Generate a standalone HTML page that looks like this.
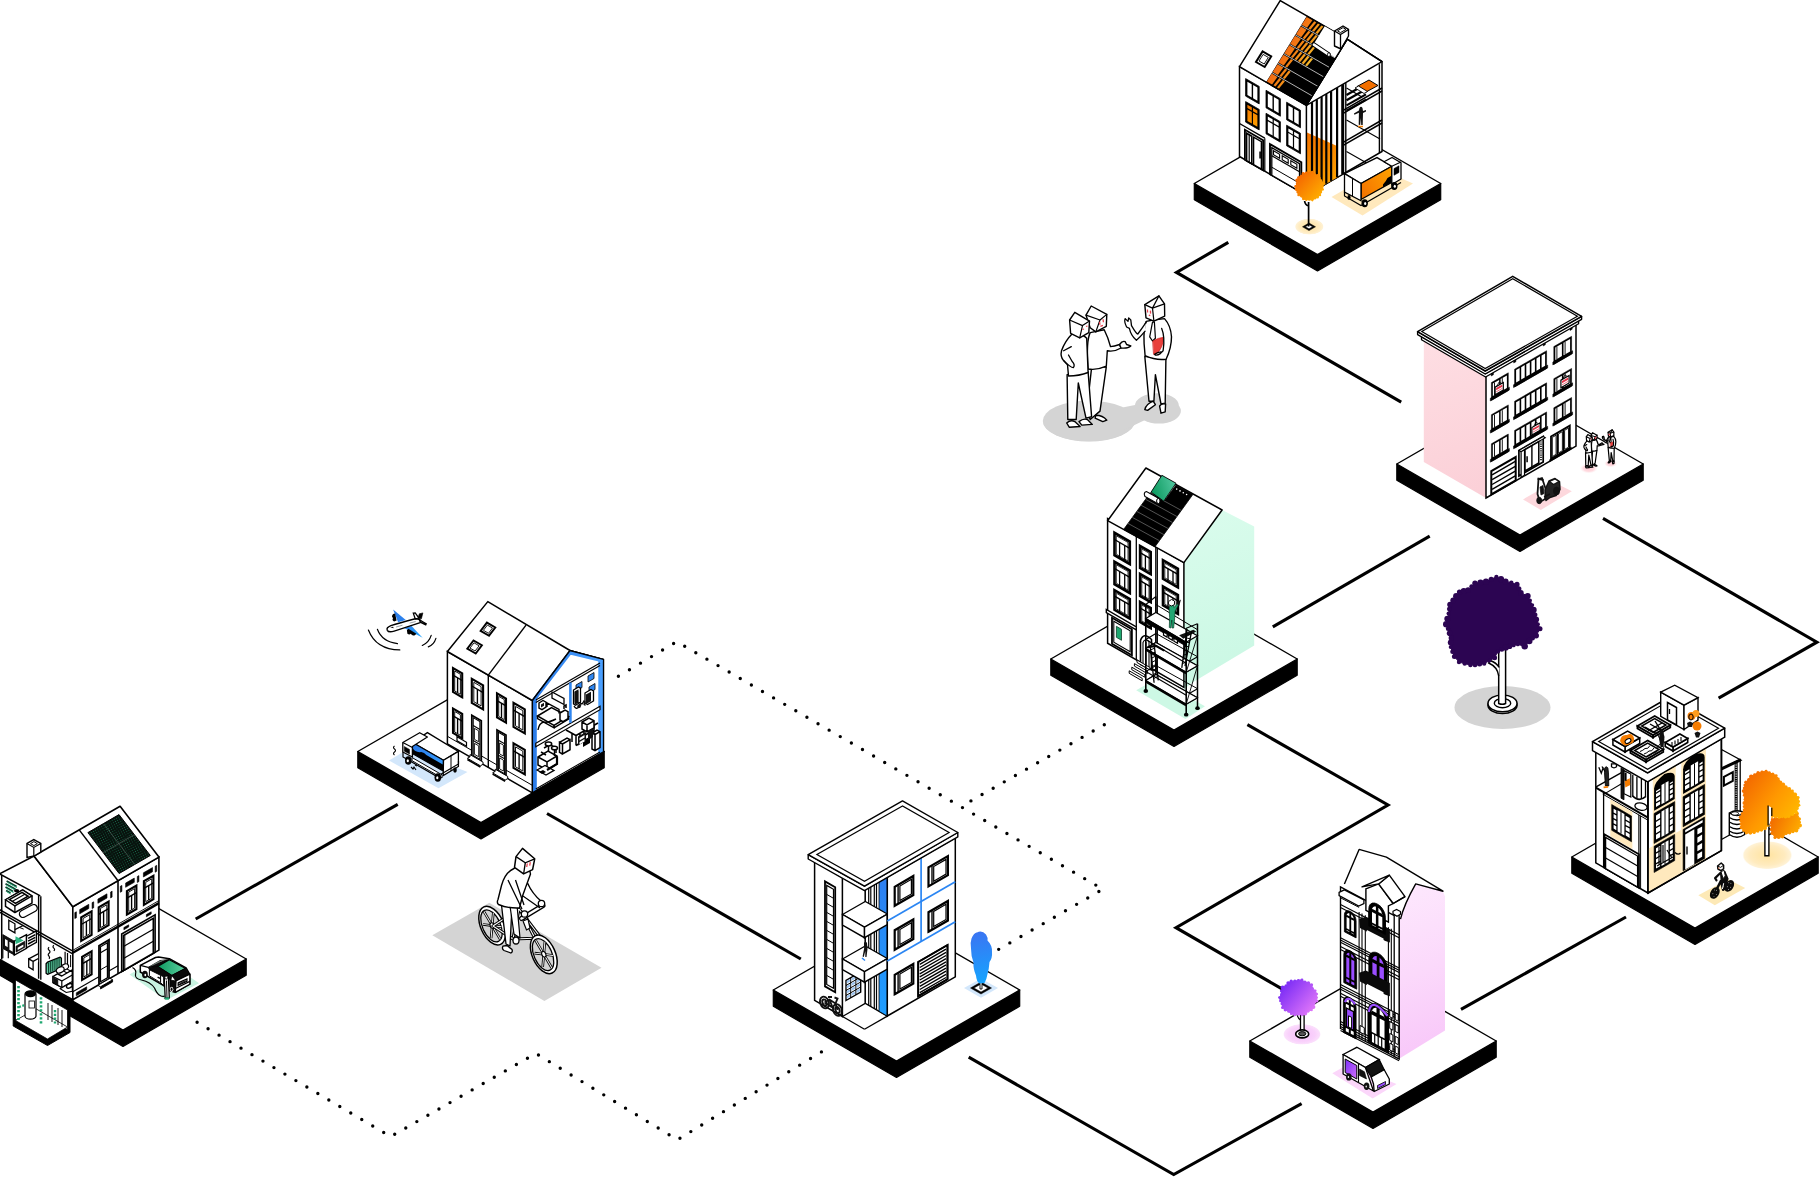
<!DOCTYPE html>
<html><head><meta charset="utf-8"><title>Renovation neighbourhood</title>
<style>html,body{margin:0;padding:0;background:#fff;overflow:hidden}svg{display:block}</style></head>
<body><svg width="1820" height="1178" viewBox="0 0 1820 1178">
<defs>
<linearGradient id="g1rad" gradientUnits="userSpaceOnUse" x1="46" y1="960" x2="62" y2="978"><stop offset="0" stop-color="#3fbf8f"/><stop offset="1" stop-color="#9fe3c6"/></linearGradient>
<pattern id="sol1" width="2.4" height="2.4" patternUnits="userSpaceOnUse" patternTransform="rotate(-30)"><rect width="2.4" height="2.4" fill="#08130e"/><circle cx="1.2" cy="1.2" r="0.42" fill="#1c8a5d"/></pattern>
<linearGradient id="g1car" gradientUnits="userSpaceOnUse" x1="157" y1="966" x2="186" y2="968"><stop offset="0" stop-color="#0b9a5f"/><stop offset="1" stop-color="#5fd1a2"/></linearGradient>
<linearGradient id="g2b" gradientUnits="userSpaceOnUse" x1="532" y1="700" x2="604" y2="700"><stop offset="0" stop-color="#2a7be8"/><stop offset="1" stop-color="#4aa0ff"/></linearGradient>
<linearGradient id="g2t" gradientUnits="userSpaceOnUse" x1="412" y1="750" x2="444" y2="770"><stop offset="0" stop-color="#2a7be8"/><stop offset="1" stop-color="#3aa0ff"/></linearGradient>
<linearGradient id="g2w" gradientUnits="userSpaceOnUse" x1="393" y1="610" x2="423" y2="637"><stop offset="0" stop-color="#2a7be8"/><stop offset="0.5" stop-color="#2f86f0"/><stop offset="1" stop-color="#25a8ff"/></linearGradient>
<linearGradient id="g3b" gradientUnits="userSpaceOnUse" x1="0" y1="860" x2="0" y2="1010"><stop offset="0" stop-color="#2f7bef"/><stop offset="1" stop-color="#1e9dff"/></linearGradient>
<linearGradient id="g3t" gradientUnits="userSpaceOnUse" x1="975" y1="932" x2="985" y2="985"><stop offset="0" stop-color="#3b74f2"/><stop offset="1" stop-color="#14a6ff"/></linearGradient>
<linearGradient id="g4o" gradientUnits="userSpaceOnUse" x1="1306" y1="130" x2="1340" y2="195"><stop offset="0" stop-color="#f26f00"/><stop offset="1" stop-color="#ffae00"/></linearGradient>
<linearGradient id="g4r" gradientUnits="userSpaceOnUse" x1="1266" y1="80" x2="1310" y2="10"><stop offset="0" stop-color="#ff9a00"/><stop offset="1" stop-color="#f26f00"/></linearGradient>
<linearGradient id="g4w" gradientUnits="userSpaceOnUse" x1="1245" y1="100" x2="1259" y2="130"><stop offset="0" stop-color="#f26f00"/><stop offset="1" stop-color="#ffa500"/></linearGradient>
<linearGradient id="g4r" gradientUnits="userSpaceOnUse" x1="1266" y1="85" x2="1325" y2="20"><stop offset="0" stop-color="#f7a21a"/><stop offset="0.5" stop-color="#f58a12"/><stop offset="1" stop-color="#f26a14"/></linearGradient>
<linearGradient id="g4r2" gradientUnits="userSpaceOnUse" x1="1287" y1="49.3" x2="1309.5" y2="62.3"><stop offset="0" stop-color="#f26c12"/><stop offset="0.45" stop-color="#f48a16"/><stop offset="1" stop-color="#f7b82a"/></linearGradient>
<linearGradient id="g4t" gradientUnits="userSpaceOnUse" x1="1361" y1="190" x2="1392" y2="172"><stop offset="0" stop-color="#f57600"/><stop offset="1" stop-color="#ffa000"/></linearGradient>
<radialGradient id="g4glow"><stop offset="0" stop-color="#ffe3a0"/><stop offset="0.7" stop-color="#ffebbf"/><stop offset="0.93" stop-color="#fff1d2" stop-opacity="0.95"/><stop offset="1" stop-color="#fff6e0" stop-opacity="0"/></radialGradient>
<linearGradient id="g4tree" gradientUnits="userSpaceOnUse" x1="1298" y1="178" x2="1320" y2="198"><stop offset="0" stop-color="#f56a00"/><stop offset="1" stop-color="#ffae00"/></linearGradient>
<linearGradient id="g5p" gradientUnits="userSpaceOnUse" x1="1424" y1="340" x2="1486" y2="498"><stop offset="0" stop-color="#fedee3"/><stop offset="1" stop-color="#fbcfd7"/></linearGradient>
<radialGradient id="g5s"><stop offset="0" stop-color="#ffc9d2"/><stop offset="0.6" stop-color="#ffd6dc" stop-opacity="0.9"/><stop offset="1" stop-color="#ffe9ec" stop-opacity="0"/></radialGradient>
<linearGradient id="g6g" gradientUnits="userSpaceOnUse" x1="1190" y1="520" x2="1250" y2="690"><stop offset="0" stop-color="#d9fcec"/><stop offset="1" stop-color="#c9f7e3"/></linearGradient>
<linearGradient id="g6r" gradientUnits="userSpaceOnUse" x1="1152" y1="492" x2="1174" y2="485"><stop offset="0" stop-color="#0b9a5f"/><stop offset="1" stop-color="#4cc39a"/></linearGradient>
<linearGradient id="g7o" gradientUnits="objectBoundingBox" x1="0" y1="0" x2="1" y2="1"><stop offset="0" stop-color="#f26a00"/><stop offset="1" stop-color="#ffb400"/></linearGradient>
<radialGradient id="g7glow"><stop offset="0" stop-color="#ffe3a0"/><stop offset="0.7" stop-color="#ffebbf"/><stop offset="0.93" stop-color="#fff1d2" stop-opacity="0.95"/><stop offset="1" stop-color="#fff6e0" stop-opacity="0"/></radialGradient>
<linearGradient id="g7t1" gradientUnits="userSpaceOnUse" x1="1745" y1="775" x2="1800" y2="815"><stop offset="0" stop-color="#f26500"/><stop offset="0.55" stop-color="#ff9800"/><stop offset="1" stop-color="#ffbb00"/></linearGradient>
<linearGradient id="g7t2" gradientUnits="userSpaceOnUse" x1="1772" y1="818" x2="1801" y2="832"><stop offset="0" stop-color="#f26c00"/><stop offset="1" stop-color="#ffb000"/></linearGradient>
<linearGradient id="g8p" gradientUnits="userSpaceOnUse" x1="1395" y1="900" x2="1450" y2="1040"><stop offset="0" stop-color="#fde6fd"/><stop offset="0.5" stop-color="#fbd9fb"/><stop offset="1" stop-color="#f8c8f9"/></linearGradient>
<linearGradient id="g8v" gradientUnits="objectBoundingBox" x1="0" y1="0" x2="1" y2="1"><stop offset="0" stop-color="#7b2ff7"/><stop offset="1" stop-color="#d070fb"/></linearGradient>
<radialGradient id="g8glow"><stop offset="0" stop-color="#f6c0fa"/><stop offset="0.7" stop-color="#f9d1fb"/><stop offset="0.93" stop-color="#fbddfc" stop-opacity="0.95"/><stop offset="1" stop-color="#fdebfd" stop-opacity="0"/></radialGradient>
<linearGradient id="g8t" gradientUnits="userSpaceOnUse" x1="1283" y1="985" x2="1315" y2="1012"><stop offset="0" stop-color="#7a2cf5"/><stop offset="1" stop-color="#e57af9"/></linearGradient>
</defs>
<polyline points="195.7,919 397.7,804.4" fill="none" stroke="#000" stroke-width="3.1" stroke-linejoin="miter" stroke-miterlimit="10"/>
<polyline points="547,813.5 800.8,959" fill="none" stroke="#000" stroke-width="3.1" stroke-linejoin="miter" stroke-miterlimit="10"/>
<polyline points="1228.3,242.4 1176.5,272.4 1401.2,402.2" fill="none" stroke="#000" stroke-width="3.1" stroke-linejoin="miter" stroke-miterlimit="10"/>
<polyline points="1429.7,536.2 1272.8,626.9" fill="none" stroke="#000" stroke-width="3.1" stroke-linejoin="miter" stroke-miterlimit="10"/>
<polyline points="1603,518.4 1816.9,642.2 1718.6,698.2" fill="none" stroke="#000" stroke-width="3.1" stroke-linejoin="miter" stroke-miterlimit="10"/>
<polyline points="1247.4,724.7 1388,805 1176,927.7 1285,990.6" fill="none" stroke="#000" stroke-width="3.1" stroke-linejoin="miter" stroke-miterlimit="10"/>
<polyline points="1626,917 1461,1009.4" fill="none" stroke="#000" stroke-width="3.1" stroke-linejoin="miter" stroke-miterlimit="10"/>
<polyline points="968.7,1057.2 1173.7,1174.5 1301.6,1103.6" fill="none" stroke="#000" stroke-width="3.1" stroke-linejoin="miter" stroke-miterlimit="10"/>
<polyline points="618.4,676.3 676.7,641.6 1102.9,889.2 996,950.9" fill="none" stroke="#000" stroke-width="3.4" stroke-linecap="round" stroke-linejoin="round" stroke-dasharray="0 12.85" stroke-dashoffset="0"/>
<polyline points="1104.3,724.7 961.5,806.3" fill="none" stroke="#000" stroke-width="3.4" stroke-linecap="round" stroke-linejoin="round" stroke-dasharray="0 12.8" stroke-dashoffset="0"/>
<polyline points="197.1,1022.2 390.7,1136.6 535.8,1053.4 677.4,1139.8 821.9,1051.6" fill="none" stroke="#000" stroke-width="3.4" stroke-linecap="round" stroke-linejoin="round" stroke-dasharray="0 12.75" stroke-dashoffset="0"/>
<polygon points="-0.2,959 123,1030.1 246.2,959 246.2,975.3 123,1046.4 -0.2,975.3" fill="#000" stroke="#000" stroke-width="1.2" stroke-linejoin="round"/>
<polygon points="-0.2,959 123,887.9 246.2,959 123,1030.1" fill="#fff" stroke="#000" stroke-width="1.4" stroke-linejoin="round"/>
<polygon points="357.8,751.5 481,822.6 604.2,751.5 604.2,767.8 481,838.9 357.8,767.8" fill="#000" stroke="#000" stroke-width="1.2" stroke-linejoin="round"/>
<polygon points="357.8,751.5 481,680.4 604.2,751.5 481,822.6" fill="#fff" stroke="#000" stroke-width="1.4" stroke-linejoin="round"/>
<polygon points="773.3,990 896.5,1061.1 1019.7,990 1019.7,1006.3 896.5,1077.4 773.3,1006.3" fill="#000" stroke="#000" stroke-width="1.2" stroke-linejoin="round"/>
<polygon points="773.3,990 896.5,918.9 1019.7,990 896.5,1061.1" fill="#fff" stroke="#000" stroke-width="1.4" stroke-linejoin="round"/>
<polygon points="1194.3,183.5 1317.5,254.6 1440.7,183.5 1440.7,199.8 1317.5,270.9 1194.3,199.8" fill="#000" stroke="#000" stroke-width="1.2" stroke-linejoin="round"/>
<polygon points="1194.3,183.5 1317.5,112.4 1440.7,183.5 1317.5,254.6" fill="#fff" stroke="#000" stroke-width="1.4" stroke-linejoin="round"/>
<polygon points="1396.8,464 1520,535.1 1643.2,464 1643.2,480.3 1520,551.4 1396.8,480.3" fill="#000" stroke="#000" stroke-width="1.2" stroke-linejoin="round"/>
<polygon points="1396.8,464 1520,392.9 1643.2,464 1520,535.1" fill="#fff" stroke="#000" stroke-width="1.4" stroke-linejoin="round"/>
<polygon points="1050.8,659 1174,730.1 1297.2,659 1297.2,675.3 1174,746.4 1050.8,675.3" fill="#000" stroke="#000" stroke-width="1.2" stroke-linejoin="round"/>
<polygon points="1050.8,659 1174,587.9 1297.2,659 1174,730.1" fill="#fff" stroke="#000" stroke-width="1.4" stroke-linejoin="round"/>
<polygon points="1571.8,857 1695,928.1 1818.2,857 1818.2,873.3 1695,944.4 1571.8,873.3" fill="#000" stroke="#000" stroke-width="1.2" stroke-linejoin="round"/>
<polygon points="1571.8,857 1695,785.9 1818.2,857 1695,928.1" fill="#fff" stroke="#000" stroke-width="1.4" stroke-linejoin="round"/>
<polygon points="1249.8,1041 1373,1112.1 1496.2,1041 1496.2,1057.3 1373,1128.4 1249.8,1057.3" fill="#000" stroke="#000" stroke-width="1.2" stroke-linejoin="round"/>
<polygon points="1249.8,1041 1373,969.9 1496.2,1041 1373,1112.1" fill="#fff" stroke="#000" stroke-width="1.4" stroke-linejoin="round"/>
<polygon points="13.2,975 70,1008 70,1032.5 47.5,1045.5 13.2,1026" fill="#000" stroke="#000" stroke-width="1" />
<polygon points="15.5,980 67.5,1010 67.5,1029.5 47.5,1018 15.5,1020" fill="#fff" stroke="#000" stroke-width="0.8" />
<polygon points="15.5,1020.5 36,1008.8 67.5,1027 47.5,1039" fill="#fff" stroke="#000" stroke-width="0.8" />
<path d="M25 994 v22 a5.5 3.2 0 0 0 11 0 v-22 a5.5 3.2 0 0 0 -11 0z" fill="#fff" stroke="#000" stroke-width="1.2"/>
<ellipse cx="30.5" cy="994" rx="5.5" ry="3.2" fill="#000"/>
<rect x="29" y="1001" width="5.5" height="7" fill="#fff" stroke="#000" stroke-width="0.8"/>
<polyline points="18.5,986 18.5,1020" fill="none" stroke="#1fa870" stroke-width="2.6" stroke-dasharray="2.2 1.8"/>
<polyline points="41,997.2 41,1024.5" fill="none" stroke="#1fa870" stroke-width="2.6" stroke-dasharray="2.2 1.8"/>
<polyline points="19,1007 25,1005" fill="none" stroke="#1fa870" stroke-width="2.2" stroke-dasharray="2 1.5"/>
<polyline points="55,1010 55,1024" fill="none" stroke="#1fa870" stroke-width="2.4" stroke-dasharray="2.2 1.6"/>
<polyline points="48,1003 48,1020" fill="none" stroke="#000" stroke-width="0.9" />
<polyline points="52,1005 52,1022" fill="none" stroke="#000" stroke-width="0.9" />
<polyline points="58,1008 58,1025" fill="none" stroke="#000" stroke-width="0.9" />
<polyline points="62,1010 62,1027" fill="none" stroke="#000" stroke-width="0.9" />
<polygon points="72.8,999.8 72.8,906.8 34,856 -3,875.2 -3,958" fill="#fff" stroke="#000" stroke-width="1.6" />
<polyline points="-2.2,908.6 72.8,951.1" fill="none" stroke="#000" stroke-width="1.4" />
<polyline points="-2.2,911.1 72.3,953.6" fill="none" stroke="#000" stroke-width="1.4" />
<polyline points="38.6,895.2 38.6,978.7" fill="none" stroke="#000" stroke-width="1.4" />
<polyline points="40.8,896.3 40.8,979.8" fill="none" stroke="#000" stroke-width="1.4" />
<polyline points="-2.2,872.9 40.3,895.9" fill="none" stroke="#000" stroke-width="1.4" />
<polyline points="1.7,875 1.7,959.6" fill="none" stroke="#000" stroke-width="1.5" />
<polyline points="6.6,881 16.6,886.6" fill="none" stroke="#0b3d2a" stroke-width="1.7" />
<polyline points="7.3,882.4 17,887.8" fill="none" stroke="#2bb581" stroke-width="0.9" />
<polyline points="5.5,883.8 15.5,889.3" fill="none" stroke="#0b3d2a" stroke-width="1.7" />
<polyline points="6.2,885.1 15.9,890.5" fill="none" stroke="#2bb581" stroke-width="0.9" />
<polyline points="5.5,887.1 13.2,891.5" fill="none" stroke="#0b3d2a" stroke-width="1.7" />
<polyline points="6.2,888.4 13.7,892.7" fill="none" stroke="#2bb581" stroke-width="0.9" />
<polyline points="6.1,890.4 10.5,893" fill="none" stroke="#0b3d2a" stroke-width="1.7" />
<polyline points="6.7,891.7 10.9,894.2" fill="none" stroke="#2bb581" stroke-width="0.9" />
<polygon points="5.5,899.8 22.6,889.9 32,895.9 32,903.1 14.9,912.5 5.5,906.4" fill="#fff" stroke="#000" stroke-width="1.5" stroke-linejoin="round"/>
<polygon points="5.5,899.8 22.6,889.9 32,895.9 14.9,905.9" fill="#fff" stroke="#000" stroke-width="1.3" />
<polyline points="14.9,905.9 14.9,912.5" fill="none" stroke="#000" stroke-width="1.3" />
<polygon points="9.4,899.6 22.1,892.4 28.1,896.3 15.5,903.4" fill="#fff" stroke="#000" stroke-width="1.6" />
<polyline points="12.1,901.5 24.8,894.3" fill="none" stroke="#000" stroke-width="1.2" />
<ellipse cx="16.6" cy="890.8" rx="2.600" ry="1.700" fill="#000"/>
<path d="M23,913.9 L33.7,908.1" stroke="#000" stroke-width="8.400" stroke-linecap="round" fill="none"/><path d="M23,913.9 L33.7,908.1" stroke="#fff" stroke-width="5.800" stroke-linecap="round" fill="none"/>
<polygon points="8.8,920.2 14.9,923.8 14.9,932.9 8.8,929.4" fill="#fff" stroke="#000" stroke-width="1.3" />
<polyline points="14.9,929.6 23.7,925.2" fill="none" stroke="#000" stroke-width="1.2" />
<polyline points="19.3,927.4 23.7,929.1" fill="none" stroke="#000" stroke-width="1.0" />
<polygon points="2.8,934.6 14.3,941.2 14.3,955 2.8,948.4" fill="#111" stroke="#000" stroke-width="0.8" />
<polygon points="5,939 7.7,940.6 7.7,947.3 5,945.6" fill="#fff" stroke="none" stroke-width="0" />
<polygon points="9.4,941.7 12.7,943.6 12.7,951.7 9.4,949.8" fill="#fff" stroke="none" stroke-width="0" />
<polygon points="14.3,941.2 26.5,934.6 26.5,948.4 14.3,955" fill="#fff" stroke="#000" stroke-width="1.4" />
<polygon points="15.5,936.2 23.7,940.6 15.5,944.2" fill="#2bb581" stroke="none" stroke-width="0" />
<polygon points="16,946.2 24.8,941.2 24.8,947.3 16,952.2" fill="#111" stroke="#000" stroke-width="0.6" />
<polygon points="17.7,947.8 23.4,944.6 23.4,946.7 17.7,949.9" fill="#fff" stroke="none" stroke-width="0" />
<polygon points="26.5,936.2 36.4,930.9 36.4,942.3 26.5,947.8" fill="#fff" stroke="#000" stroke-width="1.3" />
<polyline points="28.1,938.4 35.3,934.6" fill="none" stroke="#000" stroke-width="1.5" />
<polyline points="28.1,941.2 35.3,937.3" fill="none" stroke="#000" stroke-width="1.5" />
<polyline points="28.1,944 35.3,940.1" fill="none" stroke="#000" stroke-width="1.5" />
<polyline points="2.8,948.4 2.8,958.3" fill="none" stroke="#000" stroke-width="1.2" />
<polyline points="8.3,951.7 8.3,958.3" fill="none" stroke="#000" stroke-width="1.2" />
<polygon points="28.7,958.9 38.1,953.9 38.1,961.6 33.1,969.9 28.7,967.1" fill="#fff" stroke="none" stroke-width="0" />
<polygon points="28.7,958.9 33.1,961.4 33.1,969.9 28.7,967.1" fill="#fff" stroke="#000" stroke-width="1.3" />
<polyline points="28.7,958.9 38.1,953.9" fill="none" stroke="#000" stroke-width="1.3" />
<polyline points="33.1,961.4 38.4,958.5" fill="none" stroke="#000" stroke-width="1.3" />
<polygon points="46.1,963.8 47.5,962.2 60.2,957.2 61.4,958.3 61.4,967.1 60.2,968.8 47.5,974.3 46.1,973.2" fill="url(#g1rad)" stroke="#000" stroke-width="1.3" stroke-linejoin="round"/>
<polyline points="48.6,962.5 48.6,973.2" fill="none" stroke="#0b3d2a" stroke-width="1.1" />
<polyline points="50.7,961.6 50.7,972.3" fill="none" stroke="#0b3d2a" stroke-width="1.1" />
<polyline points="52.8,960.6 52.8,971.3" fill="none" stroke="#0b3d2a" stroke-width="1.1" />
<polyline points="54.9,959.7 54.9,970.4" fill="none" stroke="#0b3d2a" stroke-width="1.1" />
<polyline points="57,958.7 57,969.4" fill="none" stroke="#0b3d2a" stroke-width="1.1" />
<polyline points="59.1,957.8 59.1,968.5" fill="none" stroke="#0b3d2a" stroke-width="1.1" />
<path d="M49.1 947.3 q-1.800 1.500 0 3 q1.800 1.500 0 3 q-1.800 1.500 0 3 q1 1.200 0 2.500 M53.8 945.3 q-1.600 1.400 0 2.800 q1.600 1.400 0 2.800" fill="none" stroke="#000" stroke-width="1.200"/>
<polyline points="65.1,951.7 65.1,969.3" fill="none" stroke="#000" stroke-width="1.2" />
<polyline points="67.5,953 67.5,968.2" fill="none" stroke="#000" stroke-width="1.2" />
<polyline points="70.6,955 70.6,967.1" fill="none" stroke="#000" stroke-width="1.0" />
<polygon points="63.5,967.1 72.3,972.1 72.3,976 63.5,971" fill="#fff" stroke="#000" stroke-width="1.1" />
<polygon points="53,976.5 57.4,973.8 61.8,976 72.3,969.9 72.3,981.5 61.8,987.5 53,982.6" fill="#fff" stroke="#000" stroke-width="1.4" stroke-linejoin="round"/>
<polygon points="53,976.5 61.8,980.9 61.8,987.5 53,982.6" fill="#fff" stroke="#000" stroke-width="1.2" />
<polyline points="61.8,980.9 72.3,974.9" fill="none" stroke="#000" stroke-width="1.2" />
<polygon points="53.5,977.6 57.9,979.8 57.9,985.3 53.5,983.1" fill="#111" stroke="#000" stroke-width="0.5" />
<ellipse cx="64.6" cy="967.1" rx="4.200" ry="2.800" fill="#fff" stroke="#000" stroke-width="1.200" transform="rotate(-28 64.6 967.1)"/>
<ellipse cx="60.2" cy="969.9" rx="4.200" ry="2.800" fill="#fff" stroke="#000" stroke-width="1.200" transform="rotate(-28 60.2 969.9)"/>
<polygon points="60.2,988.7 70.6,982.6 72.3,983.7 72.3,991.4 66.2,992.5" fill="#fff" stroke="#000" stroke-width="1.1" />
<ellipse cx="69.3" cy="985.9" rx="3" ry="2" fill="#fff" stroke="#000" stroke-width="1.400" transform="rotate(-28 69.3 985.9)"/>
<polygon points="72.8,999.8 158.9,950.1 158.9,857.1 72.8,906.8" fill="#fff" stroke="#000" stroke-width="1.6" />
<polyline points="72.8,952.8 158.9,903.1" fill="none" stroke="#000" stroke-width="2.4" />
<polyline points="72.8,950.3 158.9,900.6" fill="none" stroke="#000" stroke-width="0.9" />
<polyline points="118,973.7 118,880.7" fill="none" stroke="#000" stroke-width="1.6" />
<polyline points="72.8,991.8 118,965.7" fill="none" stroke="#000" stroke-width="1.1" />
<polygon points="81.2,940.9 91.6,934.9 91.6,911.4 81.2,917.4" fill="#fff" stroke="#000" stroke-width="2.1" />
<polygon points="83.1,937.7 89.7,933.9 89.7,914.7 83.1,918.5" fill="#fff" stroke="#000" stroke-width="0.9450000000000001" />
<polyline points="81.2,924.5 91.6,918.5" fill="none" stroke="#000" stroke-width="1.3650000000000002" />
<polyline points="86.4,935.8 86.4,921.5" fill="none" stroke="#000" stroke-width="1.3650000000000002" />
<polygon points="98.7,930.8 108.6,925.1 108.6,901.6 98.7,907.3" fill="#fff" stroke="#000" stroke-width="2.1" />
<polygon points="100.5,927.7 106.8,924.1 106.8,904.8 100.5,908.4" fill="#fff" stroke="#000" stroke-width="0.9450000000000001" />
<polyline points="98.7,914.4 108.6,908.7" fill="none" stroke="#000" stroke-width="1.3650000000000002" />
<polyline points="103.6,925.9 103.6,911.5" fill="none" stroke="#000" stroke-width="1.3650000000000002" />
<polygon points="126.9,914.5 136.4,909.1 136.4,885.6 126.9,891" fill="#fff" stroke="#000" stroke-width="2.1" />
<polygon points="128.7,911.5 134.6,908.1 134.6,888.6 128.7,892.1" fill="#fff" stroke="#000" stroke-width="0.9450000000000001" />
<polyline points="126.9,898.1 136.4,892.6" fill="none" stroke="#000" stroke-width="1.3650000000000002" />
<polyline points="131.6,909.8 131.6,895.4" fill="none" stroke="#000" stroke-width="1.3650000000000002" />
<polygon points="143.9,904.8 153.4,899.2 153.4,875.8 143.9,881.2" fill="#fff" stroke="#000" stroke-width="2.1" />
<polygon points="145.7,901.7 151.7,898.2 151.7,878.8 145.7,882.3" fill="#fff" stroke="#000" stroke-width="0.9450000000000001" />
<polyline points="143.9,888.3 153.4,882.8" fill="none" stroke="#000" stroke-width="1.3650000000000002" />
<polyline points="148.7,900 148.7,885.5" fill="none" stroke="#000" stroke-width="1.3650000000000002" />
<polygon points="79.7,913.8 88.8,908.5 88.8,904.3 79.7,909.6" fill="#000" stroke="#000" stroke-width="0.6" />
<polygon points="97.9,903.3 107,898 107,893.8 97.9,899.1" fill="#000" stroke="#000" stroke-width="0.6" />
<polygon points="125.6,887.3 134.3,882.3 134.3,878.1 125.6,883.1" fill="#000" stroke="#000" stroke-width="0.6" />
<polygon points="143.4,877 152.5,871.8 152.5,867.6 143.4,872.8" fill="#000" stroke="#000" stroke-width="0.6" />
<polygon points="74.8,918.6 76.4,917.8 76.4,911.8 74.8,912.6" fill="#000" stroke="#000" stroke-width="0.6" />
<polygon points="92.1,908.6 93.7,907.8 93.7,901.8 92.1,902.6" fill="#000" stroke="#000" stroke-width="0.6" />
<polygon points="110.6,898 112.1,897.1 112.1,891.1 110.6,892" fill="#000" stroke="#000" stroke-width="0.6" />
<polygon points="120.3,892.3 121.9,891.4 121.9,885.4 120.3,886.3" fill="#000" stroke="#000" stroke-width="0.6" />
<polygon points="137.3,882.5 138.9,881.6 138.9,875.6 137.3,876.5" fill="#000" stroke="#000" stroke-width="0.6" />
<polygon points="155.2,872.2 156.7,871.3 156.7,865.3 155.2,866.2" fill="#000" stroke="#000" stroke-width="0.6" />
<polygon points="82.1,979.9 91.6,974.4 91.6,951.4 82.1,956.9" fill="#fff" stroke="#000" stroke-width="2.1" />
<polygon points="83.8,976.9 89.8,973.4 89.8,954.5 83.8,958" fill="#fff" stroke="#000" stroke-width="0.9450000000000001" />
<polyline points="82.1,963.8 91.6,958.3" fill="none" stroke="#000" stroke-width="1.3650000000000002" />
<polyline points="86.8,975.2 86.8,961.1" fill="none" stroke="#000" stroke-width="1.3650000000000002" />
<polygon points="99,984.7 109,978.9 109,939.9 99,945.7" fill="#fff" stroke="#000" stroke-width="1.8" />
<polygon points="100.5,981.8 107.4,977.8 107.4,942.8 100.5,946.8" fill="#fff" stroke="#000" stroke-width="1.2" />
<polyline points="100.5,952.8 107.4,948.8" fill="none" stroke="#000" stroke-width="1.2" />
<polyline points="100.5,969.8 107.4,965.8" fill="none" stroke="#000" stroke-width="1.0" />
<polygon points="100.5,986.8 112.6,979.8 112.6,982 100.5,989" fill="#000" stroke="#000" stroke-width="0.8" />
<polygon points="97.9,985.3 110,978.3 112.6,979.8 100.5,986.8" fill="#fff" stroke="#000" stroke-width="1.0" />
<polygon points="76.3,995.8 86.7,989.8 86.7,986.8 76.3,992.8" fill="#000" stroke="#000" stroke-width="0.6" />
<polygon points="121.7,971.5 155.1,952.3 155.1,914.8 121.7,934" fill="#fff" stroke="#000" stroke-width="1.6" />
<polygon points="123.5,970.5 153.3,953.3 153.3,918.3 123.5,935.5" fill="#fff" stroke="#000" stroke-width="1.6" />
<polyline points="123.5,958.5 153.3,941.3" fill="none" stroke="#000" stroke-width="1.3" />
<polyline points="123.5,946.5 153.3,929.3" fill="none" stroke="#000" stroke-width="1.3" />
<polyline points="124.8,969.8 124.8,934.8" fill="none" stroke="#000" stroke-width="1.0" />
<polygon points="123.9,929.8 128.7,927 128.7,924.8 123.9,927.5" fill="#000" stroke="#000" stroke-width="0.6" />
<polygon points="146.4,916.8 151.2,914 151.2,911.8 146.4,914.5" fill="#000" stroke="#000" stroke-width="0.6" />
<polygon points="72.8,906.8 158.9,857.1 120.1,806.3 34,856" fill="#fff" stroke="#000" stroke-width="1.6" stroke-linejoin="round"/>
<polyline points="118,880.7 79.2,829.9" fill="none" stroke="#000" stroke-width="1.5" />
<polygon points="27,857.5 27,843.5 33.8,839.6 40.8,843.5 40.8,852 34,856" fill="#fff" stroke="#000" stroke-width="1.4" />
<polyline points="27,843.5 33.8,847.4 40.8,843.5" fill="none" stroke="#000" stroke-width="1.2" />
<polyline points="33.8,847.4 33.8,856" fill="none" stroke="#000" stroke-width="1.2" />
<polygon points="30.5,843.6 33.9,841.6 37.3,843.6 33.9,845.6" fill="#fff" stroke="#000" stroke-width="1.0" />
<polygon points="87.9,832.6 119,814.6 150.3,855.5 119.1,873.5" fill="url(#sol1)" stroke="#000" stroke-width="1.0" />
<polyline points="103.5,823.6 134.7,864.5" fill="none" stroke="#6b7f76" stroke-width="0.5" />
<polyline points="103.2,852.6 134.4,834.6" fill="none" stroke="#6b7f76" stroke-width="0.5" />
<polygon points="129.5,974.5 161,956.5 199,983.2 166,1000.3" fill="#c8f3e1" stroke="none" stroke-width="0" />
<path d="M132.500 967.500 q4.500 2.500 3 7 q-1 4 6 5.500 q9 2 13 8 q2.500 6 5.500 7.500 q3 1.500 4.500 0.500" fill="none" stroke="#000" stroke-width="1.200"/>
<polygon points="140.3,965.4 155.5,957.5 158.6,957.1 169.3,958.7 186.1,967.9 189.9,974.5 189.9,984.2 175.4,992.4 169.8,990.8 163.7,985.7 140.3,972" fill="#fff" stroke="#000" stroke-width="1.5" stroke-linejoin="round"/>
<polygon points="148.2,967.4 160.1,960.5 169.3,959.5 157.6,966.4" fill="#0a0a0a" stroke="#000" stroke-width="0.8" />
<polyline points="150.5,966.3 158.1,962.3" fill="none" stroke="#7d8a84" stroke-width="0.5" />
<polyline points="152.4,965.2 160,961.6" fill="none" stroke="#7d8a84" stroke-width="0.5" />
<polyline points="154.3,964 162,960.9" fill="none" stroke="#7d8a84" stroke-width="0.5" />
<polyline points="156.3,962.9 163.9,960.2" fill="none" stroke="#7d8a84" stroke-width="0.5" />
<polyline points="158.2,961.8 165.8,959.5" fill="none" stroke="#7d8a84" stroke-width="0.5" />
<polygon points="157.6,966.4 169.3,959.8 185.6,968.4 171.8,975.5" fill="url(#g1car)" stroke="#000" stroke-width="1.2" />
<polygon points="148.2,967.4 157.6,966.4 171.8,975.5 170.8,980.6 160.6,975 149.4,969.7" fill="#0a0a0a" stroke="#000" stroke-width="0.8" />
<polygon points="149.4,969.7 160.6,975.3 160.6,982.7 149.4,975.8" fill="#fff" stroke="#000" stroke-width="1.0" />
<polyline points="157.6,977.1 160.1,978.4" fill="none" stroke="#000" stroke-width="1.5" />
<polygon points="160.6,975.3 163.7,976.8 163.7,985.7 160.6,982.7" fill="#fff" stroke="#000" stroke-width="1.0" />
<polygon points="171.8,975.5 185.6,968.4 189.8,974.3 175.9,980.9" fill="#0a0a0a" stroke="#000" stroke-width="0.8" />
<polygon points="175.9,980.9 189.8,974.3 189.8,984.2 175.4,992.3" fill="#fff" stroke="#000" stroke-width="1.2" />
<polygon points="178.2,982.9 186.9,978.9 186.9,981.3 178.2,985.3" fill="#fff" stroke="#000" stroke-width="1.3" />
<polygon points="179.7,983.2 185.6,980.5 185.6,981.3 179.7,984" fill="#0a0a0a" stroke="#000" stroke-width="0.4" />
<polyline points="175.9,988.3 189.8,981.4" fill="none" stroke="#000" stroke-width="1.2" />
<polygon points="169.8,980.1 175.9,980.9 175.4,992.3 169.8,990.8" fill="#0a0a0a" stroke="#000" stroke-width="0.8" />
<ellipse cx="171.6" cy="989.3" rx="1.700" ry="2.600" fill="#fff"/>
<ellipse cx="171.6" cy="989.3" rx="1" ry="1.700" fill="#0a0a0a"/>
<ellipse cx="144.900" cy="974.500" rx="2.900" ry="3.700" fill="#0a0a0a"/><ellipse cx="145.300" cy="975" rx="0.900" ry="1.300" fill="#fff"/>
<polyline points="140.3,965.4 148.2,967.4" fill="none" stroke="#000" stroke-width="1.2" />
<polygon points="164.2,976.1 168.3,975.5 169.3,998 165.2,998.5" fill="#fff" stroke="#000" stroke-width="1.3" />
<polyline points="166.5,980.6 167,998" fill="none" stroke="#000" stroke-width="1.0" />
<polygon points="164.2,997.7 169.3,997.2 168.8,999.7 165.2,999.5" fill="#1fa870" stroke="none" stroke-width="0" />
<ellipse cx="166.2" cy="977.6" rx="1.300" ry="1.600" fill="#fff" stroke="#000" stroke-width="0.900"/>
<polygon points="389,760.5 409,748.5 467.5,772 438.5,788.2" fill="#d3e7fb" stroke="none" stroke-width="0" />
<polygon points="532.3,792.8 532.3,700.5 570,650.5 603.5,659.4 603.5,751.7" fill="#fff" stroke="#000" stroke-width="1.2" />
<polygon points="532.7,792.5 532.7,700.2 536.8,695.7 536.8,790.2" fill="url(#g2b)" stroke="none" stroke-width="0" />
<polygon points="603.1,751.9 603.1,659.6 598.3,659.4 598.3,754.7" fill="url(#g2b)" stroke="none" stroke-width="0" />
<polyline points="533.7,700.2 570,652.9 602.1,660.5" fill="none" stroke="url(#g2b)" stroke-width="3.4" stroke-linejoin="miter" stroke-linecap="butt"/>
<polygon points="532.3,792.8 532.3,700.5 570,650.5 603.5,659.4 603.5,751.7" fill="none" stroke="#000" stroke-width="1.3" />
<polyline points="535.8,700 600,662.9" fill="none" stroke="#000" stroke-width="1.2" />
<polyline points="535.8,702.5 600,665.4" fill="none" stroke="#000" stroke-width="1.2" />
<polygon points="535.8,743.3 600,706.2 600,709.7 535.8,746.8" fill="#fff" stroke="#000" stroke-width="1.2" />
<polyline points="570.4,722.8 570.4,682.5" fill="none" stroke="#2f86f0" stroke-width="2.6" />
<path d="M537.5 716 l14 -8.5 l17 9 l-14.5 8.8z" fill="#fff" stroke="#000" stroke-width="1.5"/>
<path d="M537.5 716 v2.5 l16.500 9.300 v-2.5 M554 727.8 l14.500 -8.800 v-2.500 M547 707 l0 -4 l12 6.500 v4 M539 703 l4 -2.500 l3 1.600 v5 l-4 2.500 l-3 -1.600z M556 719 q-8 4 -12 3 q-5 1 -6 8" fill="none" stroke="#000" stroke-width="1.4"/>
<path d="M552 692 l12 6.500 v6 l-12 -6.500z" fill="#fff" stroke="#000" stroke-width="1.3"/>
<path d="M560 713 l5 -3 l3 1.600 v7 l-5 3 l-3 -1.600z M564 709 v-3 l2 -1 v3" fill="#fff" stroke="#000" stroke-width="1.5"/>
<path d="M576 685 l6 -3.500 v6 l-6 3.500z" fill="#2f86f0" stroke="#000" stroke-width="0.8"/>
<path d="M588 676 l6 -3.500 v6 l-6 3.500z" fill="#2f86f0" stroke="#000" stroke-width="0.8"/>
<path d="M589 687 l6 -3.500 v6 l-6 3.500z" fill="#2f86f0" stroke="#000" stroke-width="0.8"/>
<path d="M573.500 690 l5 -3 l2 1.200 v14 l-5 3 l-2 -1.200z M585 693 l6 -3.500 l2.500 1.500 v10 l-6 3.500 l-2.500 -1.500z M578 702 l4 2 l2 -3 M574 706 q2 4 5 1" fill="#fff" stroke="#000" stroke-width="1.3"/>
<path d="M575.500 692 v10 M577.500 691 v10 M587.500 694.500 v8" fill="none" stroke="#000" stroke-width="1.5"/>
<path d="M538 757 l10 -6 l9 5 v8 l-10 6 l-9 -5z" fill="#fff" stroke="#000" stroke-width="1.5"/>
<path d="M538 757 l9 5 l10 -6 M547 762 v8 M544 748 l6 -3.500 l6 3.500 v5 M541 752 l5 3" fill="none" stroke="#000" stroke-width="1.5"/>
<ellipse cx="548.5" cy="744" rx="3.2" ry="1.900" fill="#fff" stroke="#000" stroke-width="1.5"/><ellipse cx="554.5" cy="748" rx="3" ry="1.800" fill="#fff" stroke="#000" stroke-width="1.5"/>
<path d="M548.500 746 v6 M554.500 750 v6" stroke="#000" stroke-width="1.5" fill="none"/>
<path d="M537 770 l8 -4.600 l9 5 l-8 4.600z" fill="#fff" stroke="#000" stroke-width="1.3"/><path d="M539 772 l4 -2 l3 2 l-4 2z" fill="#000"/>
<path d="M562.500 744 l7.500 -4.300 l0 10 l-7.500 4.300z M562.500 744 l-3 -1.700 v10 l3 1.700 M559.500 742.300 l7.500 -4.300 l3 1.700" fill="#fff" stroke="#000" stroke-width="1.5"/>
<path d="M566 730 l10 5.500 v10 M576 735.500 l22 -12.500 M572 733 l0 9 M576 745.500 l22 -12.500 M580 733 v10 M584 731 v10 M590 727.500 v10 M594 725 v10 M580 738 l14 -8" fill="none" stroke="#000" stroke-width="1.5"/>
<path d="M582 722 l7 -4 l5 2.800 v7 l-7 4 l-5 -2.800z M582 722 l5 2.800 l7 -4 M587 724.800 v7" fill="#fff" stroke="#000" stroke-width="1.5"/>
<path d="M592 733 l5 -3 l3 1.700 v16 l-5 3 l-3 -1.700z M592 733 l3 1.700 l5 -3 M595 734.700 v16" fill="#fff" stroke="#000" stroke-width="1.5"/>
<path d="M583 741 l7 -4 v6 l-7 4z" fill="#000"/>
<path d="M574.500 691.500 l4 -2.300 v13.500 l-4 2.300z M586 694.500 l5 -2.800 v9.500 l-5 2.800z" fill="#111"/>
<path d="M577 706 q1 3 3.500 1.500 l1 -3 l-2 -1z M583.500 700 l2 1 v5 l-2 -1z" fill="#111"/>
<path d="M578 736.500 l8 -4.600 v9 l-8 4.600z M588 731 l5 -2.900 v9 l-5 2.900z" fill="#111"/>
<path d="M579.500 738 l5 -2.900 v2.500 l-5 2.900z M579.500 742 l5 -2.900 v2.500 l-5 2.900z" fill="#fff"/>
<path d="M541 704.500 l3 -1.700 v3 l-3 1.700z" fill="#111"/>
<path d="M547 770 l10 -6 v-7.500" fill="none" stroke="#000" stroke-width="2.200"/>
<polyline points="535.8,789 600,751.9" fill="none" stroke="#000" stroke-width="1.1" />
<polygon points="532.3,792.8 447.4,743.8 447.4,651.5 532.3,700.5" fill="#fff" stroke="#000" stroke-width="1.5" />
<polyline points="488.3,767.4 488.3,675.1" fill="none" stroke="#000" stroke-width="1.4" />
<polyline points="532.3,785.3 447.4,736.3" fill="none" stroke="#000" stroke-width="1.0" />
<polygon points="524.8,733.4 513.5,726.9 513.5,702.9 524.8,709.4" fill="#fff" stroke="#000" stroke-width="2.1" />
<polygon points="522.8,730 515.5,725.8 515.5,706.4 522.8,710.6" fill="#fff" stroke="#000" stroke-width="0.9450000000000001" />
<polyline points="524.8,716.6 513.5,710.1" fill="none" stroke="#000" stroke-width="1.3650000000000002" />
<polyline points="519.1,727.9 519.1,713.4" fill="none" stroke="#000" stroke-width="1.3650000000000002" />
<polygon points="506,722.6 497,717.4 497,693.4 506,698.6" fill="#fff" stroke="#000" stroke-width="2.1" />
<polygon points="504.3,719.7 498.7,716.4 498.7,696.3 504.3,699.6" fill="#fff" stroke="#000" stroke-width="0.9450000000000001" />
<polyline points="506,705.8 497,700.6" fill="none" stroke="#000" stroke-width="1.3650000000000002" />
<polyline points="501.5,718 501.5,703.2" fill="none" stroke="#000" stroke-width="1.3650000000000002" />
<polygon points="483.1,709.4 471.8,702.8 471.8,678.8 483.1,685.4" fill="#fff" stroke="#000" stroke-width="2.1" />
<polygon points="481.1,705.9 473.8,701.7 473.8,682.3 481.1,686.6" fill="#fff" stroke="#000" stroke-width="0.9450000000000001" />
<polyline points="483.1,692.6 471.8,686" fill="none" stroke="#000" stroke-width="1.3650000000000002" />
<polyline points="477.4,703.8 477.4,689.3" fill="none" stroke="#000" stroke-width="1.3650000000000002" />
<polygon points="462.2,697.3 453,692 453,668 462.2,673.3" fill="#fff" stroke="#000" stroke-width="2.1" />
<polygon points="460.4,694.3 454.7,691 454.7,671 460.4,674.3" fill="#fff" stroke="#000" stroke-width="0.9450000000000001" />
<polyline points="462.2,680.5 453,675.2" fill="none" stroke="#000" stroke-width="1.3650000000000002" />
<polyline points="457.6,692.7 457.6,677.9" fill="none" stroke="#000" stroke-width="1.3650000000000002" />
<polygon points="524.8,774.4 513.5,767.9 513.5,743.4 524.8,749.9" fill="#fff" stroke="#000" stroke-width="2.1" />
<polygon points="522.8,771 515.5,766.8 515.5,746.9 522.8,751.1" fill="#fff" stroke="#000" stroke-width="0.9450000000000001" />
<polyline points="524.8,757.3 513.5,750.8" fill="none" stroke="#000" stroke-width="1.3650000000000002" />
<polyline points="519.1,768.9 519.1,754" fill="none" stroke="#000" stroke-width="1.3650000000000002" />
<polygon points="462.2,738.3 453,733 453,708.5 462.2,713.8" fill="#fff" stroke="#000" stroke-width="2.1" />
<polygon points="460.4,735.3 454.7,732 454.7,711.5 460.4,714.8" fill="#fff" stroke="#000" stroke-width="0.9450000000000001" />
<polyline points="462.2,721.1 453,715.9" fill="none" stroke="#000" stroke-width="1.3650000000000002" />
<polyline points="457.6,733.7 457.6,718.5" fill="none" stroke="#000" stroke-width="1.3650000000000002" />
<polygon points="506,776.1 497,770.9 497,729.9 506,735.1" fill="#fff" stroke="#000" stroke-width="1.7" />
<polygon points="504.6,773.8 498.4,770.2 498.4,732.2 504.6,735.8" fill="#fff" stroke="#000" stroke-width="1.1" />
<polyline points="504.6,743.8 498.4,740.2" fill="none" stroke="#000" stroke-width="1.1" />
<polyline points="504.6,758.8 498.4,755.2" fill="none" stroke="#000" stroke-width="1.1" />
<polygon points="503.4,756.1 499.6,753.9 499.6,742.9 503.4,745.1" fill="#fff" stroke="#000" stroke-width="0.9" />
<polygon points="503.4,771.1 499.6,768.9 499.6,757.9 503.4,760.1" fill="#fff" stroke="#000" stroke-width="0.9" />
<polygon points="505.1,780.1 492.6,772.9 495.2,771.4 495.2,769.2 507.7,776.4 507.7,778.6" fill="#fff" stroke="#000" stroke-width="1.0" />
<polyline points="505.1,781.3 492.6,774.1" fill="none" stroke="#000" stroke-width="1.6" />
<polygon points="481.3,761.8 471.8,756.3 471.8,715.3 481.3,720.8" fill="#fff" stroke="#000" stroke-width="1.7" />
<polygon points="479.9,759.5 473.2,755.6 473.2,717.6 479.9,721.5" fill="#fff" stroke="#000" stroke-width="1.1" />
<polyline points="479.9,729.5 473.2,725.6" fill="none" stroke="#000" stroke-width="1.1" />
<polyline points="479.9,744.5 473.2,740.6" fill="none" stroke="#000" stroke-width="1.1" />
<polygon points="478.7,741.8 474.4,739.3 474.4,728.3 478.7,730.8" fill="#fff" stroke="#000" stroke-width="0.9" />
<polygon points="478.7,756.8 474.4,754.3 474.4,743.3 478.7,745.8" fill="#fff" stroke="#000" stroke-width="0.9" />
<polygon points="480.4,765.8 467.4,758.3 470,756.8 470,754.6 483,762.1 483,764.3" fill="#fff" stroke="#000" stroke-width="1.0" />
<polyline points="480.4,767 467.4,759.5" fill="none" stroke="#000" stroke-width="1.6" />
<polygon points="466.5,746.3 457,740.8 457,736.8 466.5,742.3" fill="#fff" stroke="#000" stroke-width="1.2" />
<polygon points="532.3,700.5 447.4,651.5 487.8,601.6 570,650.5" fill="#fff" stroke="#000" stroke-width="1.5" stroke-linejoin="round"/>
<polyline points="488.3,675.1 526,625.1" fill="none" stroke="#000" stroke-width="1.4" />
<polygon points="475.7,653.5 467.3,648.6 473.5,640.4 481.9,645.2" fill="#fff" stroke="#000" stroke-width="1.9" />
<polygon points="475.1,651 470,648.1 474,642.8 479.1,645.8" fill="#fff" stroke="#000" stroke-width="0.9" />
<polygon points="489,635.7 480.6,630.9 486.9,622.6 495.3,627.5" fill="#fff" stroke="#000" stroke-width="1.9" />
<polygon points="488.5,633.3 483.4,630.3 487.4,625.1 492.5,628" fill="#fff" stroke="#000" stroke-width="0.9" />
<polyline points="533.3,700.4 570,652.1 602.6,660.2" fill="none" stroke="url(#g2b)" stroke-width="2.6" />
<polyline points="532.3,700.5 570,650.5 603.5,659.4" fill="none" stroke="#000" stroke-width="1.3" />
<polygon points="412.6,742.5 427.4,732.6 458.4,751.4 443.5,760.3" fill="#fff" stroke="#000" stroke-width="1.3" />
<polygon points="412.6,742.5 443.5,760.3 443.2,771 412.2,753.5" fill="url(#g2t)" stroke="#000" stroke-width="1.2" />
<path d="M412.300 747.500 q3 5.500 9 4.500 q3 0.500 5 3 l17 9.800 v6.200 l-31 -17.500z" fill="#000"/>
<polygon points="443.5,760.3 458.4,751.4 458.4,766.5 443.2,775.5" fill="#fff" stroke="#000" stroke-width="1.3" />
<polyline points="451,755.8 451,771" fill="none" stroke="#000" stroke-width="1.0" />
<polygon points="402.8,742.5 419.7,732.7 427.4,737 412.4,746.5 412.4,757 402.8,752" fill="#fff" stroke="#000" stroke-width="1.3" stroke-linejoin="round"/>
<polyline points="402.8,742.5 412.4,747.6" fill="none" stroke="#000" stroke-width="1.1" />
<polygon points="404.3,746.5 409.5,749.4 409.5,754 404.3,751.2" fill="#000" stroke="#000" stroke-width="0.5" />
<path d="M403 752 v5 l34 19.500 l21.500 -12.500 v-3" fill="none" stroke="#000" stroke-width="1.2"/>
<path d="M412 757.500 l30 17.300 v3.200 l-30 -17.300z" fill="#fff" stroke="#000" stroke-width="1"/>
<ellipse cx="408.3" cy="760.5" rx="3.3" ry="4.2" fill="#000"/><ellipse cx="407.8" cy="760.7" rx="1.1" ry="1.5" fill="#fff"/>
<ellipse cx="437.8" cy="777.5" rx="3.3" ry="4.2" fill="#000"/><ellipse cx="437.3" cy="777.7" rx="1.1" ry="1.5" fill="#fff"/>
<ellipse cx="455" cy="770" rx="1.800" ry="2.800" fill="#000"/>
<path d="M394.500 746 q-2 1.500 0 3 q2 1.500 0 3 q-2 1.500 0 3" fill="none" stroke="#000" stroke-width="1.1"/>
<path d="M411 767 l2 2 l1 -2 l2 3 M415 765 l2 1" fill="none" stroke="#000" stroke-width="1.1"/>
<polygon points="393.1,609.5 398.1,622.3 405.8,620.1" fill="url(#g2w)" stroke="none" stroke-width="0" />
<polygon points="404.2,628.1 411.6,625.9 422.6,637.8" fill="url(#g2w)" stroke="none" stroke-width="0" />
<path d="M393.1 614 q-2.200 2.500 0 4 q-1.500 2 1 3.500 l2.500 -1 l-1.500 -7z" fill="#000"/>
<path d="M406.9 630.3 l0.500 3.500 q2 1.500 3.500 0 q1 2.500 4 1.500 l1.500 -1.500 l-8 -5z" fill="#000"/>
<path d="M390.9 625.6 Q385.9 627.6 387.3 630.3 Q388.7 632.8 394.2 631.1 L420.2 622.6 Q421.8 620.9 419.3 619.3 L415.2 618.7 Q398.6 623.1 390.9 625.6 z" fill="#fff" stroke="#000" stroke-width="1.400" stroke-linejoin="round"/>
<path d="M390.1 627.3 L393.1 626.7 L393.7 628.2 z" fill="#000"/>
<path d="M396.1 627 L402.5 625.2 M409.7 623.1 L415.7 621.5" stroke="#8d959c" stroke-width="0.900" fill="none"/>
<polygon points="413.3,613.1 415.2,612.9 418.8,617.9 415.2,618.8" fill="#fff" stroke="#000" stroke-width="1.3" />
<polygon points="419.3,613.8 422.9,612.9 421.4,618.8 417.9,618.2" fill="#000" stroke="#000" stroke-width="0.6" />
<polygon points="419.3,619.8 426.2,623.7 425.7,624.9 420.4,622.2" fill="#fff" stroke="#000" stroke-width="1.3" />
<path d="M377.4 629.3 Q382.1 641.9 397.5 643.6 M368.4 630 Q376 649.6 399.8 649.9 M431.2 635.4 Q429 642.5 422.3 645.5 M435.9 638.4 Q434 644.7 428.3 646.9" fill="none" stroke="#000" stroke-width="1.200" stroke-linecap="round"/>
<polygon points="842.5,1016.5 814.6,1000.4 814.6,861.4 842.5,877.5" fill="#fff" stroke="#000" stroke-width="1.5" />
<polygon points="835.2,992.3 825,986.4 825,881.4 835.2,887.3" fill="#fff" stroke="#000" stroke-width="1.8" />
<polygon points="833.5,988.3 826.7,984.4 826.7,885.4 833.5,889.3" fill="#fff" stroke="#000" stroke-width="1.2" />
<polyline points="833.5,979.3 826.7,975.4" fill="none" stroke="#000" stroke-width="1.0" />
<polyline points="833.5,970.3 826.7,966.4" fill="none" stroke="#000" stroke-width="1.0" />
<polyline points="833.5,961.3 826.7,957.4" fill="none" stroke="#000" stroke-width="1.0" />
<polyline points="833.5,952.3 826.7,948.4" fill="none" stroke="#000" stroke-width="1.0" />
<polyline points="833.5,943.3 826.7,939.4" fill="none" stroke="#000" stroke-width="1.0" />
<polyline points="833.5,934.3 826.7,930.4" fill="none" stroke="#000" stroke-width="1.0" />
<polyline points="833.5,925.3 826.7,921.4" fill="none" stroke="#000" stroke-width="1.0" />
<polyline points="833.5,916.3 826.7,912.4" fill="none" stroke="#000" stroke-width="1.0" />
<polyline points="833.5,907.3 826.7,903.4" fill="none" stroke="#000" stroke-width="1.0" />
<polyline points="833.5,898.3 826.7,894.4" fill="none" stroke="#000" stroke-width="1.0" />
<polygon points="842.5,1016.5 865.3,1003.4 865.3,864.4 842.5,877.5" fill="#fff" stroke="#000" stroke-width="1.3" />
<polygon points="887.3,1016.1 865.3,1003.4 865.3,864.4 887.3,877.1" fill="#fff" stroke="#000" stroke-width="1.3" />
<polygon points="887.3,1016.1 879,1011.3 879,872.3 887.3,877.1" fill="url(#g3b)" stroke="#000" stroke-width="0.8" />
<polyline points="876.5,1009.8 876.5,870.8" fill="none" stroke="#000" stroke-width="1.2" />
<polyline points="874.3,1008.6 874.3,869.6" fill="none" stroke="#000" stroke-width="1.2" />
<polyline points="870.8,1006.6 870.8,867.6" fill="none" stroke="#000" stroke-width="1.2" />
<polyline points="868.7,1005.3 868.7,866.3" fill="none" stroke="#000" stroke-width="1.2" />
<polygon points="846,1000.5 860.7,992 860.7,972 846,980.5" fill="#fff" stroke="#000" stroke-width="1.4" />
<polyline points="850.7,997.8 850.7,977.8" fill="none" stroke="#000" stroke-width="1.0" />
<polyline points="855.9,994.8 855.9,974.8" fill="none" stroke="#000" stroke-width="1.0" />
<polyline points="846,995.5 860.7,987" fill="none" stroke="#000" stroke-width="1.0" />
<polyline points="846,990.5 860.7,982" fill="none" stroke="#000" stroke-width="1.0" />
<polyline points="846,985.5 860.7,977" fill="none" stroke="#000" stroke-width="1.0" />
<polygon points="846.8,998.5 850.1,996.6 850.1,994.1 846.8,996" fill="#9cc3ee" stroke="none" stroke-width="0" />
<polygon points="846.8,993.5 850.1,991.6 850.1,989.1 846.8,991" fill="#9cc3ee" stroke="none" stroke-width="0" />
<polygon points="846.8,988.5 850.1,986.6 850.1,984.1 846.8,986" fill="#9cc3ee" stroke="none" stroke-width="0" />
<polygon points="846.8,983.5 850.1,981.6 850.1,979.1 846.8,981" fill="#9cc3ee" stroke="none" stroke-width="0" />
<polygon points="851.6,995.8 854.9,993.9 854.9,991.4 851.6,993.2" fill="#9cc3ee" stroke="none" stroke-width="0" />
<polygon points="851.6,990.8 854.9,988.9 854.9,986.4 851.6,988.2" fill="#9cc3ee" stroke="none" stroke-width="0" />
<polygon points="851.6,985.8 854.9,983.9 854.9,981.4 851.6,983.2" fill="#9cc3ee" stroke="none" stroke-width="0" />
<polygon points="851.6,980.8 854.9,978.9 854.9,976.4 851.6,978.2" fill="#9cc3ee" stroke="none" stroke-width="0" />
<polygon points="856.6,992.9 859.9,991 859.9,988.5 856.6,990.4" fill="#9cc3ee" stroke="none" stroke-width="0" />
<polygon points="856.6,987.9 859.9,986 859.9,983.5 856.6,985.4" fill="#9cc3ee" stroke="none" stroke-width="0" />
<polygon points="856.6,982.9 859.9,981 859.9,978.5 856.6,980.4" fill="#9cc3ee" stroke="none" stroke-width="0" />
<polygon points="856.6,977.9 859.9,976 859.9,973.5 856.6,975.4" fill="#9cc3ee" stroke="none" stroke-width="0" />
<polygon points="864.5,971.7 887.3,958.6 865.3,945.9 842.5,959" fill="#fff" stroke="#000" stroke-width="1.2" />
<polygon points="864.5,971.7 842.5,959 842.5,969.5 864.5,982.2" fill="#fff" stroke="#000" stroke-width="1.4" />
<polygon points="864.5,971.7 887.3,958.6 887.3,969.1 864.5,982.2" fill="#fff" stroke="#000" stroke-width="1.4" />
<path d="M864 943 q1.500 -2.500 3 0 l0.500 6 l-1 8 l-1.200 0 l0 -6 l-1.500 6 l-1.200 -0.500 l1.500 -8z" fill="#111"/>
<path d="M862 958 l3 2.500" stroke="#2b86f3" stroke-width="1.5" fill="none"/>
<polygon points="864.5,927.2 887.3,914.1 865.3,901.4 842.5,914.5" fill="#fff" stroke="#000" stroke-width="1.2" />
<polygon points="864.5,927.2 842.5,914.5 842.5,925 864.5,937.7" fill="#fff" stroke="#000" stroke-width="1.4" />
<polygon points="864.5,927.2 887.3,914.1 887.3,924.6 864.5,937.7" fill="#fff" stroke="#000" stroke-width="1.4" />
<polyline points="864.5,1029.2 887.3,1016.1" fill="none" stroke="#000" stroke-width="1.3" />
<polyline points="864.5,1029.2 842.5,1016.5" fill="none" stroke="#000" stroke-width="1.3" />
<polygon points="887.3,1016 955.3,976.8 955.3,837.8 887.3,877" fill="#fff" stroke="#000" stroke-width="1.5" />
<polyline points="887.3,921 955.3,881.8" fill="none" stroke="#2b86f3" stroke-width="1.7" />
<polyline points="887.3,961 955.3,921.8" fill="none" stroke="#2b86f3" stroke-width="1.7" />
<polyline points="921.1,857.5 921.1,941.5" fill="none" stroke="#2b86f3" stroke-width="1.7" />
<polygon points="894.7,905.8 913.3,895 913.3,876 894.7,886.8" fill="#fff" stroke="#000" stroke-width="2.2" />
<polygon points="899.9,900.5 911.4,893.9 911.4,879.3 899.9,886" fill="#fff" stroke="#000" stroke-width="1.2" />
<polyline points="898.1,903.8 898.1,884.8" fill="none" stroke="#000" stroke-width="1.4" />
<polygon points="894.7,949.8 913.3,939 913.3,919.5 894.7,930.2" fill="#fff" stroke="#000" stroke-width="2.2" />
<polygon points="899.9,944.5 911.4,937.9 911.4,922.8 899.9,929.5" fill="#fff" stroke="#000" stroke-width="1.2" />
<polyline points="898.1,947.8 898.1,928.2" fill="none" stroke="#000" stroke-width="1.4" />
<polygon points="894.7,994.2 913.3,983.5 913.3,964 894.7,974.8" fill="#fff" stroke="#000" stroke-width="2.2" />
<polygon points="899.9,989 911.4,982.4 911.4,967.3 899.9,974" fill="#fff" stroke="#000" stroke-width="1.2" />
<polyline points="898.1,992.2 898.1,972.8" fill="none" stroke="#000" stroke-width="1.4" />
<polygon points="928.5,886.4 947.9,875.2 947.9,856.1 928.5,867.3" fill="#fff" stroke="#000" stroke-width="2.2" />
<polygon points="933.7,881.2 946,874.1 946,859.4 933.7,866.5" fill="#fff" stroke="#000" stroke-width="1.2" />
<polyline points="932,884.4 932,865.3" fill="none" stroke="#000" stroke-width="1.4" />
<polygon points="928.5,931.7 947.9,920.5 947.9,901 928.5,912.2" fill="#fff" stroke="#000" stroke-width="2.2" />
<polygon points="933.7,926.5 946,919.4 946,904.3 933.7,911.4" fill="#fff" stroke="#000" stroke-width="1.2" />
<polyline points="932,929.7 932,910.2" fill="none" stroke="#000" stroke-width="1.4" />
<polygon points="918.2,996.1 947.5,979.2 947.5,945 918.2,961.9" fill="#fff" stroke="#000" stroke-width="1.8" />
<polyline points="919.8,992.6 946,977.5" fill="none" stroke="#000" stroke-width="1.35" />
<polyline points="919.8,989.5 946,974.4" fill="none" stroke="#000" stroke-width="1.35" />
<polyline points="919.8,986.4 946,971.2" fill="none" stroke="#000" stroke-width="1.35" />
<polyline points="919.8,983.2 946,968.1" fill="none" stroke="#000" stroke-width="1.35" />
<polyline points="919.8,980 946,964.9" fill="none" stroke="#000" stroke-width="1.35" />
<polyline points="919.8,976.9 946,961.8" fill="none" stroke="#000" stroke-width="1.35" />
<polyline points="919.8,973.8 946,958.6" fill="none" stroke="#000" stroke-width="1.35" />
<polyline points="919.8,970.6 946,955.5" fill="none" stroke="#000" stroke-width="1.35" />
<polyline points="919.8,967.5 946,952.3" fill="none" stroke="#000" stroke-width="1.35" />
<polyline points="919.8,964.3 946,949.1" fill="none" stroke="#000" stroke-width="1.35" />
<polygon points="918.2,996.1 947.5,979.2 947.5,945 918.2,961.9" fill="none" stroke="#000" stroke-width="1.8" />
<polygon points="808.2,854.6 864.5,886.2 957.8,832.5 957.8,836.9 864.5,890.6 808.2,859" fill="#fff" stroke="#000" stroke-width="1.4" stroke-linejoin="round"/>
<polygon points="902.5,800.9 808.2,854.6 864.5,886.2 957.8,832.5" fill="#fff" stroke="#000" stroke-width="1.4" stroke-linejoin="round"/>
<polygon points="902.5,805.9 816.9,854.6 864.5,881.2 949.1,832.5" fill="#fff" stroke="#000" stroke-width="1.2" />
<g fill="none" stroke="#111" stroke-width="1.9"><ellipse cx="824.5" cy="1002.5" rx="4.3" ry="6" transform="rotate(-20 824.5 1002.5)"/><ellipse cx="837.5" cy="1010" rx="4.3" ry="6" transform="rotate(-20 837.5 1010)"/><ellipse cx="824.5" cy="1002.5" rx="2" ry="3.2" transform="rotate(-20 824.5 1002.5)"/><ellipse cx="837.5" cy="1010" rx="2" ry="3.2" transform="rotate(-20 837.5 1010)"/><path d="M824.500 1002.500 l5 -3 l6 4 l2 6.500 M829.500 999.500 l3 8 l-8 -5 M835.500 1003.500 l2 -5 l-3 -1 M828 997 l4 0"/></g>
<polygon points="964,988 981,978.5 998,988 981,997.8" fill="#d3e7fb" stroke="none" stroke-width="0" />
<polygon points="970.5,988 981,982 991.5,988 981,994" fill="#000" stroke="#000" stroke-width="0.5" />
<polygon points="974,988 981,984 988,988 981,992" fill="#fff" stroke="#000" stroke-width="0.5" />
<path d="M980 989 v-7 h2 v7z" fill="#fff" stroke="#000" stroke-width="0.9"/>
<path d="M977 932.500 q5 -2.500 9 2 q2 3 1.500 6 q5 5 4.500 11.500 q0.500 6 -2.500 10 q-0.500 7 -2 12 q-1 6 -3 9 l-5 0.500 q-3 -2 -3.500 -8 q-3 -7 -2.500 -13 q-2.500 -6 -2.500 -14 q-1 -6 0.500 -10 q2 -5 5 -6z" fill="url(#g3t)"/>
<polygon points="1331.5,197 1380,169 1413,183.5 1362.5,215.5" fill="#ffe9bd" stroke="none" stroke-width="0" />
<polygon points="1306.4,195.2 1306.4,105.4 1347.2,39.2 1382,61.7 1382,151.5" fill="#fff" stroke="#000" stroke-width="1.5" />
<polyline points="1343.6,142.2 1382,120" fill="none" stroke="#000" stroke-width="1.5" />
<polyline points="1343.6,145.2 1382,123" fill="none" stroke="#000" stroke-width="1.5" />
<polyline points="1343.6,110.2 1382,88" fill="none" stroke="#000" stroke-width="1.5" />
<polyline points="1343.6,113.2 1382,91" fill="none" stroke="#000" stroke-width="1.5" />
<polyline points="1345.4,144.2 1367.9,131.2" fill="none" stroke="#000" stroke-width="0" />
<polyline points="1345.4,112.2 1367.9,99.2" fill="none" stroke="#000" stroke-width="0" />
<polyline points="1379.4,153 1379.4,64.2" fill="none" stroke="#000" stroke-width="1.4" />
<polyline points="1345.8,172.4 1345.8,82.6" fill="none" stroke="#000" stroke-width="1.4" />
<path d="M1346.5 151.500 L1372 166 M1346.500 120 L1380 139 M1346.500 88 L1362 97" fill="none" stroke="#000" stroke-width="1.1"/>
<path d="M1346.500 95 L1366 84" stroke="#000" stroke-width="2.2" fill="none"/>
<path d="M1346.500 100.2 L1366 89.2" stroke="#000" stroke-width="2.2" fill="none"/>
<path d="M1346.500 105.4 L1366 94.4" stroke="#000" stroke-width="2.2" fill="none"/>
<path d="M1346.500 110.6 L1366 99.6" stroke="#000" stroke-width="2.2" fill="none"/>
<path d="M1357 86.500 L1369 80 L1378 85.500 L1366 92z" fill="url(#g4o)" stroke="#000" stroke-width="1"/>
<path d="M1355 88 L1358.500 86 L1367.500 91.500 L1364 93.500z" fill="#fff" stroke="#000" stroke-width="0.9"/>
<path d="M1359.500 108 q1.500 -2.500 3 0 l0.500 3 l3 -1 l0 1.500 l-3 1.500 l-0.300 12 l-1.500 0 l-0.300 -7 l-0.700 7 l-1.500 -0.300 l0.200 -12 l-4.500 2 l-0.500 -1.200 l5 -3z" fill="#111"/>
<path d="M1358 126.500 l5 0" stroke="#f5820a" stroke-width="1.5"/>
<polygon points="1306.4,195.2 1343.6,173.7 1343.6,83.9 1306.4,105.4" fill="#fff" stroke="none" stroke-width="0" />
<polygon points="1306.4,195.2 1306.4,105.4 1343.6,45 1343.6,173.7" fill="#fff" stroke="#000" stroke-width="1.2" />
<polygon points="1306.4,195.2 1306.4,132.2 1337.6,146.2 1337.6,177.2" fill="url(#g4o)" stroke="none" stroke-width="0" />
<polyline points="1312,191.9 1312,102.1" fill="none" stroke="#000" stroke-width="2.2" />
<polyline points="1316.8,189.2 1316.8,99.4" fill="none" stroke="#000" stroke-width="2.2" />
<polyline points="1321.6,186.4 1321.6,96.6" fill="none" stroke="#000" stroke-width="2.2" />
<polyline points="1326.3,183.7 1326.3,93.9" fill="none" stroke="#000" stroke-width="2.2" />
<polyline points="1331.1,180.9 1331.1,91.1" fill="none" stroke="#000" stroke-width="2.2" />
<polyline points="1337.1,177.4 1337.1,87.6" fill="none" stroke="#000" stroke-width="2.2" />
<polyline points="1342.3,174.4 1342.3,84.6" fill="none" stroke="#000" stroke-width="2.2" />
<polygon points="1306.4,105.4 1347.2,39.2 1382,61.7" fill="#fff" stroke="#000" stroke-width="1.4" stroke-linejoin="round"/>
<polygon points="1306.4,195.2 1239.5,156.5 1239.5,66.7 1306.4,105.4" fill="#fff" stroke="#000" stroke-width="1.5" />
<polygon points="1300.5,127.8 1286.6,119.8 1286.6,102.2 1300.5,110.3" fill="#000" stroke="#000" stroke-width="0.8" />
<polygon points="1298.7,124.7 1294.2,122.1 1294.2,108.8 1298.7,111.3" fill="#fff" stroke="none" stroke-width="0" />
<polygon points="1292.8,121.3 1288.4,118.7 1288.4,105.4 1292.8,108" fill="#fff" stroke="none" stroke-width="0" />
<polygon points="1280.4,116.2 1266,107.8 1266,90.3 1280.4,98.7" fill="#000" stroke="#000" stroke-width="0.8" />
<polygon points="1278.6,113 1273.9,110.3 1273.9,97 1278.6,99.7" fill="#fff" stroke="none" stroke-width="0" />
<polygon points="1272.5,109.5 1267.8,106.8 1267.8,93.5 1272.5,96.2" fill="#fff" stroke="none" stroke-width="0" />
<polygon points="1259.2,103.9 1245.6,96.1 1245.6,78.6 1259.2,86.4" fill="#000" stroke="#000" stroke-width="0.8" />
<polygon points="1257.4,100.8 1253.1,98.3 1253.1,85 1257.4,87.5" fill="#fff" stroke="none" stroke-width="0" />
<polygon points="1251.7,97.5 1247.4,95 1247.4,81.7 1251.7,84.2" fill="#fff" stroke="none" stroke-width="0" />
<polygon points="1300.5,153.8 1286.6,145.8 1286.6,125.2 1300.5,133.3" fill="#000" stroke="#000" stroke-width="0.8" />
<polygon points="1298.7,150.7 1294.1,148 1294.1,136.5 1298.7,139.1" fill="#fff" stroke="none" stroke-width="0" />
<polygon points="1292.9,147.3 1288.4,144.7 1288.4,133.1 1292.9,135.8" fill="#fff" stroke="none" stroke-width="0" />
<polygon points="1298.7,137.7 1294.1,135.1 1294.1,131.7 1298.7,134.3" fill="#fff" stroke="none" stroke-width="0" />
<polygon points="1292.9,134.4 1288.4,131.7 1288.4,128.4 1292.9,131" fill="#fff" stroke="none" stroke-width="0" />
<polygon points="1280.4,142.2 1266,133.8 1266,113.3 1280.4,121.7" fill="#000" stroke="#000" stroke-width="0.8" />
<polygon points="1278.6,139 1273.8,136.3 1273.8,124.7 1278.6,127.5" fill="#fff" stroke="none" stroke-width="0" />
<polygon points="1272.6,135.6 1267.8,132.8 1267.8,121.2 1272.6,124" fill="#fff" stroke="none" stroke-width="0" />
<polygon points="1278.6,126.1 1273.8,123.3 1273.8,120 1278.6,122.7" fill="#fff" stroke="none" stroke-width="0" />
<polygon points="1272.6,122.6 1267.8,119.8 1267.8,116.5 1272.6,119.3" fill="#fff" stroke="none" stroke-width="0" />
<polygon points="1259.2,129.9 1245.6,122.1 1245.6,101.6 1259.2,109.4" fill="#000" stroke="#000" stroke-width="0.8" />
<polygon points="1257.4,126.8 1253,124.3 1253,112.7 1257.4,115.2" fill="url(#g4w)" stroke="none" stroke-width="0" />
<polygon points="1251.8,123.6 1247.4,121 1247.4,109.5 1251.8,112" fill="url(#g4w)" stroke="none" stroke-width="0" />
<polygon points="1257.4,113.8 1253,111.3 1253,108 1257.4,110.5" fill="url(#g4w)" stroke="none" stroke-width="0" />
<polygon points="1251.8,110.6 1247.4,108.1 1247.4,104.7 1251.8,107.3" fill="url(#g4w)" stroke="none" stroke-width="0" />
<polyline points="1264.8,138.2 1239.5,123.5" fill="none" stroke="#000" stroke-width="1.4" />
<polygon points="1263.1,170.2 1244.9,159.7 1244.9,129.7 1263.1,140.2" fill="#fff" stroke="#000" stroke-width="1.8" />
<polygon points="1261.4,169.2 1253.6,164.7 1253.6,137.2 1261.4,141.7" fill="#fff" stroke="#000" stroke-width="1.4" />
<polygon points="1251.8,163.7 1246.6,160.7 1246.6,133.2 1251.8,136.2" fill="#fff" stroke="#000" stroke-width="1.6" />
<polyline points="1249.2,162.2 1249.2,134.7" fill="none" stroke="#000" stroke-width="1.2" />
<polyline points="1260.1,158.4 1260.1,151.4" fill="none" stroke="#000" stroke-width="1.6" />
<polyline points="1264.8,171.2 1264.8,138.2" fill="none" stroke="#000" stroke-width="1.2" />
<polygon points="1301.3,192.2 1270,174.2 1270,144.2 1301.3,162.2" fill="#fff" stroke="#000" stroke-width="1.9" />
<polygon points="1299.5,191.2 1271.8,175.2 1271.8,147.7 1299.5,163.7" fill="#fff" stroke="#000" stroke-width="1.3" />
<polyline points="1299.5,171.7 1271.8,155.7" fill="none" stroke="#000" stroke-width="1.3" />
<polygon points="1296.9,168.2 1290.8,164.7 1290.8,160.7 1296.9,164.2" fill="#fff" stroke="#000" stroke-width="1.1" />
<polygon points="1288.2,163.2 1282.2,159.7 1282.2,155.7 1288.2,159.2" fill="#fff" stroke="#000" stroke-width="1.1" />
<polygon points="1279.6,158.2 1273.5,154.7 1273.5,150.7 1279.6,154.2" fill="#fff" stroke="#000" stroke-width="1.1" />
<polyline points="1299.5,183.2 1271.8,167.2" fill="none" stroke="#000" stroke-width="1.0" />
<polygon points="1306.4,105.4 1239.5,66.7 1280.2,0.6 1347.2,39.2" fill="#fff" stroke="#000" stroke-width="1.5" stroke-linejoin="round"/>
<polygon points="1306.4,105.4 1266.4,82.3 1307.2,16.1 1347.2,39.2" fill="#000" stroke="#000" stroke-width="0.8" />
<polygon points="1347.2,39.2 1324.7,26.2 1313.9,43.8 1335.6,58.1" fill="#fff" stroke="none" stroke-width="0" />
<polygon points="1266.9,81.5 1272.1,84.5 1277.4,76.9 1271.7,73.6" fill="url(#g4r2)" stroke="none" stroke-width="0" />
<polygon points="1273.5,85.3 1275.5,86.5 1281.3,79.2 1279.3,78" fill="url(#g4r2)" stroke="none" stroke-width="0" />
<polygon points="1277,87.4 1279,88.5 1284.9,81.2 1282.9,80.1" fill="url(#g4r2)" stroke="none" stroke-width="0" />
<polygon points="1272.7,72.1 1277.9,75.1 1283.3,67.5 1277.6,64.2" fill="url(#g4r2)" stroke="none" stroke-width="0" />
<polygon points="1279.3,75.9 1281.3,77 1287.2,69.7 1285.2,68.6" fill="url(#g4r2)" stroke="none" stroke-width="0" />
<polygon points="1282.8,77.9 1284.8,79.1 1290.7,71.8 1288.7,70.6" fill="url(#g4r2)" stroke="none" stroke-width="0" />
<polyline points="1272.2,72.8 1312.2,95.9" fill="none" stroke="#fff" stroke-width="0.7" />
<polygon points="1278.5,62.6 1283.7,65.6 1289.1,58 1283.4,54.7" fill="url(#g4r2)" stroke="none" stroke-width="0" />
<polygon points="1285.1,66.4 1287.1,67.6 1293,60.3 1291,59.1" fill="url(#g4r2)" stroke="none" stroke-width="0" />
<polyline points="1278,63.4 1318.1,86.5" fill="none" stroke="#fff" stroke-width="0.7" />
<polygon points="1284.4,53.2 1289.6,56.2 1294.9,48.6 1289.2,45.3" fill="url(#g4r2)" stroke="none" stroke-width="0" />
<polygon points="1290.9,57 1292.9,58.1 1298.8,50.8 1296.8,49.7" fill="url(#g4r2)" stroke="none" stroke-width="0" />
<polygon points="1294.5,59 1296.5,60.2 1302.4,52.9 1300.4,51.7" fill="url(#g4r2)" stroke="none" stroke-width="0" />
<polygon points="1298,61.1 1300,62.2 1305.9,54.9 1303.9,53.8" fill="url(#g4r2)" stroke="none" stroke-width="0" />
<polygon points="1301.6,63.1 1303.6,64.3 1309.5,57 1307.5,55.8" fill="url(#g4r2)" stroke="none" stroke-width="0" />
<polygon points="1305.1,65.2 1307.1,66.3 1313,59 1311,57.9" fill="url(#g4r2)" stroke="none" stroke-width="0" />
<polyline points="1283.9,53.9 1323.9,77" fill="none" stroke="#fff" stroke-width="0.7" />
<polygon points="1290.2,43.7 1295.4,46.7 1300.8,39.1 1295,35.8" fill="url(#g4r2)" stroke="none" stroke-width="0" />
<polygon points="1296.8,47.5 1298.8,48.7 1304.6,41.4 1302.7,40.2" fill="url(#g4r2)" stroke="none" stroke-width="0" />
<polygon points="1300.3,49.6 1302.3,50.7 1308.2,43.4 1306.2,42.3" fill="url(#g4r2)" stroke="none" stroke-width="0" />
<polygon points="1303.9,51.6 1305.9,52.8 1311.8,45.5 1309.8,44.3" fill="url(#g4r2)" stroke="none" stroke-width="0" />
<polygon points="1307.4,53.7 1309.4,54.8 1315.3,47.5 1313.3,46.4" fill="url(#g4r2)" stroke="none" stroke-width="0" />
<polyline points="1289.7,44.5 1329.7,67.6" fill="none" stroke="#fff" stroke-width="0.7" />
<polygon points="1296,34.3 1301.2,37.3 1306.6,29.7 1300.9,26.4" fill="url(#g4r2)" stroke="none" stroke-width="0" />
<polygon points="1302.6,38.1 1304.6,39.2 1310.5,31.9 1308.5,30.8" fill="url(#g4r2)" stroke="none" stroke-width="0" />
<polygon points="1306.1,40.1 1308.1,41.3 1314,34 1312,32.8" fill="url(#g4r2)" stroke="none" stroke-width="0" />
<polygon points="1309.7,42.2 1311.7,43.3 1317.6,36 1315.6,34.9" fill="url(#g4r2)" stroke="none" stroke-width="0" />
<polyline points="1295.5,35 1335.5,58.1" fill="none" stroke="#fff" stroke-width="0.7" />
<polygon points="1301.8,24.8 1307,27.8 1312.4,20.2 1306.7,16.9" fill="url(#g4r2)" stroke="none" stroke-width="0" />
<polygon points="1308.4,28.6 1310.4,29.8 1316.3,22.5 1314.3,21.3" fill="url(#g4r2)" stroke="none" stroke-width="0" />
<polygon points="1312,30.7 1314,31.8 1319.9,24.5 1317.9,23.4" fill="url(#g4r2)" stroke="none" stroke-width="0" />
<polygon points="1315.5,32.7 1317.5,33.9 1323.4,26.6 1321.4,25.4" fill="url(#g4r2)" stroke="none" stroke-width="0" />
<polyline points="1301.4,25.6 1318.8,35.7" fill="none" stroke="#fff" stroke-width="0.7" />
<path d="M1313.9,44.7 L1328.4,54.4" stroke="#000" stroke-width="4.600" stroke-linecap="round" fill="none"/><path d="M1313.9,44.7 L1328.4,54.4" stroke="#fff" stroke-width="2.600" stroke-linecap="round" fill="none"/>
<ellipse cx="1328.9" cy="54.7" rx="1.400" ry="2" fill="#fff" stroke="#000" stroke-width="0.900"/>
<polygon points="1334.5,31 1343,26 1348.5,29.3 1348.5,36 1341,49 1334.5,46" fill="#fff" stroke="#000" stroke-width="1.4" stroke-linejoin="round"/>
<polyline points="1334.5,31 1340.5,34.5 1348.5,29.5" fill="none" stroke="#000" stroke-width="1.3" />
<polyline points="1340.5,34.5 1340.5,48.5" fill="none" stroke="#000" stroke-width="1.3" />
<polygon points="1337.5,30.8 1343,27.6 1346,29.4 1340.5,32.6" fill="#fff" stroke="#000" stroke-width="1" />
<polygon points="1264.7,67 1256,62 1262.6,51.4 1271.2,56.4" fill="#fff" stroke="#000" stroke-width="2.0" />
<polygon points="1264.2,64 1259,61 1263.1,54.4 1268.3,57.4" fill="#fff" stroke="#000" stroke-width="0.9" />
<polyline points="1306.4,105.4 1347.2,39.2 1382,61.7" fill="none" stroke="#000" stroke-width="1.5" />
<polygon points="1344.5,173.6 1377,157.6 1391.8,166.3 1361,183.5" fill="#fff" stroke="#000" stroke-width="1.3" />
<polygon points="1361,183.5 1391.8,166.3 1391.8,182.3 1361,199.5" fill="url(#g4t)" stroke="#000" stroke-width="1.3" />
<path d="M1383 184.500 q3 -3 4.500 -6.500 l4.300 -2.500 v6.800 l-8.800 5z" fill="#000"/>
<polygon points="1344.5,173.6 1361,183.5 1361,200.7 1344.5,192" fill="#fff" stroke="#000" stroke-width="1.3" />
<polyline points="1352.5,178.5 1352.5,196" fill="none" stroke="#000" stroke-width="1.0" />
<polygon points="1391.8,166.3 1384,161.8 1392,157.5 1401,162.8 1401,179 1391.8,184.5" fill="#fff" stroke="#000" stroke-width="1.3" stroke-linejoin="round"/>
<polyline points="1391.8,166.3 1401,162" fill="none" stroke="#000" stroke-width="1.1" />
<polygon points="1394,168.5 1399,165.8 1399,172.5 1394,175.3" fill="#000" stroke="#000" stroke-width="0.5" />
<path d="M1344.500 192 v4 l16.500 9.500 l40 -23" fill="none" stroke="#000" stroke-width="1.2"/>
<ellipse cx="1364.7" cy="203.2" rx="3.2" ry="4" fill="#000"/><ellipse cx="1365.2" cy="203.4" rx="1.1" ry="1.5" fill="#fff"/>
<ellipse cx="1394.3" cy="186" rx="3.2" ry="4" fill="#000"/><ellipse cx="1394.8" cy="186.200" rx="1.1" ry="1.5" fill="#fff"/>
<ellipse cx="1349" cy="197.500" rx="1.6" ry="2.4" fill="#000"/>
<ellipse cx="1309.3" cy="226.6" rx="14.5" ry="8.2" fill="url(#g4glow)" stroke="none" stroke-width="0" />
<polygon points="1302.5,226.8 1309,223 1315.5,226.8 1309,230.6" fill="#000" stroke="#000" stroke-width="0.5" />
<polygon points="1305.5,226.8 1309,224.8 1312.5,226.8 1309,228.8" fill="#fff" stroke="#000" stroke-width="0.4" />
<path d="M1308.600 226.500 V202 M1308.600 206 q-3.500 -1 -4 -5" fill="none" stroke="#000" stroke-width="1.7"/>
<g fill="url(#g4tree)"><polygon points="1322.6,186.3 1322.7,189.4 1320.6,191.9 1320.1,195.2 1317.5,196.9 1314.9,198.2 1312.4,200.3 1309.3,199.3 1306.3,199.9 1303.4,198.9 1301.4,196.5 1298.4,195.2 1297.7,192.1 1296.5,189.3 1295.5,186.3 1297.1,183.4 1296.9,180.2 1298.9,177.8 1301.3,176 1303.2,173.3 1306.5,173.5 1309.3,172.6 1312.3,172.6 1314.8,174.6 1318,175.1 1319.5,177.9 1321,180.5 1322.9,183.1" stroke="url(#g4tree)" stroke-width="1" stroke-linejoin="round"/><circle cx="1322.6" cy="186.3" r="1.3"/><circle cx="1322.7" cy="189.4" r="1.2"/><circle cx="1320.6" cy="191.9" r="1.6"/><circle cx="1320.1" cy="195.2" r="1.1"/><circle cx="1317.5" cy="196.9" r="1.5"/><circle cx="1314.9" cy="198.2" r="1.4"/><circle cx="1312.4" cy="200.3" r="1.1"/><circle cx="1309.3" cy="199.3" r="1.5"/><circle cx="1306.3" cy="199.9" r="1.1"/><circle cx="1303.4" cy="198.9" r="1.4"/><circle cx="1301.4" cy="196.5" r="1.1"/><circle cx="1298.4" cy="195.2" r="1.1"/><circle cx="1297.7" cy="192.1" r="1.4"/><circle cx="1296.5" cy="189.3" r="1.8"/><circle cx="1295.5" cy="186.3" r="1.2"/><circle cx="1297.1" cy="183.4" r="1.3"/><circle cx="1296.9" cy="180.2" r="1.6"/><circle cx="1298.9" cy="177.8" r="1.9"/><circle cx="1301.3" cy="176" r="1.6"/><circle cx="1303.2" cy="173.3" r="1.4"/><circle cx="1306.5" cy="173.5" r="1.9"/><circle cx="1309.3" cy="172.6" r="1.1"/><circle cx="1312.3" cy="172.6" r="1.8"/><circle cx="1314.8" cy="174.6" r="1.3"/><circle cx="1318" cy="175.1" r="1.2"/><circle cx="1319.5" cy="177.9" r="1.2"/><circle cx="1321" cy="180.5" r="1.3"/><circle cx="1322.9" cy="183.1" r="1.8"/></g>
<polygon points="1523,499.4 1553.5,482 1571.8,491.3 1540.8,510" fill="#fdd8dd" stroke="none" stroke-width="0" />
<ellipse cx="1588.8" cy="468.4" rx="9" ry="5" fill="url(#g5s)" stroke="none" stroke-width="0" />
<ellipse cx="1610.7" cy="463.5" rx="6.5" ry="3.8" fill="url(#g5s)" stroke="none" stroke-width="0" />
<polygon points="1486,498 1423.8,462.1 1423.8,337.1 1486,373" fill="url(#g5p)" stroke="none" stroke-width="0" />
<polygon points="1486,498 1576,446.1 1576,321.1 1486,373" fill="#fff" stroke="#000" stroke-width="1.5" />
<polygon points="1490.3,401 1509.4,390 1509.4,387.2 1490.3,398.2" fill="#000" stroke="#000" stroke-width="0.5" />
<polygon points="1491.4,400.4 1508.3,390.6 1508.3,372.8 1491.4,382.6" fill="#000" stroke="#000" stroke-width="0.5" />
<polygon points="1492.8,396 1499.1,392.4 1499.1,379.9 1492.8,383.6" fill="#fff" stroke="none" stroke-width="0" />
<polyline points="1494.5,395 1494.5,382.6" fill="none" stroke="#000" stroke-width="0.9" />
<polygon points="1500.6,391.5 1506.9,387.9 1506.9,375.4 1500.6,379.1" fill="#fff" stroke="none" stroke-width="0" />
<polyline points="1502.3,390.5 1502.3,378.1" fill="none" stroke="#000" stroke-width="0.9" />
<polygon points="1513.5,387.6 1547.7,367.9 1547.7,365.1 1513.5,384.8" fill="#000" stroke="#000" stroke-width="0.5" />
<polygon points="1514.6,387 1546.6,368.5 1546.6,350.7 1514.6,369.2" fill="#000" stroke="#000" stroke-width="0.5" />
<polygon points="1516.1,382.5 1519.6,380.5 1519.6,368.1 1516.1,370.1" fill="#fff" stroke="none" stroke-width="0" />
<polygon points="1521.2,379.6 1524.7,377.5 1524.7,365.1 1521.2,367.2" fill="#fff" stroke="none" stroke-width="0" />
<polygon points="1526.3,376.6 1529.8,374.6 1529.8,362.2 1526.3,364.2" fill="#fff" stroke="none" stroke-width="0" />
<polygon points="1531.4,373.7 1534.9,371.6 1534.9,359.2 1531.4,361.3" fill="#fff" stroke="none" stroke-width="0" />
<polygon points="1536.5,370.8 1540,368.7 1540,356.3 1536.5,358.4" fill="#fff" stroke="none" stroke-width="0" />
<polygon points="1541.6,367.8 1545.1,365.8 1545.1,353.4 1541.6,355.4" fill="#fff" stroke="none" stroke-width="0" />
<polygon points="1552.8,364.9 1572.6,353.5 1572.6,350.7 1552.8,362.1" fill="#000" stroke="#000" stroke-width="0.5" />
<polygon points="1553.8,364.4 1571.6,354.1 1571.6,336.3 1553.8,346.6" fill="#000" stroke="#000" stroke-width="0.5" />
<polygon points="1555.3,359.9 1561.9,356.1 1561.9,343.7 1555.3,347.5" fill="#fff" stroke="none" stroke-width="0" />
<polyline points="1556.9,359 1556.9,346.6" fill="none" stroke="#000" stroke-width="0.9" />
<polygon points="1563.5,355.2 1570.1,351.4 1570.1,338.9 1563.5,342.8" fill="#fff" stroke="none" stroke-width="0" />
<polyline points="1565.1,354.2 1565.1,341.8" fill="none" stroke="#000" stroke-width="0.9" />
<polygon points="1490.3,433.1 1509.4,422.1 1509.4,419.3 1490.3,430.3" fill="#000" stroke="#000" stroke-width="0.5" />
<polygon points="1491.4,432.5 1508.3,422.7 1508.3,404.9 1491.4,414.7" fill="#000" stroke="#000" stroke-width="0.5" />
<polygon points="1492.8,428.1 1499.1,424.4 1499.1,412 1492.8,415.6" fill="#fff" stroke="none" stroke-width="0" />
<polyline points="1494.5,427.1 1494.5,414.7" fill="none" stroke="#000" stroke-width="0.9" />
<polygon points="1500.6,423.6 1506.9,419.9 1506.9,407.5 1500.6,411.1" fill="#fff" stroke="none" stroke-width="0" />
<polyline points="1502.3,422.6 1502.3,410.2" fill="none" stroke="#000" stroke-width="0.9" />
<polygon points="1513.5,419.7 1547.7,400 1547.7,397.2 1513.5,416.9" fill="#000" stroke="#000" stroke-width="0.5" />
<polygon points="1514.6,419.1 1546.6,400.6 1546.6,382.8 1514.6,401.3" fill="#000" stroke="#000" stroke-width="0.5" />
<polygon points="1516.1,414.6 1519.6,412.6 1519.6,400.2 1516.1,402.2" fill="#fff" stroke="none" stroke-width="0" />
<polygon points="1521.2,411.7 1524.7,409.6 1524.7,397.2 1521.2,399.3" fill="#fff" stroke="none" stroke-width="0" />
<polygon points="1526.3,408.8 1529.8,406.7 1529.8,394.3 1526.3,396.4" fill="#fff" stroke="none" stroke-width="0" />
<polygon points="1531.4,405.8 1534.9,403.8 1534.9,391.4 1531.4,393.4" fill="#fff" stroke="none" stroke-width="0" />
<polygon points="1536.5,402.9 1540,400.8 1540,388.4 1536.5,390.5" fill="#fff" stroke="none" stroke-width="0" />
<polygon points="1541.6,399.9 1545.1,397.9 1545.1,385.5 1541.6,387.5" fill="#fff" stroke="none" stroke-width="0" />
<polygon points="1552.8,397.1 1572.6,385.6 1572.6,382.8 1552.8,394.2" fill="#000" stroke="#000" stroke-width="0.5" />
<polygon points="1553.8,396.5 1571.6,386.2 1571.6,368.4 1553.8,378.7" fill="#000" stroke="#000" stroke-width="0.5" />
<polygon points="1555.3,392 1561.9,388.2 1561.9,375.8 1555.3,379.6" fill="#fff" stroke="none" stroke-width="0" />
<polyline points="1556.9,391.1 1556.9,378.6" fill="none" stroke="#000" stroke-width="0.9" />
<polygon points="1563.5,387.3 1570.1,383.4 1570.1,371 1563.5,374.9" fill="#fff" stroke="none" stroke-width="0" />
<polyline points="1565.1,386.3 1565.1,373.9" fill="none" stroke="#000" stroke-width="0.9" />
<polygon points="1490.3,462.2 1509.4,451.2 1509.4,448.4 1490.3,459.4" fill="#000" stroke="#000" stroke-width="0.5" />
<polygon points="1491.4,461.6 1508.3,451.8 1508.3,434 1491.4,443.8" fill="#000" stroke="#000" stroke-width="0.5" />
<polygon points="1492.8,457.2 1499.1,453.6 1499.1,441.1 1492.8,444.8" fill="#fff" stroke="none" stroke-width="0" />
<polyline points="1494.5,456.2 1494.5,443.8" fill="none" stroke="#000" stroke-width="0.9" />
<polygon points="1500.6,452.7 1506.9,449.1 1506.9,436.6 1500.6,440.2" fill="#fff" stroke="none" stroke-width="0" />
<polyline points="1502.3,451.7 1502.3,439.3" fill="none" stroke="#000" stroke-width="0.9" />
<polygon points="1513.5,448.8 1547.7,429.1 1547.7,426.3 1513.5,446" fill="#000" stroke="#000" stroke-width="0.5" />
<polygon points="1514.6,448.2 1546.6,429.7 1546.6,411.9 1514.6,430.4" fill="#000" stroke="#000" stroke-width="0.5" />
<polygon points="1516.1,443.8 1519.6,441.7 1519.6,429.3 1516.1,431.3" fill="#fff" stroke="none" stroke-width="0" />
<polygon points="1521.2,440.8 1524.7,438.8 1524.7,426.3 1521.2,428.4" fill="#fff" stroke="none" stroke-width="0" />
<polygon points="1526.3,437.9 1529.8,435.8 1529.8,423.4 1526.3,425.4" fill="#fff" stroke="none" stroke-width="0" />
<polygon points="1531.4,434.9 1534.9,432.9 1534.9,420.4 1531.4,422.5" fill="#fff" stroke="none" stroke-width="0" />
<polygon points="1536.5,432 1540,429.9 1540,417.5 1536.5,419.6" fill="#fff" stroke="none" stroke-width="0" />
<polygon points="1541.6,429 1545.1,427 1545.1,414.6 1541.6,416.6" fill="#fff" stroke="none" stroke-width="0" />
<polygon points="1552.8,426.1 1572.6,414.7 1572.6,411.9 1552.8,423.4" fill="#000" stroke="#000" stroke-width="0.5" />
<polygon points="1553.8,425.6 1571.6,415.3 1571.6,397.5 1553.8,407.8" fill="#000" stroke="#000" stroke-width="0.5" />
<polygon points="1555.3,421.1 1561.9,417.3 1561.9,404.9 1555.3,408.7" fill="#fff" stroke="none" stroke-width="0" />
<polyline points="1556.9,420.2 1556.9,407.8" fill="none" stroke="#000" stroke-width="0.9" />
<polygon points="1563.5,416.4 1570.1,412.6 1570.1,400.1 1563.5,404" fill="#fff" stroke="none" stroke-width="0" />
<polyline points="1565.1,415.4 1565.1,403" fill="none" stroke="#000" stroke-width="0.9" />
<polygon points="1491.2,376 1493.4,374.8 1493.4,371.8 1491.2,373" fill="#000" stroke="#000" stroke-width="0.5" />
<polygon points="1513.7,363 1515.9,361.8 1515.9,358.8 1513.7,360" fill="#000" stroke="#000" stroke-width="0.5" />
<polygon points="1543.2,346 1545.3,344.8 1545.3,341.8 1543.2,343" fill="#000" stroke="#000" stroke-width="0.5" />
<polygon points="1570,330.5 1572.2,329.2 1572.2,326.2 1570,327.5" fill="#000" stroke="#000" stroke-width="0.5" />
<polygon points="1491.3,494.4 1515.7,480.4 1515.7,457.1 1491.3,471.1" fill="#fff" stroke="#000" stroke-width="2.0" />
<polyline points="1492.1,489.3 1515.7,475.7" fill="none" stroke="#000" stroke-width="1.4" />
<polyline points="1492.1,484.5 1515.7,470.9" fill="none" stroke="#000" stroke-width="1.4" />
<polyline points="1492.1,479.7 1515.7,466.1" fill="none" stroke="#000" stroke-width="1.4" />
<polyline points="1492.1,474.9 1515.7,461.2" fill="none" stroke="#000" stroke-width="1.4" />
<polygon points="1518.9,476 1543.2,462 1543.2,436.5 1518.9,450.5" fill="#fff" stroke="#000" stroke-width="1.7" />
<polygon points="1518.9,450.5 1543.2,436.5 1545.3,437.8 1521.1,451.8" fill="#fff" stroke="#000" stroke-width="1.1" />
<polygon points="1521.1,477.2 1521.1,451.8 1524.5,449.8 1524.5,475.2" fill="#fff" stroke="#000" stroke-width="1.2" />
<polygon points="1525,471 1538.8,463 1538.8,441.5 1525,449.5" fill="#fff" stroke="#000" stroke-width="1.5" />
<polyline points="1531.9,467 1531.9,445.5" fill="none" stroke="#000" stroke-width="1.4" />
<polyline points="1527.1,462.2 1527.1,456.2" fill="none" stroke="#000" stroke-width="1.5" />
<polyline points="1541,460.2 1541,441.2" fill="none" stroke="#000" stroke-width="1.6" stroke-dasharray="1.2 1"/>
<polygon points="1549.7,461.8 1571.3,449.2 1571.3,447.1 1549.7,459.6" fill="#000" stroke="#000" stroke-width="0.5" />
<polygon points="1551,458.8 1569.8,447.9 1569.8,425.6 1551,436.5" fill="#fff" stroke="#000" stroke-width="1.8" />
<polyline points="1557.3,455.2 1557.3,432.9" fill="none" stroke="#000" stroke-width="1.4" />
<polyline points="1563.5,451.6 1563.5,429.2" fill="none" stroke="#000" stroke-width="1.4" />
<polygon points="1552.3,456.6 1556.1,454.3 1556.1,435.2 1552.3,437.4" fill="#fff" stroke="#000" stroke-width="0.9" />
<polygon points="1558.4,453 1562.4,450.7 1562.4,431.6 1558.4,433.9" fill="#fff" stroke="#000" stroke-width="0.9" />
<polygon points="1564.6,449.4 1568.5,447.2 1568.5,428.1 1564.6,430.3" fill="#fff" stroke="#000" stroke-width="0.9" />
<polygon points="1495.1,394.8 1503.3,390 1503.3,382.5 1495.1,387.2" fill="#fff" stroke="#000" stroke-width="1.2" />
<polygon points="1496.1,390.3 1502.3,386.8 1502.3,384.6 1496.1,388.1" fill="#e5364b" stroke="none" stroke-width="0" />
<polyline points="1496.1,391.9 1502.3,388.4" fill="none" stroke="#e5364b" stroke-width="0.7" />
<polyline points="1496.8,386.2 1499.2,381.9" fill="none" stroke="#000" stroke-width="0.8" />
<polyline points="1501.6,383.5 1499.2,381.9" fill="none" stroke="#000" stroke-width="0.8" />
<polygon points="1560.9,387.8 1569.1,383 1569.1,375.5 1560.9,380.2" fill="#fff" stroke="#000" stroke-width="1.2" />
<polygon points="1562,383.3 1568.1,379.8 1568.1,377.6 1562,381.1" fill="#e5364b" stroke="none" stroke-width="0" />
<polyline points="1562,384.9 1568.1,381.4" fill="none" stroke="#e5364b" stroke-width="0.7" />
<polyline points="1562.6,379.2 1565,374.9" fill="none" stroke="#000" stroke-width="0.8" />
<polyline points="1567.4,376.5 1565,374.9" fill="none" stroke="#000" stroke-width="0.8" />
<polygon points="1531.9,435 1540.1,430.2 1540.1,422.8 1531.9,427.5" fill="#fff" stroke="#000" stroke-width="1.2" />
<polygon points="1532.9,430.6 1539.1,427.1 1539.1,424.9 1532.9,428.4" fill="#e5364b" stroke="none" stroke-width="0" />
<polyline points="1532.9,432.2 1539.1,428.7" fill="none" stroke="#e5364b" stroke-width="0.7" />
<polyline points="1533.6,426.5 1536,422.1" fill="none" stroke="#000" stroke-width="0.8" />
<polyline points="1538.4,423.8 1536,422.1" fill="none" stroke="#000" stroke-width="0.8" />
<polygon points="1421.5,336.5 1485.6,373.8 1578.6,320.5 1578.6,323.7 1485.6,377 1421.5,339.7" fill="#fff" stroke="#000" stroke-width="1.3" stroke-linejoin="round"/>
<polygon points="1417.6,331.6 1485.2,371 1581.6,316.3 1581.6,319.3 1485.2,374 1417.6,334.6" fill="#fff" stroke="#000" stroke-width="1.4" stroke-linejoin="round"/>
<polygon points="1512.7,276.3 1417.6,331.6 1485.2,371 1581.6,316.3" fill="#fff" stroke="#000" stroke-width="1.5" stroke-linejoin="round"/>
<polygon points="1512.7,278.7 1421.8,331.6 1485.2,368.6 1577.4,316.3" fill="#fff" stroke="#000" stroke-width="1.2" />
<g stroke="#111" stroke-linejoin="round"><path d="M1538.500 479 l3.500 -1 l4 12 l-1 9 l-5 3 l-2.500 -8z" fill="#fff" stroke-width="1.8"/><path d="M1540 487 l3 -1.500 l1 8 l-3 1.500z" fill="#111" stroke-width="0.8"/><path d="M1545 490 l4 -9 l6 -2.500 l4.500 3 l0.500 8 l-4 6 l-6 2 l-4 3z" fill="#222" stroke-width="1.5"/><path d="M1549.500 481.500 l5.500 -2.500 l4 2.500 l-5.500 3z" fill="#fff" stroke-width="1.200"/><ellipse cx="1539.200" cy="500.500" rx="2.400" ry="3.200" fill="#111"/><ellipse cx="1556.500" cy="491" rx="3" ry="4" fill="#111"/><path d="M1537.500 478.500 l6 1.500" fill="none" stroke-width="2.200"/><path d="M1544 497 l6 -3" fill="none" stroke-width="1.5"/></g>
<polygon points="1183.9,690 1183.9,562.6 1222.1,510 1254.2,526.4 1254.2,645.5 1190,684" fill="url(#g6g)" stroke="none" stroke-width="0" />
<polygon points="1136.2,690.2 1156,679 1205,706.3 1185.5,718.9" fill="#cdf8e5" stroke="none" stroke-width="0" />
<polygon points="1183.9,687.3 1107.6,643.2 1107.6,518.5 1183.9,562.6" fill="#fff" stroke="#000" stroke-width="1.5" />
<polyline points="1157.3,671.9 1157.3,547.2" fill="none" stroke="#000" stroke-width="1.3" />
<polyline points="1155.8,671 1155.8,546.3" fill="none" stroke="#000" stroke-width="1.3" />
<polyline points="1136.3,659.8 1136.3,535.1" fill="none" stroke="#000" stroke-width="1.3" />
<polygon points="1129.8,564 1114.5,555.2 1114.5,532.8 1129.8,541.5" fill="#fff" stroke="#000" stroke-width="2.6" />
<polygon points="1128,561 1116.3,554.2 1116.3,535.8 1128,542.5" fill="#fff" stroke="#000" stroke-width="0.8" />
<polyline points="1129.8,548.3 1114.5,539.5" fill="none" stroke="#000" stroke-width="1.4" />
<polyline points="1124.7,561.1 1124.7,545.4" fill="none" stroke="#000" stroke-width="1.3" />
<polyline points="1119.6,558.2 1119.6,542.4" fill="none" stroke="#000" stroke-width="1.3" />
<polygon points="1129.8,593 1114.5,584.2 1114.5,561.8 1129.8,570.5" fill="#fff" stroke="#000" stroke-width="2.6" />
<polygon points="1128,590 1116.3,583.2 1116.3,564.8 1128,571.5" fill="#fff" stroke="#000" stroke-width="0.8" />
<polyline points="1129.8,577.3 1114.5,568.5" fill="none" stroke="#000" stroke-width="1.4" />
<polyline points="1124.7,590.1 1124.7,574.4" fill="none" stroke="#000" stroke-width="1.3" />
<polyline points="1119.6,587.2 1119.6,571.4" fill="none" stroke="#000" stroke-width="1.3" />
<polygon points="1129.8,618.5 1114.5,609.8 1114.5,590.2 1129.8,599" fill="#fff" stroke="#000" stroke-width="2.6" />
<polygon points="1128,615.5 1116.3,608.8 1116.3,593.2 1128,600" fill="#fff" stroke="#000" stroke-width="0.8" />
<polyline points="1129.8,604.9 1114.5,596.1" fill="none" stroke="#000" stroke-width="1.4" />
<polyline points="1124.7,615.6 1124.7,602" fill="none" stroke="#000" stroke-width="1.3" />
<polyline points="1119.6,612.7 1119.6,599" fill="none" stroke="#000" stroke-width="1.3" />
<polygon points="1150.7,574.1 1140.1,568 1140.1,546 1150.7,552.1" fill="#fff" stroke="#000" stroke-width="2.6" />
<polygon points="1149,571.1 1141.8,567 1141.8,549 1149,553.1" fill="#fff" stroke="#000" stroke-width="0.8" />
<polyline points="1150.7,558.8 1140.1,552.6" fill="none" stroke="#000" stroke-width="1.4" />
<polyline points="1145.4,571.1 1145.4,555.7" fill="none" stroke="#000" stroke-width="1.3" />
<polygon points="1150.7,602.1 1140.1,596 1140.1,574 1150.7,580.1" fill="#fff" stroke="#000" stroke-width="2.6" />
<polygon points="1149,599.1 1141.8,595 1141.8,577 1149,581.1" fill="#fff" stroke="#000" stroke-width="0.8" />
<polyline points="1150.7,586.8 1140.1,580.6" fill="none" stroke="#000" stroke-width="1.4" />
<polyline points="1145.4,599.1 1145.4,583.7" fill="none" stroke="#000" stroke-width="1.3" />
<polygon points="1150.7,628.1 1140.1,622 1140.1,602 1150.7,608.1" fill="#fff" stroke="#000" stroke-width="2.6" />
<polygon points="1149,625.1 1141.8,621 1141.8,605 1149,609.1" fill="#fff" stroke="#000" stroke-width="0.8" />
<polyline points="1150.7,614.1 1140.1,608" fill="none" stroke="#000" stroke-width="1.4" />
<polyline points="1145.4,625.1 1145.4,611.1" fill="none" stroke="#000" stroke-width="1.3" />
<polygon points="1177.9,587.3 1163,578.8 1163,560.2 1177.9,568.8" fill="#fff" stroke="#000" stroke-width="2.6" />
<polygon points="1176.2,584.3 1164.8,577.8 1164.8,563.2 1176.2,569.8" fill="#fff" stroke="#000" stroke-width="0.8" />
<polyline points="1177.9,574.4 1163,565.8" fill="none" stroke="#000" stroke-width="1.4" />
<polyline points="1173,584.5 1173,571.5" fill="none" stroke="#000" stroke-width="1.3" />
<polyline points="1168,581.6 1168,568.7" fill="none" stroke="#000" stroke-width="1.3" />
<polygon points="1177.9,613.8 1163,605.2 1163,586.5 1177.9,595.1" fill="#fff" stroke="#000" stroke-width="2.6" />
<polygon points="1176.2,610.8 1164.8,604.2 1164.8,589.5 1176.2,596.1" fill="#fff" stroke="#000" stroke-width="0.8" />
<polyline points="1177.9,600.8 1163,592.2" fill="none" stroke="#000" stroke-width="1.4" />
<polyline points="1173,611 1173,597.9" fill="none" stroke="#000" stroke-width="1.3" />
<polyline points="1168,608.1 1168,595" fill="none" stroke="#000" stroke-width="1.3" />
<polygon points="1136.3,629.8 1106.3,612.5 1106.3,609.5 1136.3,626.8" fill="#fff" stroke="#000" stroke-width="1.4" />
<polygon points="1131.9,655.3 1112,643.8 1112,617.8 1131.9,629.3" fill="#fff" stroke="#000" stroke-width="1.8" />
<polygon points="1130.2,651.8 1113.8,642.3 1113.8,621.3 1130.2,630.8" fill="#fff" stroke="#000" stroke-width="1.1" />
<polygon points="1121.5,640.3 1116.4,637.3 1116.4,626.3 1121.5,629.3" fill="#1fa870" stroke="#0b3d2a" stroke-width="0.8" />
<path d="M1140.500 664.500 v-24 q3 -9 11 -1 v30.500z" fill="#fff" stroke="#000" stroke-width="1.6"/>
<path d="M1143 663.500 v-21 q2 -5 6 -1 v25.500 M1146 642 v23" fill="none" stroke="#000" stroke-width="1.1"/>
<polygon points="1137,660 1150,667.5 1150,670 1137,662.5" fill="#fff" stroke="#000" stroke-width="1.0" />
<polygon points="1134.4,663.6 1147.4,671.1 1147.4,673.6 1134.4,666.1" fill="#fff" stroke="#000" stroke-width="1.0" />
<polygon points="1131.8,667.2 1144.8,674.7 1144.8,677.2 1131.8,669.7" fill="#fff" stroke="#000" stroke-width="1.0" />
<polygon points="1129.2,670.8 1142.2,678.3 1142.2,680.8 1129.2,673.3" fill="#fff" stroke="#000" stroke-width="1.0" />
<polygon points="1183.9,562.6 1107.6,520.7 1145.9,468 1222.1,510" fill="#fff" stroke="#000" stroke-width="1.5" stroke-linejoin="round"/>
<polygon points="1155,546.7 1123.6,529.5 1150.4,492.7 1164.7,500.6 1175.8,485.3 1192.8,494.6" fill="#000" stroke="#000" stroke-width="0.8" />
<polyline points="1159.4,540.7 1128,523.4" fill="none" stroke="#8a8a8a" stroke-width="0.6" />
<polyline points="1163.8,534.6 1132.4,517.4" fill="none" stroke="#8a8a8a" stroke-width="0.6" />
<polyline points="1168.2,528.6 1136.8,511.4" fill="none" stroke="#8a8a8a" stroke-width="0.6" />
<polyline points="1172.5,522.5 1141.2,505.3" fill="none" stroke="#8a8a8a" stroke-width="0.6" />
<polyline points="1176.9,516.5 1145.6,499.3" fill="none" stroke="#8a8a8a" stroke-width="0.6" />
<polyline points="1181.3,510.4 1150,493.2" fill="none" stroke="#8a8a8a" stroke-width="0.6" />
<circle cx="1176.7" cy="489.1" r="0.8" fill="#fff"/>
<circle cx="1180" cy="490.9" r="0.8" fill="#fff"/>
<circle cx="1183.3" cy="492.7" r="0.8" fill="#fff"/>
<circle cx="1186.6" cy="494.5" r="0.8" fill="#fff"/>
<polygon points="1151.1,492.1 1161.9,475.3 1176,483.2 1163.7,501.2" fill="url(#g6r)" stroke="#000" stroke-width="0.9" />
<path d="M1145 496.500 L1157.500 503.500 q3 -1.500 1.500 -5 L1146.500 491.500 q-3.500 1 -1.500 5z" fill="#fff" stroke="#000" stroke-width="1.1"/>
<ellipse cx="1158.300" cy="501" rx="1.700" ry="2.600" fill="#fff" stroke="#000" stroke-width="1"/>
<polyline points="1155.9,684.5 1155.9,596.5" fill="none" stroke="#000" stroke-width="1.3" />
<polyline points="1197.5,707.7 1197.5,623.7" fill="none" stroke="#000" stroke-width="1.5" />
<polyline points="1155.9,674.5 1197.5,697.7" fill="none" stroke="#000" stroke-width="1.1" />
<polyline points="1155.9,665.5 1197.5,688.7" fill="none" stroke="#000" stroke-width="0.9900000000000001" />
<polyline points="1145.8,680.5 1155.9,674.5" fill="none" stroke="#000" stroke-width="1.2" />
<polyline points="1145.8,671.5 1155.9,665.5" fill="none" stroke="#000" stroke-width="1.08" />
<polyline points="1186.2,704.2 1197.5,697.7" fill="none" stroke="#000" stroke-width="1.2" />
<polyline points="1186.2,695.2 1197.5,688.7" fill="none" stroke="#000" stroke-width="1.08" />
<polygon points="1145.8,680.5 1186.2,704.2 1197.5,697.7 1155.9,674.5" fill="#fff" stroke="#000" stroke-width="1.1" />
<polyline points="1145.8,681.5 1186.2,705.2" fill="none" stroke="#000" stroke-width="2.6" />
<polyline points="1145.8,671.5 1186.2,695.2" fill="none" stroke="#000" stroke-width="1.1" />
<polyline points="1155.9,642.5 1197.5,665.7" fill="none" stroke="#000" stroke-width="1.1" />
<polyline points="1155.9,633.5 1197.5,656.7" fill="none" stroke="#000" stroke-width="0.9900000000000001" />
<polyline points="1145.8,648.5 1155.9,642.5" fill="none" stroke="#000" stroke-width="1.2" />
<polyline points="1145.8,639.5 1155.9,633.5" fill="none" stroke="#000" stroke-width="1.08" />
<polyline points="1186.2,672.2 1197.5,665.7" fill="none" stroke="#000" stroke-width="1.2" />
<polyline points="1186.2,663.2 1197.5,656.7" fill="none" stroke="#000" stroke-width="1.08" />
<polygon points="1145.8,648.5 1186.2,672.2 1197.5,665.7 1155.9,642.5" fill="#fff" stroke="#000" stroke-width="1.1" />
<polyline points="1145.8,649.5 1186.2,673.2" fill="none" stroke="#000" stroke-width="2.6" />
<polyline points="1145.8,639.5 1186.2,663.2" fill="none" stroke="#000" stroke-width="1.1" />
<polygon points="1145.8,618.5 1186.2,642.2 1197.5,635.7 1155.9,612.5" fill="#fff" stroke="#000" stroke-width="1.2" />
<polygon points="1145.8,618.5 1186.2,642.2 1186.2,646.2 1145.8,622.5" fill="#000" stroke="#000" stroke-width="0.8" />
<polygon points="1163.5,632 1167.1,634.1 1167.1,637.2 1163.5,635.1" fill="#fff" stroke="#000" stroke-width="1.2" />
<polygon points="1168.7,635 1172.3,637.1 1172.3,640.2 1168.7,638.1" fill="#fff" stroke="#000" stroke-width="1.2" />
<polygon points="1173.9,638.1 1177.5,640.2 1177.5,643.3 1173.9,641.2" fill="#fff" stroke="#000" stroke-width="1.2" />
<path d="M1179.1,635.2 L1193.4,629.8 L1196.3,631.6 L1183.3,638.7 z" fill="#111"/>
<polyline points="1145.8,604.5 1155.9,596.5" fill="none" stroke="#000" stroke-width="1.1" />
<polyline points="1186.2,628.2 1197.5,623.7" fill="none" stroke="#000" stroke-width="1.2" />
<polyline points="1155.9,604.5 1197.5,629.7" fill="none" stroke="#000" stroke-width="1.0" />
<polyline points="1145.8,690.5 1145.8,604.5" fill="none" stroke="#000" stroke-width="1.6" />
<polyline points="1186.2,714.2 1186.2,628.2" fill="none" stroke="#000" stroke-width="1.6" />
<ellipse cx="1145.8" cy="691" rx="2.300" ry="1.900" fill="#000"/>
<ellipse cx="1186.2" cy="714.7" rx="2.300" ry="1.900" fill="#000"/>
<ellipse cx="1197.5" cy="708.2" rx="2.300" ry="1.900" fill="#000"/>
<polyline points="1186.2,704.2 1197.5,665.7" fill="none" stroke="#000" stroke-width="0.9" />
<polyline points="1186.2,672.2 1197.5,635.7" fill="none" stroke="#000" stroke-width="0.9" />
<polyline points="1187.1,629.2 1181.8,667.9" fill="none" stroke="#000" stroke-width="1.3" />
<polyline points="1191.6,631 1185,666.1" fill="none" stroke="#000" stroke-width="1.3" />
<polyline points="1186.5,633.5 1190.9,634.9" fill="none" stroke="#000" stroke-width="1.0" />
<polyline points="1185.9,637.8 1190.1,638.8" fill="none" stroke="#000" stroke-width="1.0" />
<polyline points="1185.3,642.1 1189.4,642.7" fill="none" stroke="#000" stroke-width="1.0" />
<polyline points="1184.7,646.4 1188.7,646.6" fill="none" stroke="#000" stroke-width="1.0" />
<polyline points="1184.2,650.7 1187.9,650.5" fill="none" stroke="#000" stroke-width="1.0" />
<polyline points="1183.6,655 1187.2,654.4" fill="none" stroke="#000" stroke-width="1.0" />
<polyline points="1183,659.3 1186.5,658.3" fill="none" stroke="#000" stroke-width="1.0" />
<polyline points="1182.4,663.6 1185.8,662.2" fill="none" stroke="#000" stroke-width="1.0" />
<polyline points="1150.2,645.9 1154.1,682.7" fill="none" stroke="#000" stroke-width="1.3" />
<polyline points="1154.1,644.1 1158.3,680.4" fill="none" stroke="#000" stroke-width="1.3" />
<polyline points="1150.6,650 1154.6,648.1" fill="none" stroke="#000" stroke-width="1.0" />
<polyline points="1151.1,654.1 1155.1,652.2" fill="none" stroke="#000" stroke-width="1.0" />
<polyline points="1151.5,658.2 1155.5,656.2" fill="none" stroke="#000" stroke-width="1.0" />
<polyline points="1151.9,662.3 1156,660.2" fill="none" stroke="#000" stroke-width="1.0" />
<polyline points="1152.4,666.4 1156.4,664.2" fill="none" stroke="#000" stroke-width="1.0" />
<polyline points="1152.8,670.5 1156.9,668.3" fill="none" stroke="#000" stroke-width="1.0" />
<polyline points="1153.3,674.5 1157.4,672.3" fill="none" stroke="#000" stroke-width="1.0" />
<polyline points="1153.7,678.6 1157.8,676.3" fill="none" stroke="#000" stroke-width="1.0" />
<path d="M1147.6,647.1 L1155.9,645.9 L1164.2,650.6" fill="none" stroke="#000" stroke-width="2.200"/>
<path d="M1170.200 604.500 q1.800 -2.500 3.600 0 l0.300 3 l3.600 -4 l1 1 l-3.600 6.500 l-0.500 8 l-1 9 l-1.600 0 l-0.200 -8 l-0.900 8 l-1.600 -0.500 l0.300 -10 l-0.500 -9z" fill="#23a673" stroke="#0b3d2a" stroke-width="0.700"/>
<path d="M1176 603 l5 -3.500 l-1.800 6.500z" fill="#111"/>
<path d="M1168.500 601.500 l3 -2 l3 1.500 v3.500 l-3 1.500 l-3 -1.500z" fill="#fff" stroke="#111" stroke-width="1"/>
<ellipse cx="1767.3" cy="855.2" rx="25" ry="14.2" fill="url(#g7glow)" stroke="none" stroke-width="0" />
<polygon points="1698.3,895.2 1728,879.3 1745.2,888.1 1714.8,905.2" fill="#fde9b6" stroke="none" stroke-width="0" />
<polygon points="1721.5,749.5 1741.1,760.2 1721.5,771.1" fill="#fff" stroke="#000" stroke-width="1.3" />
<polygon points="1721.5,768.5 1740.2,759.6 1740.2,829.1 1721.5,839.5" fill="#fff" stroke="#000" stroke-width="1.3" />
<polyline points="1721.5,768.9 1740.5,759.8" fill="none" stroke="#000" stroke-width="3.0" />
<polygon points="1723.9,776.8 1732.8,772.1 1732.8,781 1723.9,785.7" fill="#fff" stroke="#000" stroke-width="2.0" />
<polyline points="1736.1,762.6 1736.1,811.3" fill="none" stroke="#000" stroke-width="2.2" stroke-dasharray="1.1 0.7"/>
<polyline points="1735,763.2 1735,811.3" fill="none" stroke="#000" stroke-width="0.8" />
<polyline points="1737.3,762 1737.3,811.3" fill="none" stroke="#000" stroke-width="0.8" />
<path d="M1729.300 813 q7.700 -4.500 15.400 0 v21.500 q-7.700 5.500 -15.400 0z" fill="#fff" stroke="#000" stroke-width="1.4"/>
<path d="M1729.300 813 q7.700 5 15.400 0 M1729.300 817.500 q7.700 5 15.400 0 M1729.300 822 q7.700 5 15.400 0 M1729.300 826.500 q7.700 5 15.400 0 M1729.300 831 q7.700 5 15.400 0" fill="none" stroke="#000" stroke-width="1.3"/>
<ellipse cx="1735" cy="813.500" rx="3.500" ry="1.800" fill="#fff" stroke="#000" stroke-width="1"/>
<polygon points="1648,893 1595.8,862.9 1595.8,750.9 1648,781" fill="#fff" stroke="#000" stroke-width="1.5" />
<polyline points="1648,817.7 1595.8,787.6" fill="none" stroke="#000" stroke-width="2.0" />
<polyline points="1648,820.2 1602.7,794.1" fill="none" stroke="#000" stroke-width="1.0" />
<polyline points="1596.1,786.9 1621.9,772.4" fill="none" stroke="#000" stroke-width="1.3" />
<polyline points="1603.6,794.4 1621.9,783.5" fill="none" stroke="#000" stroke-width="1.1" />
<polygon points="1621,767.9 1624,769.6 1624,799.8 1621,798.2" fill="#111" stroke="#000" stroke-width="0.8" />
<polygon points="1624,770.6 1630.8,774 1630.8,797.1 1624,793.7" fill="#fff" stroke="#000" stroke-width="1.2" />
<polygon points="1624.7,780.8 1629.8,778.3 1630.2,784.9 1625.3,787.6" fill="#f57c00" stroke="none" stroke-width="0" />
<polyline points="1625.6,772.6 1625.6,780.8" fill="none" stroke="#000" stroke-width="2.0" />
<path d="M1632.8 774.7 V796.4 M1636.9 776.7 V798.4 M1641.4 778.7 V798.4 M1645.5 780.8 V796.4" fill="none" stroke="#000" stroke-width="1.300"/>
<path d="M1632.4 795.7 Q1638.9 802.5 1646 796.4" fill="none" stroke="#000" stroke-width="1.600"/>
<ellipse cx="1641" cy="806.6" rx="6.200" ry="3.600" fill="#fff" stroke="#000" stroke-width="1.300" transform="rotate(12 1641 806.6)"/>
<path d="M1611.5 763.8 v3 q2.500 2 5 0 v-3z" fill="#fff" stroke="#000" stroke-width="1.300"/>
<path d="M1604.7 767.9 q1.500 -2.500 3.200 0 l0.600 5 l0.300 13 l-3.400 0 l-0.900 -13z" fill="#222" stroke="#000" stroke-width="0.800"/>
<path d="M1598.8 767.2 l2.500 6 l2 -6 M1602 766.5 l3 5" fill="none" stroke="#000" stroke-width="1.300"/>
<path d="M1603.6 787.3 l4.500 -0.500" stroke="#f57c00" stroke-width="1.800" fill="none"/>
<polyline points="1603.6,867.4 1603.6,792.1" fill="none" stroke="#000" stroke-width="1.3" />
<polyline points="1640.6,888.8 1640.6,816" fill="none" stroke="#000" stroke-width="1.0" />
<polyline points="1638.9,887.8 1638.9,815" fill="none" stroke="#000" stroke-width="1.2" />
<polygon points="1632.4,849 1610.3,836.2 1610.3,799.2 1632.4,812" fill="#ffe9bd" stroke="none" stroke-width="0" />
<polygon points="1631.5,841.8 1611.7,830.3 1611.7,804.5 1631.5,816" fill="#000" stroke="#000" stroke-width="0.6" />
<polygon points="1624.4,835.4 1617.6,831.6 1617.6,810.2 1624.4,814" fill="#fff" stroke="none" stroke-width="0" />
<polyline points="1621,833.5 1621,812.1" fill="none" stroke="#000" stroke-width="1.0" />
<polygon points="1629.6,837.9 1625.7,835.6 1625.7,831.8 1629.6,834" fill="#fff" stroke="none" stroke-width="0" />
<polygon points="1629.6,832.5 1625.7,830.3 1625.7,826.4 1629.6,828.6" fill="#fff" stroke="none" stroke-width="0" />
<polygon points="1629.6,827.1 1625.7,824.9 1625.7,821.1 1629.6,823.3" fill="#fff" stroke="none" stroke-width="0" />
<polygon points="1629.6,821.8 1625.7,819.6 1625.7,815.7 1629.6,818" fill="#fff" stroke="none" stroke-width="0" />
<polygon points="1616.3,830.2 1613.6,828.6 1613.6,824.8 1616.3,826.3" fill="#fff" stroke="none" stroke-width="0" />
<polygon points="1616.3,824.8 1613.6,823.3 1613.6,819.4 1616.3,821" fill="#fff" stroke="none" stroke-width="0" />
<polygon points="1616.3,819.5 1613.6,817.9 1613.6,814.1 1616.3,815.6" fill="#fff" stroke="none" stroke-width="0" />
<polygon points="1616.3,814.1 1613.6,812.6 1613.6,808.8 1616.3,810.3" fill="#fff" stroke="none" stroke-width="0" />
<polygon points="1638.9,887.8 1604.3,867.8 1604.3,834.2 1638.9,854.2" fill="#fff" stroke="#000" stroke-width="1.7" />
<polygon points="1637.6,887 1605.6,868.5 1605.6,837.5 1637.6,856" fill="#fff" stroke="#000" stroke-width="1.3" />
<polyline points="1637.6,876.5 1605.6,858" fill="none" stroke="#000" stroke-width="1.3" />
<polyline points="1637.6,866 1605.6,847.5" fill="none" stroke="#000" stroke-width="1.3" />
<polygon points="1648,893 1721.4,850.6 1721.4,738.6 1648,781" fill="#fff" stroke="#000" stroke-width="1.5" />
<polygon points="1652.8,850.2 1675.7,837 1675.7,765 1652.8,778.2" fill="#ffe9bd" stroke="none" stroke-width="0" />
<polygon points="1648.7,891.8 1681.3,873 1681.3,829.8 1648.7,848.6" fill="#ffe9bd" stroke="none" stroke-width="0" />
<polygon points="1681.3,873 1706,858.7 1706,747.5 1681.3,761.8" fill="#ffe9bd" stroke="none" stroke-width="0" />
<polygon points="1648,893 1721.4,850.6 1721.4,738.6 1648,781" fill="none" stroke="#000" stroke-width="1.5" />
<path d="M1654.1 810.8 L1674.7 798.9 L1674.7 776.6 Q1674.7 770.6 1664.4 774 Q1654.1 782.5 1654.1 788.5z" fill="#000"/>
<polygon points="1661.5,804.3 1668.5,800.3 1668.5,780.9 1661.5,784.9" fill="#fff" stroke="none" stroke-width="0" />
<polyline points="1665,802.3 1665,782.9" fill="none" stroke="#000" stroke-width="1.0" />
<polygon points="1656,806.9 1660.1,804.5 1660.1,801.2 1656,803.5" fill="#fff" stroke="none" stroke-width="0" />
<polygon points="1656,802 1660.1,799.7 1660.1,796.3 1656,798.7" fill="#fff" stroke="none" stroke-width="0" />
<polygon points="1656,797.2 1660.1,794.8 1660.1,791.5 1656,793.9" fill="#fff" stroke="none" stroke-width="0" />
<polygon points="1656,792.4 1660.1,790 1660.1,788.6 1656,791" fill="#fff" stroke="none" stroke-width="0" />
<polygon points="1669.9,798.9 1672.8,797.2 1672.8,793.9 1669.9,795.5" fill="#fff" stroke="none" stroke-width="0" />
<polygon points="1669.9,794 1672.8,792.4 1672.8,789 1669.9,790.7" fill="#fff" stroke="none" stroke-width="0" />
<polygon points="1669.9,789.2 1672.8,787.5 1672.8,784.2 1669.9,785.8" fill="#fff" stroke="none" stroke-width="0" />
<polygon points="1669.9,784.3 1672.8,782.7 1672.8,781.3 1669.9,783" fill="#fff" stroke="none" stroke-width="0" />
<polygon points="1654.1,843.5 1674.7,831.6 1674.7,801.6 1654.1,813.5" fill="#000" stroke="#000" stroke-width="0.6" />
<polygon points="1661.5,837 1668.5,833 1668.5,807.4 1661.5,811.4" fill="#fff" stroke="none" stroke-width="0" />
<polyline points="1665,835 1665,809.4" fill="none" stroke="#000" stroke-width="1.0" />
<polygon points="1656,839.6 1660.1,837.2 1660.1,832.3 1656,834.7" fill="#fff" stroke="none" stroke-width="0" />
<polygon points="1656,833.2 1660.1,830.8 1660.1,825.9 1656,828.3" fill="#fff" stroke="none" stroke-width="0" />
<polygon points="1656,826.8 1660.1,824.4 1660.1,819.5 1656,821.9" fill="#fff" stroke="none" stroke-width="0" />
<polygon points="1656,820.4 1660.1,818 1660.1,813.1 1656,815.5" fill="#fff" stroke="none" stroke-width="0" />
<polygon points="1669.9,831.6 1672.8,829.9 1672.8,825 1669.9,826.7" fill="#fff" stroke="none" stroke-width="0" />
<polygon points="1669.9,825.2 1672.8,823.5 1672.8,818.6 1669.9,820.3" fill="#fff" stroke="none" stroke-width="0" />
<polygon points="1669.9,818.8 1672.8,817.1 1672.8,812.2 1669.9,813.9" fill="#fff" stroke="none" stroke-width="0" />
<polygon points="1669.9,812.4 1672.8,810.7 1672.8,805.8 1669.9,807.5" fill="#fff" stroke="none" stroke-width="0" />
<polygon points="1654.1,872.5 1674.7,860.6 1674.7,834.4 1654.1,846.3" fill="#000" stroke="#000" stroke-width="0.6" />
<polygon points="1661.5,866 1668.5,862 1668.5,840.2 1661.5,844.2" fill="#fff" stroke="none" stroke-width="0" />
<polyline points="1665,864 1665,842.2" fill="none" stroke="#000" stroke-width="1.0" />
<polygon points="1656,868.6 1660.1,866.2 1660.1,862.3 1656,864.6" fill="#fff" stroke="none" stroke-width="0" />
<polygon points="1656,863.1 1660.1,860.8 1660.1,856.8 1656,859.2" fill="#fff" stroke="none" stroke-width="0" />
<polygon points="1656,857.7 1660.1,855.3 1660.1,851.4 1656,853.8" fill="#fff" stroke="none" stroke-width="0" />
<polygon points="1656,852.2 1660.1,849.9 1660.1,845.9 1656,848.3" fill="#fff" stroke="none" stroke-width="0" />
<polygon points="1669.9,860.6 1672.8,858.9 1672.8,855 1669.9,856.6" fill="#fff" stroke="none" stroke-width="0" />
<polygon points="1669.9,855.1 1672.8,853.5 1672.8,849.5 1669.9,851.2" fill="#fff" stroke="none" stroke-width="0" />
<polygon points="1669.9,849.7 1672.8,848 1672.8,844.1 1669.9,845.7" fill="#fff" stroke="none" stroke-width="0" />
<polygon points="1669.9,844.2 1672.8,842.6 1672.8,838.6 1669.9,840.3" fill="#fff" stroke="none" stroke-width="0" />
<path d="M1683.1 794 L1704.6 781.6 L1704.6 756.9 Q1704.6 750.9 1693.8 754.5 Q1683.1 763.2 1683.1 769.2z" fill="#000"/>
<polygon points="1690.8,787.3 1698.1,783.1 1698.1,761.3 1690.8,765.5" fill="#fff" stroke="none" stroke-width="0" />
<polyline points="1694.5,785.2 1694.5,763.4" fill="none" stroke="#000" stroke-width="1.0" />
<polygon points="1685,790 1689.4,787.5 1689.4,783.5 1685,786.1" fill="#fff" stroke="none" stroke-width="0" />
<polygon points="1685,784.6 1689.4,782 1689.4,778.1 1685,780.6" fill="#fff" stroke="none" stroke-width="0" />
<polygon points="1685,779.1 1689.4,776.6 1689.4,772.6 1685,775.2" fill="#fff" stroke="none" stroke-width="0" />
<polygon points="1685,773.7 1689.4,771.1 1689.4,769.2 1685,771.8" fill="#fff" stroke="none" stroke-width="0" />
<polygon points="1699.5,781.7 1702.6,779.9 1702.6,775.9 1699.5,777.7" fill="#fff" stroke="none" stroke-width="0" />
<polygon points="1699.5,776.2 1702.6,774.4 1702.6,770.5 1699.5,772.3" fill="#fff" stroke="none" stroke-width="0" />
<polygon points="1699.5,770.8 1702.6,769 1702.6,765 1699.5,766.8" fill="#fff" stroke="none" stroke-width="0" />
<polygon points="1699.5,765.3 1702.6,763.5 1702.6,761.6 1699.5,763.4" fill="#fff" stroke="none" stroke-width="0" />
<polygon points="1683.1,826.8 1704.6,814.4 1704.6,784.4 1683.1,796.8" fill="#000" stroke="#000" stroke-width="0.6" />
<polygon points="1690.8,820.1 1698.1,815.9 1698.1,790.3 1690.8,794.5" fill="#fff" stroke="none" stroke-width="0" />
<polyline points="1694.5,818 1694.5,792.4" fill="none" stroke="#000" stroke-width="1.0" />
<polygon points="1685,822.9 1689.4,820.3 1689.4,815.4 1685,817.9" fill="#fff" stroke="none" stroke-width="0" />
<polygon points="1685,816.4 1689.4,813.9 1689.4,809 1685,811.5" fill="#fff" stroke="none" stroke-width="0" />
<polygon points="1685,810 1689.4,807.5 1689.4,802.6 1685,805.1" fill="#fff" stroke="none" stroke-width="0" />
<polygon points="1685,803.6 1689.4,801.1 1689.4,796.2 1685,798.8" fill="#fff" stroke="none" stroke-width="0" />
<polygon points="1699.5,814.5 1702.6,812.7 1702.6,807.8 1699.5,809.6" fill="#fff" stroke="none" stroke-width="0" />
<polygon points="1699.5,808.1 1702.6,806.2 1702.6,801.4 1699.5,803.2" fill="#fff" stroke="none" stroke-width="0" />
<polygon points="1699.5,801.7 1702.6,799.9 1702.6,795 1699.5,796.8" fill="#fff" stroke="none" stroke-width="0" />
<polygon points="1699.5,795.3 1702.6,793.5 1702.6,788.6 1699.5,790.4" fill="#fff" stroke="none" stroke-width="0" />
<polygon points="1683.1,870.8 1704.6,858.4 1704.6,817.1 1683.1,829.5" fill="#000" stroke="#000" stroke-width="0.6" />
<polygon points="1685.2,869.5 1694.3,864.2 1694.3,829.2 1685.2,834.5" fill="#fff" stroke="none" stroke-width="0" />
<polygon points="1685.2,832.5 1702.6,822.5 1702.6,820 1685.2,830" fill="#fff" stroke="none" stroke-width="0" />
<polyline points="1687,854.5 1687,846.5" fill="none" stroke="#000" stroke-width="1.4" />
<polygon points="1697.4,859.5 1702.1,856.8 1702.1,851.2 1697.4,854" fill="#fff" stroke="none" stroke-width="0" />
<polygon points="1697.4,851.2 1702.1,848.5 1702.1,843 1697.4,845.7" fill="#fff" stroke="none" stroke-width="0" />
<polygon points="1697.4,842.9 1702.1,840.1 1702.1,834.6 1697.4,837.4" fill="#fff" stroke="none" stroke-width="0" />
<polygon points="1697.4,834.6 1702.1,831.9 1702.1,826.4 1697.4,829.1" fill="#fff" stroke="none" stroke-width="0" />
<path d="M1659 865 v-18 M1663 862 v-17 M1667 850 l5 8 M1657 866 l16 -9" fill="none" stroke="#000" stroke-width="1.200"/>
<path d="M1675 852.500 q3 3 5.500 0.500" fill="none" stroke="#000" stroke-width="1.200"/>
<polygon points="1592.5,741.6 1647.6,772.8 1724.7,728.2 1724.7,737.2 1647.6,781.8 1592.5,750.6" fill="#fff" stroke="#000" stroke-width="1.5" stroke-linejoin="round"/>
<polygon points="1592.5,741.6 1647.6,772.8 1724.7,728.2 1669.6,697" fill="#fff" stroke="#000" stroke-width="1.5" stroke-linejoin="round"/>
<polygon points="1598.7,741.6 1647.6,769.2 1718.5,728.2 1669.6,700.6" fill="#fff" stroke="#000" stroke-width="1.2" />
<polygon points="1625,752 1639.7,743.5 1639.7,738 1625,746.5" fill="#fff" stroke="#000" stroke-width="1.5" />
<polygon points="1625,752 1612.9,745 1612.9,739.5 1625,746.5" fill="#fff" stroke="#000" stroke-width="1.5" />
<polygon points="1625,746.5 1639.7,738 1627.6,731 1612.9,739.5" fill="#fff" stroke="#000" stroke-width="1.5" />
<path d="M1620 741 q1 -7 7 -6 q5 -3 7 3 q1 5 -4 6 q-6 4 -10 -3z" fill="#f57c00"/><ellipse cx="1628" cy="741" rx="3.2" ry="2" fill="#fff" stroke="#000" stroke-width="1" transform="rotate(-30 1628 741)"/>
<polygon points="1653,737.5 1670.3,727.5 1670.3,725 1653,735" fill="#fff" stroke="#000" stroke-width="1.7" />
<polygon points="1653,737.5 1637.4,728.5 1637.4,726 1653,735" fill="#fff" stroke="#000" stroke-width="1.7" />
<polygon points="1653,735 1670.3,725 1654.7,716 1637.4,726" fill="#fff" stroke="#000" stroke-width="1.7" />
<polygon points="1653,732.5 1666,725 1654.7,718.5 1641.7,726" fill="#fff" stroke="#000" stroke-width="1.5" />
<path d="M1645 727 l14 8 M1650 724 l14 8 M1655 721 l8 13 M1648 731 l14 -8" stroke="#000" stroke-width="1.4" fill="none"/>
<polygon points="1646,762 1663.3,752 1663.3,749.5 1646,759.5" fill="#fff" stroke="#000" stroke-width="1.7" />
<polygon points="1646,762 1630.4,753 1630.4,750.5 1646,759.5" fill="#fff" stroke="#000" stroke-width="1.7" />
<polygon points="1646,759.5 1663.3,749.5 1647.7,740.5 1630.4,750.5" fill="#fff" stroke="#000" stroke-width="1.7" />
<polygon points="1646,757 1659,749.5 1647.7,743 1634.7,750.5" fill="#fff" stroke="#000" stroke-width="1.5" />
<path d="M1640 751.500 q3 -1 5 -3 q3 1 5 -3 M1644 754 q3 -1 5 -3 q3 1 5 -3 M1648 756 q3 -1 5 -3 q3 1 5 -3" stroke="#000" stroke-width="1" fill="none"/>
<polygon points="1673,751 1687.7,742.5 1687.7,738.5 1673,747" fill="#fff" stroke="#000" stroke-width="1.6" />
<polygon points="1673,751 1665.2,746.5 1665.2,742.5 1673,747" fill="#fff" stroke="#000" stroke-width="1.6" />
<polygon points="1673,747 1687.7,738.5 1679.9,734 1665.2,742.5" fill="#fff" stroke="#000" stroke-width="1.6" />
<path d="M1672 742 v4 M1675 740.500 v4 M1678 739 v4 M1681 737 v4" stroke="#000" stroke-width="1.1" fill="none"/>
<path d="M1660 731 q1.500 -3 3 0 l1.500 6 l-1 10 l-3 0 l-1.500 -9z" fill="#111"/><path d="M1656 749 l8 -10 M1664 749 l-6 -14" stroke="#111" stroke-width="1" fill="none"/>
<polygon points="1660.7,692.1 1684,705.2 1684,729.5 1660.7,716.4" fill="#fff" stroke="#000" stroke-width="1.4" />
<polygon points="1684,705.2 1698,697.7 1698,720.2 1684,729.5" fill="#fff" stroke="#000" stroke-width="1.4" />
<polygon points="1660.7,692.1 1674.7,685.2 1698,697.7 1684,705.2" fill="#fff" stroke="#000" stroke-width="1.4" />
<polygon points="1667.5,702.5 1676.5,707.5 1676.5,725 1667.5,720" fill="#fff" stroke="#000" stroke-width="1.5" />
<polyline points="1669.5,709 1669.5,714" fill="none" stroke="#000" stroke-width="1.3" />
<circle cx="1691.500" cy="716" r="4" fill="#f57c00"/><circle cx="1696" cy="713.500" r="3.500" fill="#ff9d1e"/><circle cx="1697" cy="726" r="4.500" fill="#f57c00"/>
<path d="M1687 723 l3 -1.500 l3 1.500 l-1 4 l-4 0z M1694.500 733 l3 -1.500 l3 1.500 l-1.500 4.500 l-3 0z" fill="#111"/>
<ellipse cx="1691" cy="717" rx="2.200" ry="3" fill="none" stroke="#000" stroke-width="1"/>
<ellipse cx="1729.200" cy="885.900" rx="4.300" ry="6.300" transform="rotate(32 1729.200 885.900)" fill="#0a0a0a"/>
<path d="M1714.8 893 L1720.9 880.9 L1728.6 885.3 L1723.1 889.7 L1720.9 880.9" fill="none" stroke="#0a0a0a" stroke-width="2.400" stroke-linejoin="round"/>
<ellipse cx="1714.800" cy="893" rx="4.300" ry="6.300" transform="rotate(32 1714.800 893)" fill="#0a0a0a"/>
<circle cx="1716.3" cy="894.4" r="0.450" fill="#fff"/>
<circle cx="1714" cy="896.6" r="0.450" fill="#fff"/>
<circle cx="1712.9" cy="893.8" r="0.450" fill="#fff"/>
<circle cx="1714.4" cy="889.9" r="0.450" fill="#fff"/>
<circle cx="1716.5" cy="890.3" r="0.450" fill="#fff"/>
<circle cx="1730.7" cy="887.3" r="0.450" fill="#fff"/>
<circle cx="1728.4" cy="889.5" r="0.450" fill="#fff"/>
<circle cx="1727.3" cy="886.7" r="0.450" fill="#fff"/>
<circle cx="1728.8" cy="882.8" r="0.450" fill="#fff"/>
<circle cx="1730.9" cy="883.2" r="0.450" fill="#fff"/>
<path d="M1719.8 872.1 L1725.3 871 L1728.6 878.7 L1725.3 888.6 L1720.9 883.1 z" fill="#0a0a0a"/>
<path d="M1720.9 871.5 L1724.2 870.4 L1725.3 875.9 L1723.1 878.7 z" fill="#fff" stroke="#0a0a0a" stroke-width="1"/>
<path d="M1720.1 873.2 L1715.1 878.1 L1716.5 880.3" fill="none" stroke="#0a0a0a" stroke-width="2.200" stroke-linecap="round" stroke-linejoin="round"/>
<path d="M1723.6 883.6 L1722.5 888.6" fill="none" stroke="#fff" stroke-width="1" stroke-linecap="round"/>
<path d="M1721.2 863 L1717.6 866 L1717.9 869 L1720.9 870.7 L1723.6 868.8 L1723.6 865.2 z" fill="#fff" stroke="#0a0a0a" stroke-width="1.500" stroke-linejoin="round"/>
<path d="M1717.6 866 L1720.6 867.4 L1723.6 865.2" fill="none" stroke="#0a0a0a" stroke-width="1"/>
<path d="M1718.7 867.4 l0.200 1.500" stroke="#e86a3a" stroke-width="0.900" fill="none"/>
<path d="M1764.9 855.8 V804.1 h4 V855.8 z" fill="#fff" stroke="#000" stroke-width="1.400"/>
<path d="M1769 835 q4 -2 4.500 -8" fill="none" stroke="#000" stroke-width="1.300"/>
<g fill="url(#g7t2)"><polygon points="1771.4,819 1779.1,818.4 1786.3,816 1797,813.6 1799.6,819 1799.9,825.5 1796.4,830.5 1786.3,833.8 1782.5,836.8 1775,837.4 1772.3,833.2 1771.1,825.5" stroke="url(#g7t2)" stroke-width="1" stroke-linejoin="round"/><circle cx="1771.4" cy="819" r="1.3"/><circle cx="1775.3" cy="818.7" r="1.6"/><circle cx="1779.1" cy="818.4" r="1.5"/><circle cx="1782.7" cy="817.2" r="1.7"/><circle cx="1786.3" cy="816" r="1.7"/><circle cx="1789.8" cy="815.2" r="1.2"/><circle cx="1793.4" cy="814.4" r="1.1"/><circle cx="1797" cy="813.6" r="1.9"/><circle cx="1799.6" cy="819" r="1.4"/><circle cx="1799.7" cy="822.3" r="1.3"/><circle cx="1799.9" cy="825.5" r="2.1"/><circle cx="1798.1" cy="828" r="1.6"/><circle cx="1796.4" cy="830.5" r="1.9"/><circle cx="1793" cy="831.6" r="1.6"/><circle cx="1789.6" cy="832.7" r="1.7"/><circle cx="1786.3" cy="833.8" r="1.3"/><circle cx="1782.5" cy="836.8" r="1.7"/><circle cx="1778.7" cy="837.1" r="2"/><circle cx="1775" cy="837.4" r="1.6"/><circle cx="1772.3" cy="833.2" r="1.8"/><circle cx="1771.7" cy="829.4" r="1.8"/><circle cx="1771.1" cy="825.5" r="1.2"/><circle cx="1771.2" cy="822.3" r="1.9"/></g>
<g fill="url(#g7t1)"><polygon points="1766.1,771.1 1776.2,775.6 1780.6,782.2 1785.7,787.3 1792.4,790.8 1798.1,797.6 1799.1,805.3 1795.8,811.9 1788.6,816 1779.1,817.2 1772,816 1771.8,807.7 1768.5,805.6 1768.1,825.5 1764.9,828.1 1754.2,832.6 1746.5,832.6 1741.7,827.3 1740.5,817.2 1744.1,810.1 1744.7,799.4 1743.5,791.1 1745.9,782.2 1751.2,776.6 1758,772.7" stroke="url(#g7t1)" stroke-width="1" stroke-linejoin="round"/><circle cx="1766.1" cy="771.1" r="1.4"/><circle cx="1769.4" cy="772.6" r="1.3"/><circle cx="1772.8" cy="774.1" r="1.6"/><circle cx="1776.2" cy="775.6" r="1.4"/><circle cx="1778.4" cy="778.9" r="1.3"/><circle cx="1780.6" cy="782.2" r="1.6"/><circle cx="1783.1" cy="784.7" r="2.1"/><circle cx="1785.7" cy="787.3" r="2"/><circle cx="1789.1" cy="789.1" r="2"/><circle cx="1792.4" cy="790.8" r="1.4"/><circle cx="1795.3" cy="794.2" r="1.7"/><circle cx="1798.1" cy="797.6" r="1.5"/><circle cx="1798.6" cy="801.5" r="1.4"/><circle cx="1799.1" cy="805.3" r="1.3"/><circle cx="1797.4" cy="808.6" r="1.4"/><circle cx="1795.8" cy="811.9" r="2.1"/><circle cx="1792.2" cy="813.9" r="2"/><circle cx="1788.6" cy="816" r="2"/><circle cx="1785.5" cy="816.4" r="2"/><circle cx="1782.3" cy="816.8" r="1.4"/><circle cx="1779.1" cy="817.2" r="1.5"/><circle cx="1775.6" cy="816.6" r="1.8"/><circle cx="1772" cy="816" r="1.9"/><circle cx="1771.9" cy="811.9" r="2.1"/><circle cx="1771.8" cy="807.7" r="2.1"/><circle cx="1768.5" cy="805.6" r="1.3"/><circle cx="1768.4" cy="808.9" r="1.8"/><circle cx="1768.3" cy="812.2" r="1.9"/><circle cx="1768.3" cy="815.5" r="1.7"/><circle cx="1768.2" cy="818.9" r="1.4"/><circle cx="1768.2" cy="822.2" r="1.7"/><circle cx="1768.1" cy="825.5" r="1.3"/><circle cx="1764.9" cy="828.1" r="2.1"/><circle cx="1761.3" cy="829.6" r="2.1"/><circle cx="1757.8" cy="831.1" r="1.7"/><circle cx="1754.2" cy="832.6" r="1.5"/><circle cx="1750.3" cy="832.6" r="2.1"/><circle cx="1746.5" cy="832.6" r="1.8"/><circle cx="1744.1" cy="830" r="2.1"/><circle cx="1741.7" cy="827.3" r="2"/><circle cx="1741.3" cy="823.9" r="1.7"/><circle cx="1740.9" cy="820.6" r="1.6"/><circle cx="1740.5" cy="817.2" r="1.8"/><circle cx="1742.3" cy="813.6" r="1.6"/><circle cx="1744.1" cy="810.1" r="1.4"/><circle cx="1744.3" cy="806.5" r="1.5"/><circle cx="1744.5" cy="803" r="2"/><circle cx="1744.7" cy="799.4" r="1.2"/><circle cx="1744.1" cy="795.2" r="1.2"/><circle cx="1743.5" cy="791.1" r="1.8"/><circle cx="1744.3" cy="788.1" r="1.5"/><circle cx="1745.1" cy="785.1" r="1.7"/><circle cx="1745.9" cy="782.2" r="1.7"/><circle cx="1748.6" cy="779.4" r="1.5"/><circle cx="1751.2" cy="776.6" r="2.2"/><circle cx="1754.6" cy="774.6" r="1.4"/><circle cx="1758" cy="772.7" r="1.6"/><circle cx="1762" cy="771.9" r="1.4"/></g>
<polygon points="1768.5,806 1771.2,807.2 1771.2,818.4 1769.9,823.1 1768.5,825.5" fill="#fff" stroke="none" stroke-width="0" />
<path d="M1768.1 825.5 V805.6" fill="none" stroke="#000" stroke-width="1.200"/>
<path d="M1771.8 816 V807.7" fill="none" stroke="#000" stroke-width="1.200"/>
<polygon points="1332.3,1073.3 1348,1064.5 1396.5,1084.1 1372.7,1098.5" fill="#fbd6fa" stroke="none" stroke-width="0" />
<ellipse cx="1302" cy="1034.3" rx="19" ry="10.5" fill="url(#g8glow)" stroke="none" stroke-width="0" />
<path d="M1415.7,883.9 L1443,891.2 L1445,896.6 L1445,1030.4 L1399.1,1058.8 L1399.1,922 Q1404,904.5 1415.7,883.9z" fill="url(#g8p)"/>
<polygon points="1359.1,849.4 1386.4,857.2 1443,891.2 1415.7,883.9 1404,904.5 1399.1,918.1 1344.4,883.9" fill="#fff" stroke="none" stroke-width="0" />
<path d="M1344.4,883.9 L1359.1,849.4 L1386.4,857.2 L1443,891.2 L1415.7,883.9 Q1404,904.5 1400.5,919.1" fill="none" stroke="#000" stroke-width="1.4" stroke-linejoin="round"/>
<polyline points="1359.1,849.4 1387.4,859.5" fill="none" stroke="#000" stroke-width="0" />
<polygon points="1340.5,1028.5 1399.1,1058.8 1399.1,918.1 1340.5,886.9" fill="#fff" stroke="#000" stroke-width="1.4" />
<polygon points="1394.2,1056.4 1399.1,1058.8 1399.1,914.2 1394.2,911.9" fill="#fff" stroke="#000" stroke-width="1.3" />
<polygon points="1393,911.3 1396.6,909.5 1400.5,911.5 1400.5,914.2 1397,916.2 1393,913.8" fill="#fff" stroke="#000" stroke-width="1.2" />
<polyline points="1340.5,904.5 1399.1,934.7" fill="none" stroke="#000" stroke-width="1.1" />
<polyline points="1340.5,907.4 1399.1,937.7" fill="none" stroke="#000" stroke-width="1.1" />
<polyline points="1340.5,937.7 1399.1,967.9" fill="none" stroke="#000" stroke-width="1.1" />
<polyline points="1340.5,940 1399.1,970.3" fill="none" stroke="#000" stroke-width="1.1" />
<polyline points="1340.5,942.3 1399.1,972.6" fill="none" stroke="#000" stroke-width="1.1" />
<polyline points="1340.5,946.4 1399.1,976.7" fill="none" stroke="#000" stroke-width="1.1" />
<polyline points="1340.5,949.4 1399.1,979.7" fill="none" stroke="#000" stroke-width="1.1" />
<polyline points="1340.5,984.5 1399.1,1014.8" fill="none" stroke="#000" stroke-width="1.1" />
<polyline points="1340.5,986.9 1399.1,1017.2" fill="none" stroke="#000" stroke-width="1.1" />
<polyline points="1340.5,989.2 1399.1,1019.5" fill="none" stroke="#000" stroke-width="1.1" />
<polyline points="1340.5,993.3 1399.1,1023.6" fill="none" stroke="#000" stroke-width="1.1" />
<polyline points="1340.5,996.2 1399.1,1026.5" fill="none" stroke="#000" stroke-width="1.1" />
<polyline points="1340.5,1021.6 1399.1,1051.9" fill="none" stroke="#000" stroke-width="1.1" />
<polyline points="1340.5,1024 1399.1,1054.3" fill="none" stroke="#000" stroke-width="1.1" />
<polyline points="1340.5,1026.5 1399.1,1056.8" fill="none" stroke="#000" stroke-width="1.1" />
<polyline points="1340.5,1030.4 1399.1,1060.7" fill="none" stroke="#000" stroke-width="1.1" />
<polygon points="1339.1,892.3 1344.4,889.8 1363.9,900 1363.9,903.5 1358.7,906 1339.1,895.7" fill="#fff" stroke="#000" stroke-width="1.3" />
<polyline points="1339.1,895.7 1358.7,906" fill="none" stroke="#000" stroke-width="0" />
<polyline points="1340.5,897.8 1359.1,907.4" fill="none" stroke="#000" stroke-width="1.0" />
<polyline points="1359.1,912.1 1359.1,1038.1" fill="none" stroke="#000" stroke-width="1.1" />
<polyline points="1362,913.6 1362,1039.6" fill="none" stroke="#000" stroke-width="1.1" />
<polyline points="1365.3,915.3 1365.3,1041.3" fill="none" stroke="#000" stroke-width="1.1" />
<polyline points="1388.4,927.2 1388.4,1053.2" fill="none" stroke="#000" stroke-width="1.1" />
<polyline points="1391.3,928.8 1391.3,1054.7" fill="none" stroke="#000" stroke-width="1.1" />
<polygon points="1344.4,931.8 1356.1,937.9 1356.1,920.9 1355.8,918.7 1355,916.5 1353.7,914.4 1352.1,912.6 1350.3,911.4 1348.5,910.8 1346.8,910.8 1345.5,911.6 1344.7,913 1344.4,914.8" fill="#000" stroke="#000" stroke-width="0.8" stroke-linejoin="round"/>
<polygon points="1353.9,919.7 1353.7,918.3 1353.2,916.9 1352.4,915.5 1351.4,914.4 1351.2,914.3 1351.2,917.2 1353.9,918.6" fill="#fff" stroke="none" stroke-width="0" />
<polygon points="1349.4,913.4 1349.2,913.2 1348.1,913.3 1347.3,913.8 1346.8,914.7 1346.6,916 1346.6,914.8 1349.4,916.3" fill="#fff" stroke="none" stroke-width="0" />
<polygon points="1346.6,917.1 1349.4,918.5 1349.4,929.7 1346.6,928.3" fill="#fff" stroke="none" stroke-width="0" />
<polygon points="1346.6,930.1 1349.4,931.5 1349.4,932.1 1346.6,930.7" fill="#fff" stroke="none" stroke-width="0" />
<polygon points="1351.2,919.4 1353.9,920.8 1353.9,932.1 1351.2,930.7" fill="#fff" stroke="none" stroke-width="0" />
<polygon points="1351.2,932.4 1353.9,933.9 1353.9,934.5 1351.2,933.1" fill="#fff" stroke="none" stroke-width="0" />
<polygon points="1343.8,982.6 1356.7,989.2 1356.7,961.2 1356.4,958.8 1355.5,956.4 1354.1,954.1 1352.3,952.1 1350.3,950.8 1348.3,950.1 1346.5,950.1 1345.1,951 1344.1,952.5 1343.8,954.5" fill="#000" stroke="#000" stroke-width="0.8" stroke-linejoin="round"/>
<polygon points="1354.3,959.9 1354.1,958.4 1353.5,956.8 1352.6,955.3 1351.5,954.1 1351.3,953.9 1351.3,957.1 1354.3,958.7" fill="#9a4dff" stroke="none" stroke-width="0" />
<polygon points="1349.3,952.9 1349,952.8 1347.9,952.9 1347,953.4 1346.5,954.4 1346.3,955.8 1346.3,954.6 1349.3,956.1" fill="#9a4dff" stroke="none" stroke-width="0" />
<polygon points="1346.3,957 1349.3,958.6 1349.3,978.2 1346.3,976.7" fill="#9a4dff" stroke="none" stroke-width="0" />
<polygon points="1346.3,978.6 1349.3,980.2 1349.3,983 1346.3,981.4" fill="#9a4dff" stroke="none" stroke-width="0" />
<polygon points="1351.3,959.6 1354.3,961.1 1354.3,980.8 1351.3,979.3" fill="#9a4dff" stroke="none" stroke-width="0" />
<polygon points="1351.3,981.2 1354.3,982.8 1354.3,985.5 1351.3,984" fill="#9a4dff" stroke="none" stroke-width="0" />
<polygon points="1343.4,1032.4 1356.1,1038.9 1356.1,1007.8 1355.8,1005.5 1354.9,1003.1 1353.5,1000.8 1351.7,998.9 1349.8,997.6 1347.8,996.9 1346.1,997 1344.6,997.8 1343.7,999.3 1343.4,1001.3" fill="#000" stroke="#000" stroke-width="0.8" stroke-linejoin="round"/>
<polygon points="1353.7,1006.6 1353.5,1005.1 1353,1003.5 1352.1,1002.1 1351,1000.8 1350.8,1000.7 1350.8,1003.9 1353.7,1005.4" fill="#fff" stroke="none" stroke-width="0" />
<polygon points="1348.8,999.7 1348.6,999.6 1347.5,999.7 1346.6,1000.2 1346,1001.2 1345.8,1002.5 1345.8,1001.3 1348.8,1002.9" fill="#fff" stroke="none" stroke-width="0" />
<polygon points="1345.8,1003.7 1348.8,1005.3 1348.8,1027.4 1345.8,1025.8" fill="#fff" stroke="none" stroke-width="0" />
<polygon points="1345.8,1027.8 1348.8,1029.3 1348.8,1032.8 1345.8,1031.2" fill="#fff" stroke="none" stroke-width="0" />
<polygon points="1350.8,1006.3 1353.7,1007.8 1353.7,1029.9 1350.8,1028.4" fill="#fff" stroke="none" stroke-width="0" />
<polygon points="1350.8,1030.3 1353.7,1031.8 1353.7,1035.3 1350.8,1033.8" fill="#fff" stroke="none" stroke-width="0" />
<polygon points="1346.4,1008 1353.6,1011.7 1353.6,1030.4 1346.4,1026.7" fill="#9a4dff" stroke="#000" stroke-width="1.4" />
<polygon points="1348.5,1015.8 1351.6,1017.3 1351.6,1028.5 1348.5,1026.9" fill="#fff" stroke="#000" stroke-width="1.0" />
<path d="M1345,1002.1 Q1347.3,994.3 1355.2,1004.1" fill="none" stroke="#9a4dff" stroke-width="2"/>
<polygon points="1368.8,925.9 1385.4,934.5 1385.4,917.3 1385,914.3 1383.8,911.1 1382,908.1 1379.7,905.6 1377.1,903.9 1374.6,903 1372.2,903.1 1370.4,904.2 1369.2,906.1 1368.8,908.7" fill="#000" stroke="#000" stroke-width="0.8" stroke-linejoin="round"/>
<polygon points="1382.3,915.7 1382,913.7 1381.3,911.6 1380.2,909.7 1378.7,908.1 1378.4,907.9 1378.4,912.1 1382.3,914.1" fill="#fff" stroke="none" stroke-width="0" />
<polygon points="1375.9,906.6 1375.5,906.5 1374.1,906.6 1373,907.3 1372.2,908.6 1372,910.3 1372,908.8 1375.9,910.8" fill="#fff" stroke="none" stroke-width="0" />
<polygon points="1372,911.9 1375.9,913.9 1375.9,924.5 1372,922.5" fill="#fff" stroke="none" stroke-width="0" />
<polygon points="1372,925 1375.9,927 1375.9,926.4 1372,924.4" fill="#fff" stroke="none" stroke-width="0" />
<polygon points="1378.4,915.2 1382.3,917.2 1382.3,927.8 1378.4,925.8" fill="#fff" stroke="none" stroke-width="0" />
<polygon points="1378.4,928.4 1382.3,930.4 1382.3,929.7 1378.4,927.7" fill="#fff" stroke="none" stroke-width="0" />
<polygon points="1368.8,979.6 1387.4,989.2 1387.4,968.2 1386.9,964.8 1385.6,961.3 1383.6,958 1381,955.2 1378.1,953.2 1375.2,952.2 1372.7,952.3 1370.6,953.5 1369.3,955.7 1368.8,958.6" fill="#000" stroke="#000" stroke-width="0.8" stroke-linejoin="round"/>
<polygon points="1383.9,966.4 1383.6,964.2 1382.8,961.9 1381.5,959.7 1379.9,958 1379.5,957.6 1379.5,962.4 1383.9,964.6" fill="#9a4dff" stroke="none" stroke-width="0" />
<polygon points="1376.7,956.2 1376.3,956.1 1374.7,956.2 1373.5,957.1 1372.6,958.5 1372.4,960.4 1372.4,958.7 1376.7,960.9" fill="#9a4dff" stroke="none" stroke-width="0" />
<polygon points="1372.4,962.2 1376.7,964.4 1376.7,977.7 1372.4,975.4" fill="#9a4dff" stroke="none" stroke-width="0" />
<polygon points="1372.4,978.3 1376.7,980.5 1376.7,980.2 1372.4,977.9" fill="#9a4dff" stroke="none" stroke-width="0" />
<polygon points="1379.5,965.9 1383.9,968.1 1383.9,981.4 1379.5,979.1" fill="#9a4dff" stroke="none" stroke-width="0" />
<polygon points="1379.5,982 1383.9,984.2 1383.9,983.9 1379.5,981.6" fill="#9a4dff" stroke="none" stroke-width="0" />
<polygon points="1367.9,1042.1 1388.4,1052.8 1388.4,1021.1 1387.9,1017.3 1386.4,1013.4 1384.1,1009.8 1381.3,1006.7 1378.1,1004.5 1374.9,1003.4 1372.1,1003.5 1369.8,1004.8 1368.4,1007.2 1367.9,1010.5" fill="#000" stroke="#000" stroke-width="0.8" stroke-linejoin="round"/>
<polygon points="1384.5,1019 1384.2,1016.6 1383.2,1014.1 1381.8,1011.7 1380.1,1009.8 1379.7,1009.4 1379.7,1014.6 1384.5,1017.1" fill="#fff" stroke="none" stroke-width="0" />
<polygon points="1376.5,1007.8 1376.1,1007.7 1374.4,1007.9 1373,1008.8 1372.1,1010.4 1371.7,1012.5 1371.7,1010.5 1376.5,1013" fill="#fff" stroke="none" stroke-width="0" />
<polygon points="1371.7,1014.4 1376.5,1016.9 1376.5,1038.1 1371.7,1035.6" fill="#fff" stroke="none" stroke-width="0" />
<polygon points="1371.7,1038.7 1376.5,1041.2 1376.5,1042.7 1371.7,1040.3" fill="#fff" stroke="none" stroke-width="0" />
<polygon points="1379.7,1018.5 1384.5,1021 1384.5,1042.2 1379.7,1039.7" fill="#fff" stroke="none" stroke-width="0" />
<polygon points="1379.7,1042.8 1384.5,1045.3 1384.5,1046.8 1379.7,1044.4" fill="#fff" stroke="none" stroke-width="0" />
<path d="M1368.8,1011.9 Q1371.2,996.2 1387.4,1015.8" fill="none" stroke="#9a4dff" stroke-width="2.2"/>
<polygon points="1371.2,1032.4 1385.4,1039.8 1385.4,1050 1371.2,1042.5" fill="#fff" stroke="#000" stroke-width="1.5" />
<polyline points="1374.7,1034.2 1374.7,1044.4" fill="none" stroke="#000" stroke-width="1.2" />
<polyline points="1378.2,1036 1378.2,1046.2" fill="none" stroke="#000" stroke-width="1.2" />
<polyline points="1381.7,1037.8 1381.7,1048" fill="none" stroke="#000" stroke-width="1.2" />
<path d="M1359.1,919.1 L1365.9,916.8 L1389.9,929.3 L1389.9,942.5 L1385.4,941 L1360,927.9 z" fill="#0a0a0a"/>
<path d="M1366.9,932.8 L1383.5,941.4 L1383.5,938.6 L1366.9,930 z" fill="#fff"/>
<path d="M1359.1,972.8 L1365.9,970.5 L1389.9,983 L1389.9,996.2 L1385.4,994.7 L1360,981.6 z" fill="#0a0a0a"/>
<path d="M1366.9,986.5 L1383.5,995.1 L1383.5,992.3 L1366.9,983.8 z" fill="#fff"/>
<polygon points="1389.7,1010 1392.9,1011.6 1392.9,1018.4 1389.7,1016.8" fill="#fff" stroke="#000" stroke-width="1.0" />
<polygon points="1395.2,1012.8 1398.3,1014.4 1398.3,1021.3 1395.2,1019.6" fill="#fff" stroke="#000" stroke-width="1.0" />
<polygon points="1389.7,1021.7 1392.9,1023.3 1392.9,1030.1 1389.7,1028.5" fill="#fff" stroke="#000" stroke-width="1.0" />
<polygon points="1395.2,1024.5 1398.3,1026.1 1398.3,1033 1395.2,1031.4" fill="#fff" stroke="#000" stroke-width="1.0" />
<polygon points="1389.7,1033.4 1392.9,1035 1392.9,1041.9 1389.7,1040.3" fill="#fff" stroke="#000" stroke-width="1.0" />
<polygon points="1395.2,1036.2 1398.3,1037.9 1398.3,1044.7 1395.2,1043.1" fill="#fff" stroke="#000" stroke-width="1.0" />
<polygon points="1389.7,1043.2 1392.9,1044.8 1392.9,1051.6 1389.7,1050" fill="#fff" stroke="#000" stroke-width="1.0" />
<polygon points="1395.2,1046 1398.3,1047.6 1398.3,1054.5 1395.2,1052.8" fill="#fff" stroke="#000" stroke-width="1.0" />
<polygon points="1360,1025.5 1364.3,1027.7 1364.3,1034.3 1360,1032.2" fill="#fff" stroke="#000" stroke-width="1.0" />
<polygon points="1365.9,888.8 1378.6,883.9 1393.2,903.5 1388.4,906 1388.4,922 1365.9,910.3" fill="#fff" stroke="#000" stroke-width="1.4" />
<polygon points="1378.6,883.9 1389.3,875.2 1405,896.6 1393.2,903.5" fill="#fff" stroke="#000" stroke-width="1.4" stroke-linejoin="round"/>
<polygon points="1362,886.9 1378.6,883.9 1389.3,875.2" fill="#fff" stroke="#000" stroke-width="1.3" stroke-linejoin="round"/>
<polyline points="1393.2,903.5 1405,896.6" fill="none" stroke="#000" stroke-width="1.4" />
<polygon points="1368.8,925.9 1385.4,934.5 1385.4,917.3 1385,914.3 1383.8,911.1 1382,908.1 1379.7,905.6 1377.1,903.9 1374.6,903 1372.2,903.1 1370.4,904.2 1369.2,906.1 1368.8,908.7" fill="#000" stroke="#000" stroke-width="0.8" stroke-linejoin="round"/>
<polygon points="1382.3,915.7 1382,913.7 1381.3,911.6 1380.2,909.7 1378.7,908.1 1378.4,907.9 1378.4,912.1 1382.3,914.1" fill="#fff" stroke="none" stroke-width="0" />
<polygon points="1375.9,906.6 1375.5,906.5 1374.1,906.6 1373,907.3 1372.2,908.6 1372,910.3 1372,908.8 1375.9,910.8" fill="#fff" stroke="none" stroke-width="0" />
<polygon points="1372,911.9 1375.9,913.9 1375.9,924.5 1372,922.5" fill="#fff" stroke="none" stroke-width="0" />
<polygon points="1372,925 1375.9,927 1375.9,926.4 1372,924.4" fill="#fff" stroke="none" stroke-width="0" />
<polygon points="1378.4,915.2 1382.3,917.2 1382.3,927.8 1378.4,925.8" fill="#fff" stroke="none" stroke-width="0" />
<polygon points="1378.4,928.4 1382.3,930.4 1382.3,929.7 1378.4,927.7" fill="#fff" stroke="none" stroke-width="0" />
<path d="M1300.500 1032 V1008 h3.600 V1032z" fill="#fff" stroke="#000" stroke-width="1.3"/>
<path d="M1300.500 1020 q-3 -2 -3.500 -6" fill="none" stroke="#000" stroke-width="1.200"/>
<ellipse cx="1302.2" cy="1033.9" rx="6.5" ry="4" fill="#fff" stroke="#000" stroke-width="1.6" />
<ellipse cx="1302.2" cy="1033.7" rx="3.6" ry="2.1" fill="#555" stroke="#000" stroke-width="1" />
<g fill="url(#g8t)"><polygon points="1316.4,997.5 1316.9,1001 1314.3,1003.8 1313.4,1007.1 1311.7,1010.2 1307.9,1011.2 1305.2,1013.5 1302,1015.1 1298.3,1014 1294.8,1014.5 1291.1,1014.1 1288.7,1011.2 1285.4,1009.7 1282.6,1007.5 1282.3,1003.8 1280.4,1000.9 1279.4,997.5 1281.3,994.3 1281.5,990.9 1282.6,987.5 1286.1,985.9 1288.2,983.1 1291.1,980.9 1294.9,981.4 1298.3,980.1 1302,979.9 1304.9,982.3 1308.4,983 1311.6,984.8 1312.7,988.4 1315.2,990.8 1316.8,994" stroke="url(#g8t)" stroke-width="1" stroke-linejoin="round"/><circle cx="1316.4" cy="997.5" r="1.6"/><circle cx="1316.9" cy="1001" r="1.5"/><circle cx="1314.3" cy="1003.8" r="1.2"/><circle cx="1313.4" cy="1007.1" r="2"/><circle cx="1311.7" cy="1010.2" r="1.1"/><circle cx="1307.9" cy="1011.2" r="1.6"/><circle cx="1305.2" cy="1013.5" r="2"/><circle cx="1302" cy="1015.1" r="1.2"/><circle cx="1298.3" cy="1014" r="1.7"/><circle cx="1294.8" cy="1014.5" r="1.7"/><circle cx="1291.1" cy="1014.1" r="1.1"/><circle cx="1288.7" cy="1011.2" r="1.5"/><circle cx="1285.4" cy="1009.7" r="1.8"/><circle cx="1282.6" cy="1007.5" r="1.6"/><circle cx="1282.3" cy="1003.8" r="1.8"/><circle cx="1280.4" cy="1000.9" r="1.3"/><circle cx="1279.4" cy="997.5" r="1.3"/><circle cx="1281.3" cy="994.3" r="1.2"/><circle cx="1281.5" cy="990.9" r="1.6"/><circle cx="1282.6" cy="987.5" r="2"/><circle cx="1286.1" cy="985.9" r="1.7"/><circle cx="1288.2" cy="983.1" r="1.9"/><circle cx="1291.1" cy="980.9" r="1.5"/><circle cx="1294.9" cy="981.4" r="1.8"/><circle cx="1298.3" cy="980.1" r="1.2"/><circle cx="1302" cy="979.9" r="1.4"/><circle cx="1304.9" cy="982.3" r="1.8"/><circle cx="1308.4" cy="983" r="1.8"/><circle cx="1311.6" cy="984.8" r="1.5"/><circle cx="1312.7" cy="988.4" r="1.2"/><circle cx="1315.2" cy="990.8" r="1.4"/><circle cx="1316.8" cy="994" r="1.3"/></g>
<polygon points="1343.1,1054.5 1356.8,1047.3 1379.2,1059.6 1365.4,1067.5" fill="#fff" stroke="#000" stroke-width="1.3" />
<polygon points="1343.1,1054.5 1365.4,1067.5 1373.5,1091 1343.1,1074" fill="#fff" stroke="#000" stroke-width="1.3" stroke-linejoin="round"/>
<polygon points="1345.2,1059 1356.8,1065.5 1356.8,1079 1345.2,1072.5" fill="url(#g8v)" stroke="#000" stroke-width="1.0" />
<polyline points="1358.5,1064 1358.5,1082.5" fill="none" stroke="#000" stroke-width="1.1" />
<polygon points="1365.4,1067.5 1379.2,1059.6 1384.2,1069.7 1371.2,1077" fill="#111" stroke="#000" stroke-width="1.2" />
<polygon points="1371.2,1077 1384.2,1069.7 1389.3,1079 1389.3,1084 1374.2,1091.5 1373.5,1084" fill="#fff" stroke="#000" stroke-width="1.3" stroke-linejoin="round"/>
<polygon points="1377.5,1085.5 1385.5,1081.5 1385.5,1084.5 1377.5,1088.5" fill="#9a4dff" stroke="#000" stroke-width="0.8" />
<polygon points="1359.5,1069 1364.5,1071.8 1366.5,1079 1359.5,1075.5" fill="#111" stroke="#000" stroke-width="0.6" />
<ellipse cx="1348.8" cy="1076.9" rx="2.8" ry="3.7" fill="#111"/><ellipse cx="1348.4" cy="1077" rx="0.7" ry="1" fill="#fff"/>
<ellipse cx="1366.6" cy="1086.3" rx="2.8" ry="3.7" fill="#111"/><ellipse cx="1366.2" cy="1086.4" rx="0.7" ry="1" fill="#fff"/>
<ellipse cx="1502.5" cy="707.5" rx="48" ry="21.4" fill="#d4d4d4" stroke="none" stroke-width="0" />
<ellipse cx="1502.5" cy="705.2" rx="14.5" ry="8.4" fill="#fff" stroke="#000" stroke-width="1.5" />
<ellipse cx="1502.5" cy="703.4" rx="14.5" ry="8.4" fill="#fff" stroke="#000" stroke-width="1.5" />
<ellipse cx="1502.5" cy="703.2" rx="8.2" ry="4.6" fill="#fff" stroke="#000" stroke-width="1.4" />
<path d="M1498.700 703.500 V640 h6.900 V703.500 q-3.400 1.600 -6.900 0z" fill="#fff" stroke="#000" stroke-width="1.5"/>
<path d="M1498.700 676 q-1 -9 -10 -13 l1.500 -2.500 q6 2 9 7" fill="#fff" stroke="#000" stroke-width="1.400"/>
<g fill="#2c0552"><polygon points="1496.4,576.8 1505.6,581.4 1517,584.4 1520.9,592.9 1527.7,595.9 1532.3,605.1 1536.1,619.6 1540,628.8 1536.1,635.6 1529.3,641 1524.7,646.3 1517.8,644.4 1505.6,647.4 1497.9,651.4 1494.6,657.8 1484.2,663.6 1470.4,665.1 1459,662.1 1454.4,656.6 1450.6,647.1 1451.3,637.9 1446.3,624.2 1448.6,613.5 1450.1,604.6 1459.4,592.1 1468.1,590 1475,583.2 1486,581.7" stroke="#2c0552" stroke-width="1" stroke-linejoin="round"/><circle cx="1496.4" cy="576.8" r="2.1"/><circle cx="1501" cy="579.1" r="3.1"/><circle cx="1505.6" cy="581.4" r="3"/><circle cx="1511.3" cy="582.9" r="2.3"/><circle cx="1517" cy="584.4" r="2.6"/><circle cx="1518.9" cy="588.7" r="2.5"/><circle cx="1520.9" cy="592.9" r="2.8"/><circle cx="1527.7" cy="595.9" r="3"/><circle cx="1530" cy="600.5" r="2"/><circle cx="1532.3" cy="605.1" r="1.9"/><circle cx="1533.6" cy="609.9" r="3.1"/><circle cx="1534.9" cy="614.8" r="2.5"/><circle cx="1536.1" cy="619.6" r="3"/><circle cx="1538" cy="624.2" r="1.9"/><circle cx="1540" cy="628.8" r="2.5"/><circle cx="1536.1" cy="635.6" r="2.9"/><circle cx="1532.7" cy="638.3" r="2.2"/><circle cx="1529.3" cy="641" r="3.2"/><circle cx="1524.7" cy="646.3" r="3.2"/><circle cx="1517.8" cy="644.4" r="1.9"/><circle cx="1513.7" cy="645.4" r="1.9"/><circle cx="1509.6" cy="646.4" r="2.7"/><circle cx="1505.6" cy="647.4" r="3.2"/><circle cx="1501.8" cy="649.4" r="2.4"/><circle cx="1497.9" cy="651.4" r="2.2"/><circle cx="1494.6" cy="657.8" r="2.5"/><circle cx="1489.4" cy="660.7" r="1.9"/><circle cx="1484.2" cy="663.6" r="2.2"/><circle cx="1479.6" cy="664.1" r="2.5"/><circle cx="1475" cy="664.6" r="2.6"/><circle cx="1470.4" cy="665.1" r="2.2"/><circle cx="1464.7" cy="663.6" r="2.2"/><circle cx="1459" cy="662.1" r="2.2"/><circle cx="1454.4" cy="656.6" r="2.5"/><circle cx="1452.5" cy="651.8" r="2.3"/><circle cx="1450.6" cy="647.1" r="1.9"/><circle cx="1450.9" cy="642.5" r="3.1"/><circle cx="1451.3" cy="637.9" r="2.7"/><circle cx="1449.6" cy="633.3" r="2.8"/><circle cx="1448" cy="628.8" r="2.2"/><circle cx="1446.3" cy="624.2" r="3.3"/><circle cx="1447.4" cy="618.8" r="3.1"/><circle cx="1448.6" cy="613.5" r="2.1"/><circle cx="1449.3" cy="609.1" r="2.4"/><circle cx="1450.1" cy="604.6" r="2.9"/><circle cx="1453.2" cy="600.4" r="2.9"/><circle cx="1456.3" cy="596.3" r="3.2"/><circle cx="1459.4" cy="592.1" r="2.5"/><circle cx="1463.8" cy="591" r="3.1"/><circle cx="1468.1" cy="590" r="2.8"/><circle cx="1471.6" cy="586.6" r="2.3"/><circle cx="1475" cy="583.2" r="2.7"/><circle cx="1480.5" cy="582.5" r="3.1"/><circle cx="1486" cy="581.7" r="3.1"/><circle cx="1491.2" cy="579.3" r="2.6"/></g>
<polygon points="432.3,935.2 489.3,902.8 601.5,967.7 544.4,1000.9" fill="#d4d4d4" stroke="none" stroke-width="0" />
<g transform="translate(492.2 925.6) rotate(-24)"><ellipse rx="11.5" ry="20.5" fill="#fff" stroke="#000" stroke-width="1.5"/><ellipse cx="-0.8" rx="9" ry="17" fill="#d4d4d4" stroke="#000" stroke-width="1.3"/><line x1="0" y1="0" x2="7.9" y2="4.8" stroke="#000" stroke-width="2.6"/><line x1="0" y1="0" x2="7.9" y2="4.8" stroke="#fff" stroke-width="0.9"/><line x1="0" y1="0" x2="1.8" y2="15.8" stroke="#000" stroke-width="2.6"/><line x1="0" y1="0" x2="1.8" y2="15.8" stroke="#fff" stroke-width="0.9"/><line x1="0" y1="0" x2="-6.1" y2="11" stroke="#000" stroke-width="2.6"/><line x1="0" y1="0" x2="-6.1" y2="11" stroke="#fff" stroke-width="0.9"/><line x1="0" y1="0" x2="-7.9" y2="-4.8" stroke="#000" stroke-width="2.6"/><line x1="0" y1="0" x2="-7.9" y2="-4.8" stroke="#fff" stroke-width="0.9"/><line x1="0" y1="0" x2="-1.8" y2="-15.8" stroke="#000" stroke-width="2.6"/><line x1="0" y1="0" x2="-1.8" y2="-15.8" stroke="#fff" stroke-width="0.9"/><line x1="0" y1="0" x2="6.1" y2="-11" stroke="#000" stroke-width="2.6"/><line x1="0" y1="0" x2="6.1" y2="-11" stroke="#fff" stroke-width="0.9"/><ellipse rx="2" ry="3" fill="#fff" stroke="#000" stroke-width="1.2"/></g>
<path d="M493 926 L519 909 L541 938 L513 939 Z M519 909 L513 939 M524.500 918 L543 954" fill="none" stroke="#000" stroke-width="3.2" stroke-linejoin="round"/>
<path d="M493 926 L519 909 L541 938 L513 939 Z M519 909 L513 939 M524.500 918 L543 954" fill="none" stroke="#fff" stroke-width="1.1" stroke-linejoin="round"/>
<g transform="translate(543.8 954.3) rotate(-24)"><ellipse rx="11.5" ry="20.5" fill="#fff" stroke="#000" stroke-width="1.5"/><ellipse cx="-0.8" rx="9" ry="17" fill="#d4d4d4" stroke="#000" stroke-width="1.3"/><line x1="0" y1="0" x2="7.9" y2="4.8" stroke="#000" stroke-width="2.6"/><line x1="0" y1="0" x2="7.9" y2="4.8" stroke="#fff" stroke-width="0.9"/><line x1="0" y1="0" x2="1.8" y2="15.8" stroke="#000" stroke-width="2.6"/><line x1="0" y1="0" x2="1.8" y2="15.8" stroke="#fff" stroke-width="0.9"/><line x1="0" y1="0" x2="-6.1" y2="11" stroke="#000" stroke-width="2.6"/><line x1="0" y1="0" x2="-6.1" y2="11" stroke="#fff" stroke-width="0.9"/><line x1="0" y1="0" x2="-7.9" y2="-4.8" stroke="#000" stroke-width="2.6"/><line x1="0" y1="0" x2="-7.9" y2="-4.8" stroke="#fff" stroke-width="0.9"/><line x1="0" y1="0" x2="-1.8" y2="-15.8" stroke="#000" stroke-width="2.6"/><line x1="0" y1="0" x2="-1.8" y2="-15.8" stroke="#fff" stroke-width="0.9"/><line x1="0" y1="0" x2="6.1" y2="-11" stroke="#000" stroke-width="2.6"/><line x1="0" y1="0" x2="6.1" y2="-11" stroke="#fff" stroke-width="0.9"/><ellipse rx="2" ry="3" fill="#fff" stroke="#000" stroke-width="1.2"/></g>
<path d="M501.500 905 L506 944 L510 946 L512 906z" fill="#fff" stroke="#000" stroke-width="1.3" stroke-linejoin="round"/>
<path d="M510 906 L514 934 L520 938 L517 905z" fill="#fff" stroke="#000" stroke-width="1.2" stroke-linejoin="round"/>
<path d="M503 946 q-1.500 3 1 4.500 l7 2.500 q2 -1 1 -3.500 l-5 -4z" fill="#fff" stroke="#000" stroke-width="1.3"/>
<ellipse cx="516" cy="940.500" rx="3" ry="3.500" fill="#fff" stroke="#000" stroke-width="1.3"/>
<path d="M521.500 918.500 L543 905.500" stroke="#000" stroke-width="5" stroke-linecap="round" fill="none"/><path d="M521.500 918.500 L543 905.500" stroke="#fff" stroke-width="2.600" stroke-linecap="round" fill="none"/>
<path d="M523 921 l3.500 9 l3.500 -2 l-2 -9z" fill="#fff" stroke="#000" stroke-width="1.2"/>
<path d="M514 868.500 q-9 4 -12.500 17 l-3.500 14 q-1.500 3 0.500 5 q9 4 21 3.500 l3 -12 l8 -22 q-1 -6 -4.500 -7.500 q-6 -2 -12 2z" fill="#fff" stroke="#000" stroke-width="1.4" stroke-linejoin="round"/>
<path d="M508 880 L522 909 M515.500 880 L524 905 M527.500 884 q4 11 13 18 M523 896 l17 12" fill="none" stroke="#000" stroke-width="1.300"/>
<path d="M527.500 884 q5 10 13 17 l-2 4 l-14 -9z" fill="#fff" stroke="none"/><path d="M527.500 883 q5 11 13.500 18" fill="none" stroke="#000" stroke-width="1.3"/>
<circle cx="541.500" cy="903.500" r="3.200" fill="#fff" stroke="#000" stroke-width="1.3"/><circle cx="524.500" cy="914" r="3.200" fill="#fff" stroke="#000" stroke-width="1.3"/>
<polygon points="522.5,848.4 516,856.6 514.5,867.4 523.6,873.9 532.6,869.6 534.7,858.8" fill="#fff" stroke="#000" stroke-width="1.5" stroke-linejoin="round"/>
<polyline points="516,856.6 525.3,862.8 534.7,858.8" fill="none" stroke="#000" stroke-width="1.3" />
<polyline points="525.3,862.8 523.6,873.9" fill="none" stroke="#000" stroke-width="1.3" />
<path d="M527.300 863.500 l-0.600 3.500 M530.300 862.200 l-0.600 3.500" stroke="#e8434f" stroke-width="1.300" fill="none"/>
<path d="M1043 421 a46 20.500 0 0 0 92 0 q2 -6 12 -4 a22 12.600 0 1 0 -12 -10 q-4 5 -12 3 a46 20.500 0 0 0 -80 11z" fill="#d4d4d4"/>
<ellipse cx="1088.8" cy="420.9" rx="46" ry="20.3" fill="#d4d4d4" stroke="none" stroke-width="0" />
<ellipse cx="1158.9" cy="411" rx="22" ry="12.6" fill="#d4d4d4" stroke="none" stroke-width="0" />
<polygon points="1100,412 1140,404 1145,420 1120,432" fill="#d4d4d4" stroke="none" stroke-width="0" />
<path d="M1091.6 367.6 L1086.7 411.1 L1090.2 419.5 L1100 411.1 L1106.3 366.9 Z" fill="#fff" stroke="#000" stroke-width="1.4" stroke-linejoin="round" stroke-linecap="round"/>
<path d="M1095.8 415.3 Q1102.8 415.3 1106.8 420.2 L1102.8 421.6 L1095.1 418.1 Z" fill="#fff" stroke="#000" stroke-width="1.4" stroke-linejoin="round" stroke-linecap="round"/>
<path d="M1090.2 332.6 Q1086 341 1088.1 369 Q1097.2 370.4 1106.3 366.2 L1107.3 350.8 Q1114 352.2 1121 348 L1119.6 344.5 Q1114 346.6 1110.5 346.6 Q1108.4 338.2 1104.2 329.8 Z" fill="#fff" stroke="#000" stroke-width="1.4" stroke-linejoin="round" stroke-linecap="round"/>
<path d="M1119.6 344.5 Q1122.4 340.3 1125.2 341.7 L1126.6 344.5 L1130.8 345.9 Q1128 348.7 1121 348 Z" fill="#fff" stroke="#000" stroke-width="1.4" stroke-linejoin="round" stroke-linecap="round"/>
<path d="M1091.2 306 L1086 315.1 L1090.2 327.7 L1095.8 331.9 L1106.3 326.3 L1106.8 314.4 Z" fill="#fff" stroke="#000" stroke-width="1.4" stroke-linejoin="round" stroke-linecap="round"/>
<path d="M1086 315.1 L1100 320 L1106.8 314.4 M1100 320 L1095.8 331.9 " fill="none" stroke="#000" stroke-width="1.2" stroke-linejoin="round" stroke-linecap="round"/>
<path d="M1099.6 321.7 l0.300 3 M1103.1 319.3 l0.300 3 M1100.4 326.3 l2.500 -1" stroke="#e8434f" stroke-width="1.300" fill="none"/>
<path d="M1067.1 374.6 L1067.8 419.5 L1076.2 419.5 L1078.3 383 L1086 418.1 L1091.6 416.7 L1088.1 371.8 Z" fill="#fff" stroke="#000" stroke-width="1.4" stroke-linejoin="round" stroke-linecap="round"/>
<path d="M1066.7 423 Q1070.6 419.5 1074.8 421.6 L1080.1 426.5 L1069.2 427.2 Z" fill="#fff" stroke="#000" stroke-width="1.4" stroke-linejoin="round" stroke-linecap="round"/>
<path d="M1079 421.6 Q1083.2 418.1 1087.4 419.5 L1092.3 424.4 L1081.8 425.1 Z" fill="#fff" stroke="#000" stroke-width="1.4" stroke-linejoin="round" stroke-linecap="round"/>
<path d="M1072 334 Q1065 341 1061.5 350.8 Q1060.1 356.4 1063.6 360.6 L1067.5 364.8 L1068.5 376 Q1079 376 1088.1 372.5 L1086.7 338.2 Q1081.8 332.6 1072 334 Z" fill="#fff" stroke="#000" stroke-width="1.4" stroke-linejoin="round" stroke-linecap="round"/>
<path d="M1063.6 350.8 L1071.3 346.6 M1063.6 360.6 Q1070.6 367.6 1073.4 367.6 Q1075.5 364.8 1072 361.3 L1068.5 355 " fill="none" stroke="#000" stroke-width="1.3" stroke-linejoin="round" stroke-linecap="round"/>
<path d="M1074.8 312.3 L1069.6 320 L1070.6 333.3 L1079.7 337.9 L1088.8 332.6 L1089.5 321.1 Z" fill="#fff" stroke="#000" stroke-width="1.4" stroke-linejoin="round" stroke-linecap="round"/>
<path d="M1069.6 320 L1082.5 325.6 L1089.5 321.1 M1082.5 325.6 L1079.7 337.9 " fill="none" stroke="#000" stroke-width="1.2" stroke-linejoin="round" stroke-linecap="round"/>
<path d="M1082.5 329.5 l1.500 -0.500 M1086 326.5 l1.500 -0.500" stroke="#e8434f" stroke-width="1.300" fill="none"/>
<path d="M1144.8 356.4 L1149 401.2 L1153.9 401.2 L1155.4 374.6 L1161 404 L1165.2 403.3 L1165.9 359.2 Z" fill="#fff" stroke="#000" stroke-width="1.4" stroke-linejoin="round" stroke-linecap="round"/>
<path d="M1144.8 409.6 Q1146.2 404 1153.2 401.2 L1155.4 404.7 L1147.6 410.4 Z" fill="#fff" stroke="#000" stroke-width="1.4" stroke-linejoin="round" stroke-linecap="round"/>
<path d="M1159.6 406.1 Q1161 403.3 1165.6 404 L1165.2 411.8 L1161 413.2 Z" fill="#fff" stroke="#000" stroke-width="1.4" stroke-linejoin="round" stroke-linecap="round"/>
<path d="M1146.2 321.4 Q1143.4 327 1144.1 343.8 L1145.1 355.7 Q1156.1 360.6 1166.1 359.2 Q1171.5 348 1171.5 336.8 Q1170.8 325.6 1164.5 318.6 L1153.2 320 Z" fill="#fff" stroke="#000" stroke-width="1.4" stroke-linejoin="round" stroke-linecap="round"/>
<path d="M1145.1 331.2 Q1140.6 336.8 1136.4 340.3 Q1130.8 335.4 1129.4 328.4 L1126.6 327 Q1123.8 321.4 1125.2 318.6 L1128 321.4 L1128.7 317.9 L1130.8 320 L1131.5 325.6 Q1136.4 334 1137.8 334 Q1142 328.4 1146.2 322.1 " fill="#fff" stroke="#000" stroke-width="1.3" stroke-linejoin="round" stroke-linecap="round"/>
<path d="M1152.5 322.1 L1149.7 336.8 L1152.5 341 L1155.4 338.2 L1154.4 322.1 Z" fill="#fff" stroke="#000" stroke-width="1.2" stroke-linejoin="round" stroke-linecap="round"/>
<path d="M1153 341 Q1158.9 337.5 1163.1 337.5 Q1163.8 346.6 1156.8 353.6 L1153.9 354.3 Z" fill="#e8403c" stroke="#c22" stroke-width="0.8" stroke-linejoin="round" stroke-linecap="round"/>
<path d="M1161.7 328.4 Q1165.2 336.8 1163.1 350.8 L1160.3 353.6 Q1156.1 356.4 1154.6 354.3 Q1157.5 352.2 1161 351.9 " fill="none" stroke="#000" stroke-width="1.3" stroke-linejoin="round" stroke-linecap="round"/>
<path d="M1158.9 295.9 L1144.8 304.6 L1146 317.9 L1153.9 321.1 L1164.7 316.1 L1164.5 303.9 Z" fill="#fff" stroke="#000" stroke-width="1.4" stroke-linejoin="round" stroke-linecap="round"/>
<path d="M1144.8 304.6 L1152.5 308.1 L1164.5 303.9 M1152.5 308.1 L1153.9 321.1 M1152.5 308.1 L1158.9 295.9 " fill="none" stroke="#000" stroke-width="1.2" stroke-linejoin="round" stroke-linecap="round"/>
<path d="M1147.4 309.5 l0.200 3 M1150.4 310.6 l0.200 3 M1148.8 315.1 l1.500 0.500" stroke="#e8434f" stroke-width="1.300" fill="none"/>
<g transform="translate(1276.1 344) scale(0.29)"><path d="M1091.6 367.6 L1086.7 411.1 L1090.2 419.5 L1100 411.1 L1106.3 366.9 Z" fill="#fff" stroke="#000" stroke-width="4.2" stroke-linejoin="round" stroke-linecap="round"/><path d="M1095.8 415.3 Q1102.8 415.3 1106.8 420.2 L1102.8 421.6 L1095.1 418.1 Z" fill="#fff" stroke="#000" stroke-width="4.2" stroke-linejoin="round" stroke-linecap="round"/><path d="M1090.2 332.6 Q1086 341 1088.1 369 Q1097.2 370.4 1106.3 366.2 L1107.3 350.8 Q1114 352.2 1121 348 L1119.6 344.5 Q1114 346.6 1110.5 346.6 Q1108.4 338.2 1104.2 329.8 Z" fill="#fff" stroke="#000" stroke-width="4.2" stroke-linejoin="round" stroke-linecap="round"/><path d="M1119.6 344.5 Q1122.4 340.3 1125.2 341.7 L1126.6 344.5 L1130.8 345.9 Q1128 348.7 1121 348 Z" fill="#fff" stroke="#000" stroke-width="4.2" stroke-linejoin="round" stroke-linecap="round"/><path d="M1091.2 306 L1086 315.1 L1090.2 327.7 L1095.8 331.9 L1106.3 326.3 L1106.8 314.4 Z" fill="#fff" stroke="#000" stroke-width="4.2" stroke-linejoin="round" stroke-linecap="round"/><path d="M1086 315.1 L1100 320 L1106.8 314.4 M1100 320 L1095.8 331.9 " fill="none" stroke="#000" stroke-width="3.6" stroke-linejoin="round" stroke-linecap="round"/><path d="M1099.6 321.7 l0.300 3 M1103.1 319.3 l0.300 3 M1100.4 326.3 l2.500 -1" stroke="#e8434f" stroke-width="3.9" fill="none"/><path d="M1067.1 374.6 L1067.8 419.5 L1076.2 419.5 L1078.3 383 L1086 418.1 L1091.6 416.7 L1088.1 371.8 Z" fill="#fff" stroke="#000" stroke-width="4.2" stroke-linejoin="round" stroke-linecap="round"/><path d="M1066.7 423 Q1070.6 419.5 1074.8 421.6 L1080.1 426.5 L1069.2 427.2 Z" fill="#fff" stroke="#000" stroke-width="4.2" stroke-linejoin="round" stroke-linecap="round"/><path d="M1079 421.6 Q1083.2 418.1 1087.4 419.5 L1092.3 424.4 L1081.8 425.1 Z" fill="#fff" stroke="#000" stroke-width="4.2" stroke-linejoin="round" stroke-linecap="round"/><path d="M1072 334 Q1065 341 1061.5 350.8 Q1060.1 356.4 1063.6 360.6 L1067.5 364.8 L1068.5 376 Q1079 376 1088.1 372.5 L1086.7 338.2 Q1081.8 332.6 1072 334 Z" fill="#fff" stroke="#000" stroke-width="4.2" stroke-linejoin="round" stroke-linecap="round"/><path d="M1063.6 350.8 L1071.3 346.6 M1063.6 360.6 Q1070.6 367.6 1073.4 367.6 Q1075.5 364.8 1072 361.3 L1068.5 355 " fill="none" stroke="#000" stroke-width="3.9" stroke-linejoin="round" stroke-linecap="round"/><path d="M1074.8 312.3 L1069.6 320 L1070.6 333.3 L1079.7 337.9 L1088.8 332.6 L1089.5 321.1 Z" fill="#fff" stroke="#000" stroke-width="4.2" stroke-linejoin="round" stroke-linecap="round"/><path d="M1069.6 320 L1082.5 325.6 L1089.5 321.1 M1082.5 325.6 L1079.7 337.9 " fill="none" stroke="#000" stroke-width="3.6" stroke-linejoin="round" stroke-linecap="round"/><path d="M1082.5 329.5 l1.500 -0.500 M1086 326.5 l1.500 -0.500" stroke="#e8434f" stroke-width="3.9" fill="none"/><path d="M1144.8 356.4 L1149 401.2 L1153.9 401.2 L1155.4 374.6 L1161 404 L1165.2 403.3 L1165.9 359.2 Z" fill="#fff" stroke="#000" stroke-width="4.2" stroke-linejoin="round" stroke-linecap="round"/><path d="M1144.8 409.6 Q1146.2 404 1153.2 401.2 L1155.4 404.7 L1147.6 410.4 Z" fill="#fff" stroke="#000" stroke-width="4.2" stroke-linejoin="round" stroke-linecap="round"/><path d="M1159.6 406.1 Q1161 403.3 1165.6 404 L1165.2 411.8 L1161 413.2 Z" fill="#fff" stroke="#000" stroke-width="4.2" stroke-linejoin="round" stroke-linecap="round"/><path d="M1146.2 321.4 Q1143.4 327 1144.1 343.8 L1145.1 355.7 Q1156.1 360.6 1166.1 359.2 Q1171.5 348 1171.5 336.8 Q1170.8 325.6 1164.5 318.6 L1153.2 320 Z" fill="#fff" stroke="#000" stroke-width="4.2" stroke-linejoin="round" stroke-linecap="round"/><path d="M1145.1 331.2 Q1140.6 336.8 1136.4 340.3 Q1130.8 335.4 1129.4 328.4 L1126.6 327 Q1123.8 321.4 1125.2 318.6 L1128 321.4 L1128.7 317.9 L1130.8 320 L1131.5 325.6 Q1136.4 334 1137.8 334 Q1142 328.4 1146.2 322.1 " fill="#fff" stroke="#000" stroke-width="3.9" stroke-linejoin="round" stroke-linecap="round"/><path d="M1152.5 322.1 L1149.7 336.8 L1152.5 341 L1155.4 338.2 L1154.4 322.1 Z" fill="#fff" stroke="#000" stroke-width="3.6" stroke-linejoin="round" stroke-linecap="round"/><path d="M1153 341 Q1158.9 337.5 1163.1 337.5 Q1163.8 346.6 1156.8 353.6 L1153.9 354.3 Z" fill="#e8403c" stroke="#c22" stroke-width="2.4" stroke-linejoin="round" stroke-linecap="round"/><path d="M1161.7 328.4 Q1165.2 336.8 1163.1 350.8 L1160.3 353.6 Q1156.1 356.4 1154.6 354.3 Q1157.5 352.2 1161 351.9 " fill="none" stroke="#000" stroke-width="3.9" stroke-linejoin="round" stroke-linecap="round"/><path d="M1158.9 295.9 L1144.8 304.6 L1146 317.9 L1153.9 321.1 L1164.7 316.1 L1164.5 303.9 Z" fill="#fff" stroke="#000" stroke-width="4.2" stroke-linejoin="round" stroke-linecap="round"/><path d="M1144.8 304.6 L1152.5 308.1 L1164.5 303.9 M1152.5 308.1 L1153.9 321.1 M1152.5 308.1 L1158.9 295.9 " fill="none" stroke="#000" stroke-width="3.6" stroke-linejoin="round" stroke-linecap="round"/><path d="M1147.4 309.5 l0.200 3 M1150.4 310.6 l0.200 3 M1148.8 315.1 l1.500 0.500" stroke="#e8434f" stroke-width="3.9" fill="none"/></g>
</svg></body></html>
